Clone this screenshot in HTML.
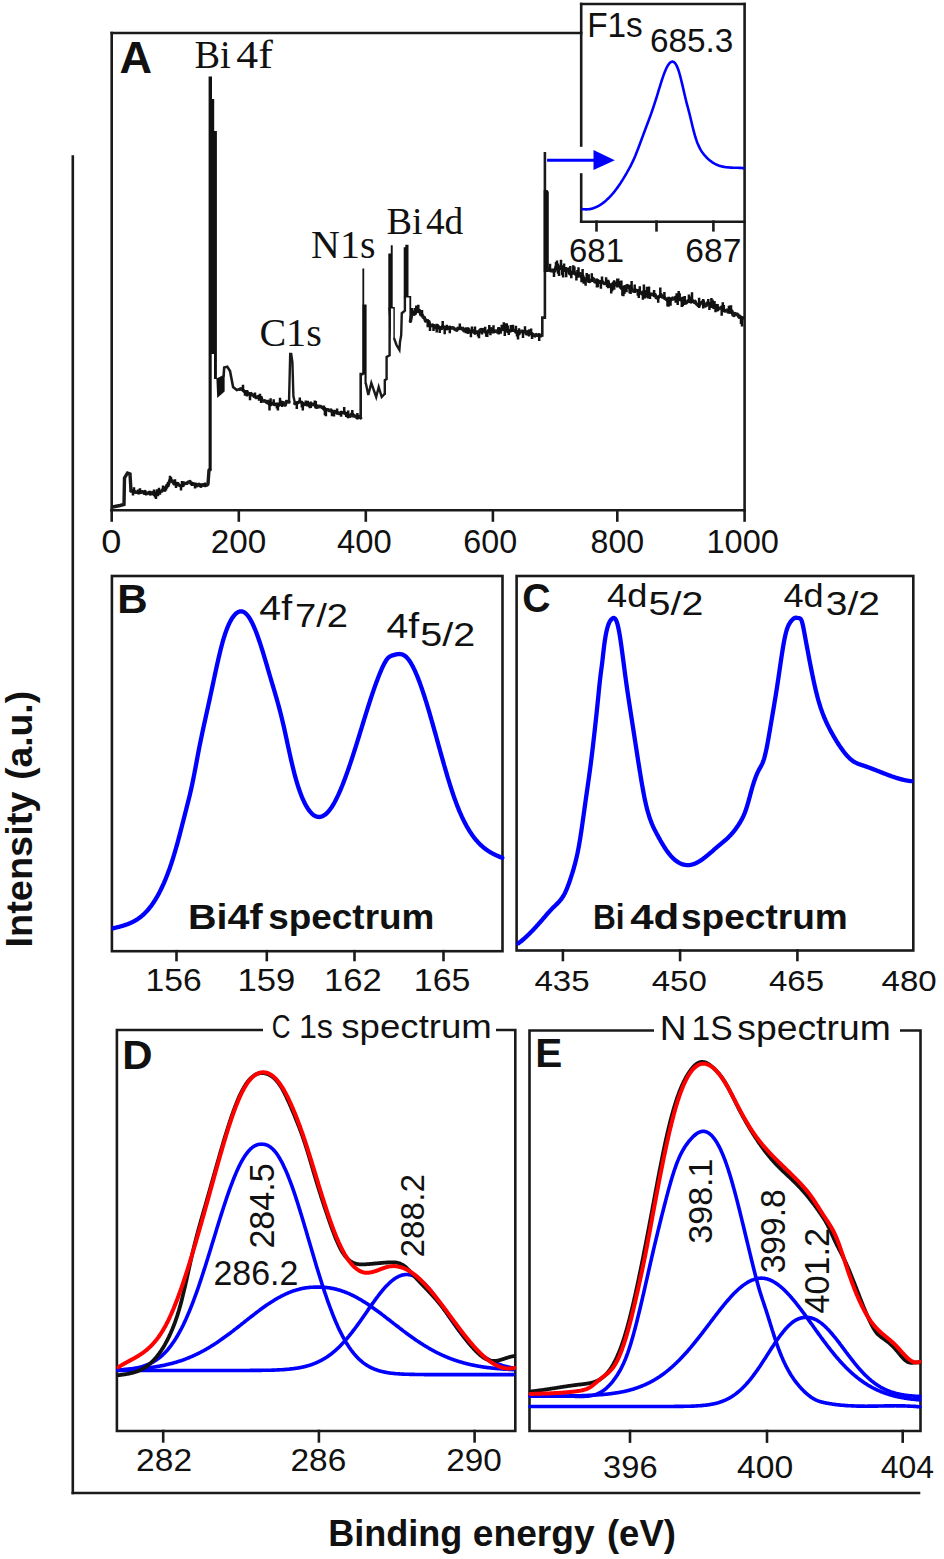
<!DOCTYPE html>
<html><head><meta charset="utf-8"><style>
html,body{margin:0;padding:0;background:#fff;}
svg{display:block;}
</style></head><body>
<svg width="944" height="1559" viewBox="0 0 944 1559">
<rect width="944" height="1559" fill="#fff"/>
<line x1="72.8" y1="156.5" x2="72.8" y2="1493" stroke="#1a1a1a" stroke-width="2.6" stroke-linecap="square"/>
<line x1="72.8" y1="1493" x2="919" y2="1493" stroke="#1a1a1a" stroke-width="2.6" stroke-linecap="square"/>
<text transform="translate(32.30,947.57) rotate(-90) scale(1.0109,1)" font-family="'Liberation Sans', sans-serif" font-weight="bold" font-size="37.54" fill="#111">Intensity</text>
<text transform="translate(32.30,779.86) rotate(-90) scale(0.9923,1)" font-family="'Liberation Sans', sans-serif" font-weight="bold" font-size="37.54" fill="#111">(a.u.)</text>
<text transform="translate(328.26,1546.00) scale(0.9640,1)" font-family="'Liberation Sans', sans-serif" font-weight="bold" font-size="37.39" fill="#111">Binding</text>
<text transform="translate(472.81,1546.00) scale(0.9937,1)" font-family="'Liberation Sans', sans-serif" font-weight="bold" font-size="37.39" fill="#111">energy</text>
<text transform="translate(606.98,1546.00) scale(0.9756,1)" font-family="'Liberation Sans', sans-serif" font-weight="bold" font-size="37.39" fill="#111">(eV)</text>
<line x1="111.7" y1="33" x2="581.2" y2="33" stroke="#1a1a1a" stroke-width="2.6" stroke-linecap="square"/>
<line x1="111.7" y1="33" x2="111.7" y2="510.3" stroke="#1a1a1a" stroke-width="2.6" stroke-linecap="square"/>
<line x1="111.7" y1="510.3" x2="744.6" y2="510.3" stroke="#1a1a1a" stroke-width="2.6" stroke-linecap="square"/>
<line x1="744.6" y1="4" x2="744.6" y2="510.3" stroke="#1a1a1a" stroke-width="2.6" stroke-linecap="square"/>
<line x1="581.2" y1="4" x2="744.6" y2="4" stroke="#1a1a1a" stroke-width="2.6" stroke-linecap="square"/>
<line x1="581.2" y1="4" x2="581.2" y2="145.5" stroke="#1a1a1a" stroke-width="2.6" stroke-linecap="square"/>
<line x1="581.2" y1="174.5" x2="581.2" y2="221.7" stroke="#1a1a1a" stroke-width="2.6" stroke-linecap="square"/>
<line x1="581.2" y1="221.7" x2="744.6" y2="221.7" stroke="#1a1a1a" stroke-width="2.6" stroke-linecap="square"/>
<line x1="111.7" y1="510.3" x2="111.7" y2="520.5" stroke="#1a1a1a" stroke-width="2.6" stroke-linecap="square"/>
<line x1="238.8" y1="510.3" x2="238.8" y2="520.5" stroke="#1a1a1a" stroke-width="2.6" stroke-linecap="square"/>
<line x1="365.8" y1="510.3" x2="365.8" y2="520.5" stroke="#1a1a1a" stroke-width="2.6" stroke-linecap="square"/>
<line x1="492.9" y1="510.3" x2="492.9" y2="520.5" stroke="#1a1a1a" stroke-width="2.6" stroke-linecap="square"/>
<line x1="617.3" y1="510.3" x2="617.3" y2="520.5" stroke="#1a1a1a" stroke-width="2.6" stroke-linecap="square"/>
<line x1="744.6" y1="510.3" x2="744.6" y2="520.5" stroke="#1a1a1a" stroke-width="2.6" stroke-linecap="square"/>
<line x1="596.5" y1="221.7" x2="596.5" y2="230.3" stroke="#1a1a1a" stroke-width="2.6" stroke-linecap="square"/>
<line x1="656.5" y1="221.7" x2="656.5" y2="230.3" stroke="#1a1a1a" stroke-width="2.6" stroke-linecap="square"/>
<line x1="713.4" y1="221.7" x2="713.4" y2="230.3" stroke="#1a1a1a" stroke-width="2.6" stroke-linecap="square"/>
<text transform="translate(101.15,553.18) scale(1.1178,1)" font-family="'Liberation Sans', sans-serif" font-weight="normal" font-size="32.39" fill="#111">0</text>
<text transform="translate(210.64,553.18) scale(1.0270,1)" font-family="'Liberation Sans', sans-serif" font-weight="normal" font-size="32.39" fill="#111">200</text>
<text transform="translate(336.98,553.18) scale(1.0110,1)" font-family="'Liberation Sans', sans-serif" font-weight="normal" font-size="32.39" fill="#111">400</text>
<text transform="translate(463.29,553.18) scale(0.9957,1)" font-family="'Liberation Sans', sans-serif" font-weight="normal" font-size="32.39" fill="#111">600</text>
<text transform="translate(590.55,553.18) scale(0.9925,1)" font-family="'Liberation Sans', sans-serif" font-weight="normal" font-size="32.39" fill="#111">800</text>
<text transform="translate(706.46,553.18) scale(1.0051,1)" font-family="'Liberation Sans', sans-serif" font-weight="normal" font-size="32.39" fill="#111">1000</text>
<text transform="translate(569.05,261.87) scale(0.9985,1)" font-family="'Liberation Sans', sans-serif" font-weight="normal" font-size="32.96" fill="#111">681</text>
<text transform="translate(685.32,261.87) scale(1.0179,1)" font-family="'Liberation Sans', sans-serif" font-weight="normal" font-size="32.96" fill="#111">687</text>
<text transform="translate(587.13,37.20) scale(0.9711,1)" font-family="'Liberation Sans', sans-serif" font-weight="normal" font-size="34.35" fill="#111">F1s</text>
<text transform="translate(649.93,52.46) scale(0.9824,1)" font-family="'Liberation Sans', sans-serif" font-weight="normal" font-size="33.94" fill="#111">685.3</text>
<text transform="translate(119.47,73.10) scale(1.0131,1)" font-family="'Liberation Sans', sans-serif" font-weight="bold" font-size="44.49" fill="#111">A</text>
<text transform="translate(194.55,67.90) scale(0.9730,1)" font-family="'Liberation Serif', serif" font-weight="normal" font-size="39.39" fill="#111">Bi</text>
<text transform="translate(236.32,67.90) scale(1.1121,1)" font-family="'Liberation Serif', serif" font-weight="normal" font-size="39.39" fill="#111">4f</text>
<text transform="translate(259.40,345.60) scale(1.0133,1)" font-family="'Liberation Serif', serif" font-weight="normal" font-size="39.54" fill="#111">C1s</text>
<text transform="translate(311.10,257.70) scale(0.9984,1)" font-family="'Liberation Serif', serif" font-weight="normal" font-size="40.00" fill="#111">N1s</text>
<text transform="translate(386.45,233.60) scale(0.9922,1)" font-family="'Liberation Serif', serif" font-weight="normal" font-size="38.63" fill="#111">Bi</text>
<text transform="translate(425.95,233.60) scale(0.9662,1)" font-family="'Liberation Serif', serif" font-weight="normal" font-size="38.63" fill="#111">4d</text>
<line x1="548.6" y1="160.2" x2="596" y2="160.2" stroke="#0000ff" stroke-width="3" stroke-linecap="square"/>
<polygon points="593.5,150 614.8,160.2 593.5,170" fill="#0000ff"/>
<polyline points="582.4,209.1 583.0,209.2 583.6,209.3 584.2,209.3 584.8,209.3 585.4,209.4 586.0,209.4 586.6,209.4 587.2,209.3 587.8,209.3 588.4,209.2 589.0,209.2 589.6,209.1 590.2,209.0 590.8,208.9 591.4,208.7 592.0,208.6 592.6,208.4 593.2,208.2 593.8,208.0 594.4,207.8 595.0,207.6 595.6,207.3 596.2,207.1 596.8,206.8 597.4,206.5 598.0,206.2 598.6,205.9 599.2,205.5 599.8,205.2 600.4,204.8 601.0,204.4 601.6,204.0 602.2,203.6 602.8,203.1 603.4,202.7 604.0,202.2 604.6,201.7 605.2,201.2 605.8,200.7 606.4,200.2 607.0,199.6 607.6,199.1 608.2,198.5 608.8,197.9 609.4,197.3 610.0,196.7 610.6,196.0 611.2,195.4 611.8,194.7 612.4,194.0 613.0,193.3 613.6,192.6 614.2,191.8 614.8,191.1 615.4,190.3 616.0,189.5 616.6,188.7 617.2,187.9 617.8,187.1 618.4,186.2 619.0,185.4 619.6,184.5 620.2,183.6 620.8,182.7 621.4,181.7 622.0,180.8 622.6,179.8 623.2,178.9 623.8,177.9 624.4,176.9 625.0,175.9 625.6,174.8 626.2,173.8 626.8,172.8 627.4,171.7 628.0,170.7 628.6,169.6 629.2,168.5 629.8,167.4 630.4,166.3 631.0,165.1 631.6,163.9 632.2,162.7 632.8,161.4 633.4,160.1 634.0,158.8 634.6,157.4 635.2,156.0 635.8,154.5 636.4,153.0 637.0,151.5 637.6,149.9 638.2,148.4 638.8,146.8 639.4,145.2 640.0,143.6 640.6,142.0 641.2,140.4 641.8,138.7 642.4,137.1 643.0,135.5 643.6,133.9 644.2,132.3 644.8,130.7 645.4,129.1 646.0,127.5 646.6,125.9 647.2,124.3 647.8,122.7 648.4,121.1 649.0,119.5 649.6,117.9 650.2,116.2 650.8,114.6 651.4,112.9 652.0,111.2 652.6,109.4 653.2,107.7 653.8,105.9 654.4,104.1 655.0,102.2 655.6,100.4 656.2,98.5 656.8,96.6 657.4,94.6 658.0,92.7 658.6,90.7 659.2,88.7 659.8,86.8 660.4,84.8 661.0,82.9 661.6,81.0 662.2,79.1 662.8,77.3 663.4,75.6 664.0,74.0 664.6,72.4 665.2,70.9 665.8,69.5 666.4,68.2 667.0,67.0 667.6,65.9 668.2,65.0 668.8,64.1 669.4,63.3 670.0,62.7 670.6,62.2 671.2,61.9 671.8,61.7 672.4,61.6 673.0,61.7 673.6,61.9 674.2,62.3 674.8,62.9 675.4,63.6 676.0,64.5 676.6,65.6 677.2,66.9 677.8,68.4 678.4,70.0 679.0,71.9 679.6,74.0 680.2,76.1 680.8,78.5 681.4,80.9 682.0,83.4 682.6,85.9 683.2,88.5 683.8,91.1 684.4,93.7 685.0,96.3 685.6,98.8 686.2,101.2 686.8,103.6 687.4,105.8 688.0,108.0 688.6,110.3 689.2,112.6 689.8,115.0 690.4,117.5 691.0,120.0 691.6,122.5 692.2,125.0 692.8,127.5 693.4,129.9 694.0,132.2 694.6,134.4 695.2,136.5 695.8,138.4 696.4,140.2 697.0,141.9 697.6,143.4 698.2,144.8 698.8,146.2 699.4,147.4 700.0,148.6 700.6,149.7 701.2,150.7 701.8,151.6 702.4,152.5 703.0,153.3 703.6,154.1 704.2,154.8 704.8,155.5 705.4,156.2 706.0,156.9 706.6,157.5 707.2,158.1 707.8,158.7 708.4,159.2 709.0,159.8 709.6,160.3 710.2,160.7 710.8,161.2 711.4,161.6 712.0,162.1 712.6,162.5 713.2,162.8 713.8,163.2 714.4,163.5 715.0,163.9 715.6,164.2 716.2,164.5 716.8,164.7 717.4,165.0 718.0,165.2 718.6,165.5 719.2,165.7 719.8,165.9 720.4,166.0 721.0,166.2 721.6,166.4 722.2,166.5 722.8,166.6 723.4,166.8 724.0,166.9 724.6,167.0 725.2,167.1 725.8,167.2 726.4,167.2 727.0,167.3 727.6,167.4 728.2,167.4 728.8,167.5 729.4,167.5 730.0,167.5 730.6,167.6 731.2,167.6 731.8,167.6 732.4,167.7 733.0,167.7 733.6,167.7 734.2,167.7 734.8,167.7 735.4,167.7 736.0,167.8 736.6,167.8 737.2,167.8 737.8,167.8 738.4,167.8 739.0,167.9 739.6,167.9 740.2,167.9 740.8,167.9 741.4,168.0 742.0,168.0 742.6,168.1 743.2,168.1 743.5,168.2" fill="none" stroke="#0000ff" stroke-width="2.6" stroke-linejoin="round" stroke-linecap="round"/>
<polyline points="112.5,507.0 120.0,505.5 124.0,504.5 124.5,478.0 127.5,473.0 130.0,474.0 131.0,491.0" fill="none" stroke="#1a1a1a" stroke-width="3.4" stroke-linejoin="miter" stroke-linecap="round"/>
<polyline points="131.0,490.9 132.0,490.8 133.0,491.4 134.0,490.9 135.0,492.4 136.0,492.3 137.0,492.2 138.0,492.6 139.0,491.3 140.0,492.2 141.0,492.4 142.0,491.7 143.0,492.1 144.0,492.1 145.0,491.6 146.0,493.9 147.0,493.6 148.0,493.0 149.0,492.5 150.0,494.0 151.0,493.9 152.0,492.7 153.0,492.7 154.0,494.3 155.0,494.6 156.0,494.3 157.0,491.8 158.0,491.8 159.0,491.7 160.0,491.8 161.0,491.2 162.0,491.1 163.0,489.5 164.0,489.7 165.0,487.9 166.0,487.4 167.0,485.3 168.0,485.6 169.0,482.7 170.0,480.0 171.0,479.9 172.0,481.5 173.0,481.3 174.0,483.8 175.0,483.9 176.0,483.3 177.0,483.5 178.0,484.8 179.0,485.0 180.0,485.6 181.0,486.1 182.0,485.4 183.0,485.6 184.0,483.1 185.0,483.6 186.0,483.4 187.0,483.3 188.0,482.2 189.0,481.9 190.0,481.5 191.0,483.4 192.0,483.1 193.0,484.2 194.0,484.0 195.0,484.3 196.0,484.2 197.0,485.8 198.0,484.7 199.0,484.3 200.0,485.8 201.0,486.3 202.0,484.9 203.0,484.8 204.0,485.4 205.0,485.6 206.0,485.3 207.0,485.1 208.0,484.0 209.0,470.0 210.0,470.0" fill="none" stroke="#1a1a1a" stroke-width="3.4" stroke-linejoin="round" stroke-linecap="round"/>
<polygon points="208.6,470 208.6,76.5 212,76.5 212,99 214.2,99 214.2,131 216.9,131 216.9,379 214,379 214,354 211.7,354 211.7,470" fill="#111"/>
<polygon points="216.4,378.5 217.2,398 224.6,391.5 224.6,374.5" fill="#111"/>
<polyline points="223.6,376.0 224.2,367.5 227.3,366.8 230.0,371.0 231.5,378.7 233.1,387.0 236.8,390.0 240.0,389.0" fill="none" stroke="#1a1a1a" stroke-width="2.6" stroke-linejoin="miter" stroke-linecap="round"/>
<polyline points="240.0,389.2 241.0,388.7 242.0,389.2 243.0,390.0 244.0,391.3 245.0,391.6 246.0,392.4 247.0,391.7 248.0,394.1 249.0,393.6 250.0,394.2 251.0,393.6 252.0,394.9 253.0,395.0 254.0,396.3 255.0,396.5 256.0,397.5 257.0,397.5 258.0,396.6 259.0,396.3 260.0,397.8 261.1,397.6 262.1,400.4 263.2,401.0 264.2,400.8 265.3,400.9 266.3,402.1 267.4,402.7 268.4,401.4 269.5,404.3 270.6,404.4 271.6,403.5 272.6,403.5 273.7,404.1 274.8,404.6 275.8,404.2 276.9,404.2 277.9,404.5 278.9,405.2 280.0,403.8 281.1,404.2 282.1,402.8 283.2,402.8 284.3,404.8 285.3,405.1 286.4,401.5 287.7,401.7 289.0,402.0" fill="none" stroke="#1a1a1a" stroke-width="3.4" stroke-linejoin="round" stroke-linecap="round"/>
<polyline points="289.0,402.0 290.2,354.0 291.2,354.0 292.4,362.0 293.4,396.0 294.8,402.5" fill="none" stroke="#1a1a1a" stroke-width="2.4" stroke-linejoin="miter" stroke-linecap="round"/>
<polyline points="294.8,403.6 295.8,403.2 296.8,403.0 297.8,402.7 298.8,402.1 299.8,401.5 300.8,402.0 301.8,402.4 302.8,404.4 303.8,403.8 304.8,404.5 305.8,404.1 306.8,404.8 307.8,404.8 308.8,405.3 309.8,404.7 310.8,403.2 311.8,404.4 312.8,404.7 313.8,404.2 314.8,404.1 315.8,406.7 316.8,407.3 317.9,406.1 318.9,406.9 319.9,406.3 320.9,406.7 321.9,407.4 322.9,407.7 323.9,409.1 324.9,409.0 325.9,410.1 326.9,409.9 328.0,409.7 329.0,410.5 330.0,410.7 331.0,410.0 332.0,411.4 333.0,411.8 334.0,411.4 335.0,411.5 336.0,412.3 337.1,413.0 338.1,412.8 339.1,413.6 340.1,413.5 341.1,412.3 342.1,412.6 343.2,412.8 344.2,412.1 345.2,413.7 346.2,413.5 347.2,415.8 348.2,416.5 349.3,415.7 350.3,416.2 351.3,414.3 352.3,413.9 353.3,415.9 354.3,415.5 355.4,416.3 356.4,417.1 357.4,417.8 358.4,416.7 359.5,416.4 360.7,418.0" fill="none" stroke="#1a1a1a" stroke-width="3.4" stroke-linejoin="round" stroke-linecap="round"/>
<polyline points="360.7,418.0 360.7,374.1 362.6,374.1" fill="none" stroke="#1a1a1a" stroke-width="2.6" stroke-linejoin="miter" stroke-linecap="round"/>
<polygon points="362.2,374.5 362.2,304.6 362.4,304.6 362.4,268.5 364.2,268.5 364.2,304.6 366.6,304.6 366.6,384 364.5,384 364.5,374.5" fill="#111"/>
<polyline points="366.0,384.0 368.3,395.0 371.3,383.0 376.2,397.0 378.7,387.0 381.7,397.0 384.8,393.7" fill="none" stroke="#1a1a1a" stroke-width="2.4" stroke-linejoin="miter" stroke-linecap="round"/>
<polyline points="384.8,393.7 384.8,380.2 386.6,379.0 386.6,357.0 389.6,355.2 389.6,308.3" fill="none" stroke="#1a1a1a" stroke-width="2.4" stroke-linejoin="miter" stroke-linecap="round"/>
<polygon points="388.3,308 388.3,253.4 390.8,253.4 390.8,245.3 392.7,245.3 392.7,307 394.8,307 394.8,339 393.4,339 393.4,308.5 390.8,308.5 390.8,340" fill="#111"/>
<polyline points="394.3,338.8 396.5,345.0 399.4,349.8 400.0,342.0 401.2,335.1 401.8,313.2 404.9,310.7 404.9,297.3" fill="none" stroke="#1a1a1a" stroke-width="2.4" stroke-linejoin="miter" stroke-linecap="round"/>
<polygon points="403.7,297.5 403.7,247.3 405.3,247.3 405.3,244.8 408.5,244.8 408.5,296.1 411.2,296.1 411.2,321 409.4,321 409.4,297.5" fill="#111"/>
<polyline points="410.4,321.3 412.2,312.2 413.2,313.0 414.2,314.1 415.2,313.3 416.3,311.0 417.3,310.8 418.3,311.0 419.5,310.4 420.8,314.8 422.0,314.7 423.2,317.3 424.3,317.4 425.5,321.1 426.6,320.4 427.7,321.1 428.9,321.7 430.0,325.9 431.2,325.7 432.4,324.9 433.5,325.5 434.7,327.6 435.7,327.5 436.7,325.7 437.7,325.8 438.7,327.2 439.7,327.6 440.7,327.9 441.7,328.4 442.7,326.3 443.7,327.0 444.7,328.2 445.8,327.5 446.8,328.7 447.8,328.6 448.8,327.6 449.8,327.5 450.8,327.8 451.8,328.1 452.8,327.7 453.8,328.3 454.8,329.3 455.8,329.8 456.8,330.2 457.8,328.3 458.8,328.7 459.8,328.4 460.8,328.0 461.9,329.0 462.9,328.4 463.9,330.8 464.9,330.7 465.9,329.0 466.9,329.4 467.9,329.0 468.9,329.7 469.9,331.7 470.9,331.6 471.9,331.3 472.9,330.7 473.9,332.3 475.0,332.8 476.0,332.2 477.0,331.8 478.0,332.5 479.0,333.0 480.0,330.0 481.0,329.5 482.1,330.2 483.1,329.5 484.1,331.1 485.2,331.7 486.2,332.4 487.3,332.5 488.3,330.6 489.3,330.8 490.4,329.4 491.4,328.8 492.4,331.8 493.5,331.4 494.5,331.6 495.6,331.0 496.6,331.7 497.6,332.1 498.7,328.7 499.7,329.4 500.7,329.8 501.7,329.0 502.7,329.6 503.8,329.0 504.8,329.5 505.8,329.4 506.8,329.1 507.8,331.2 508.8,330.4 509.9,330.8 510.9,330.5 511.9,330.1 512.9,330.1 513.9,330.4 514.9,330.7 515.9,331.8 517.0,331.8 518.0,333.2 519.0,333.6 520.0,331.2 521.0,331.7 522.0,331.1 523.0,331.8 524.0,331.7 525.0,330.9 526.1,333.7 527.1,333.8 528.1,331.8 529.1,331.2 530.1,333.0 531.1,333.3 532.1,334.2 533.1,334.5 534.1,335.4 535.1,335.9 536.2,334.6 537.2,335.3 538.2,335.3 539.2,335.0 540.2,335.9 541.2,335.8" fill="none" stroke="#1a1a1a" stroke-width="3.4" stroke-linejoin="round" stroke-linecap="round"/>
<polyline points="541.2,335.5 542.3,335.5 542.3,317.6 544.9,317.6 544.9,152.0" fill="none" stroke="#1a1a1a" stroke-width="2.6" stroke-linejoin="miter" stroke-linecap="butt"/>
<polygon points="543.7,190 547.5,190 548.8,192 548.8,272 543.7,272" fill="#111"/>
<polyline points="548.0,269.7 549.0,268.9 550.0,270.0 551.0,270.8 552.0,270.1 553.0,271.1 554.0,270.4 555.0,270.7 556.0,266.9 557.0,267.8 558.0,265.9 559.0,268.9 560.0,268.5 561.0,267.7 562.1,267.6 563.1,270.0 564.1,270.0 565.1,269.0 566.2,269.3 567.2,269.9 568.2,269.6 569.2,272.8 570.3,273.2 571.3,272.5 572.3,273.3 573.3,272.2 574.4,272.5 575.4,274.2 576.4,274.4 577.4,275.2 578.5,275.3 579.5,273.8 580.5,273.6 581.5,276.6 582.6,275.6 583.6,278.5 584.6,279.0 585.6,279.4 586.7,279.6 587.7,279.9 588.7,280.9 589.7,281.5 590.7,280.7 591.8,279.9 592.8,278.4 593.8,279.1 594.8,281.8 595.8,282.1 596.9,280.6 597.9,281.1 598.9,282.3 599.9,281.5 600.9,282.3 602.0,281.3 603.0,282.5 604.0,283.5 605.0,283.6 606.1,283.2 607.1,281.4 608.1,281.7 609.1,285.6 610.1,286.4 611.2,285.7 612.2,285.4 613.2,283.1 614.2,282.5 615.2,284.7 616.3,284.0 617.3,285.4 618.3,284.8 619.3,284.9 620.3,286.6 621.4,287.5 622.4,288.3 623.4,289.0 624.4,287.3 625.5,286.7 626.5,286.3 627.5,285.6 628.5,287.5 629.6,286.8 630.6,288.9 631.6,288.6 632.6,290.7 633.7,291.2 634.7,291.0 635.7,290.2 636.7,290.4 637.8,291.0 638.8,291.1 639.8,291.9 640.8,293.0 641.9,293.8 642.9,292.7 643.9,292.5 644.9,292.4 646.0,291.9 647.0,293.5 648.0,293.8 649.0,293.3 650.0,294.3 651.1,294.2 652.1,294.6 653.1,294.2 654.1,295.4 655.2,294.8 656.2,297.7 657.2,297.8 658.2,297.4 659.3,296.4 660.3,295.5 661.3,294.9 662.3,297.1 663.4,296.7 664.4,297.7 665.4,298.5 666.4,299.5 667.5,300.3 668.5,299.1 669.5,298.6 670.5,300.0 671.6,299.3 672.6,298.0 673.6,299.0 674.6,298.1 675.7,297.4 676.7,298.7 677.7,299.3 678.7,298.5 679.7,299.3 680.8,299.9 681.8,299.5 682.8,299.0 683.8,303.1 684.8,302.4 685.9,303.0 686.9,302.3 687.9,300.8 688.9,300.6 689.9,301.5 691.0,302.0 692.0,300.3 693.0,301.0 694.0,302.3 695.1,301.4 696.1,303.6 697.1,304.5 698.1,305.3 699.1,305.7 700.2,303.7 701.2,302.7 702.2,302.1 703.2,301.2 704.2,305.3 705.3,306.0 706.3,305.5 707.3,303.0 708.3,303.4 709.4,303.8 710.4,304.8 711.4,305.7 712.5,304.9 713.5,307.5 714.5,306.9 715.5,305.9 716.6,305.5 717.6,309.7 718.6,308.9 719.7,308.2 720.7,308.0 721.7,307.8 722.8,307.1 723.8,310.3 724.8,311.1 725.8,310.9 726.9,310.1 727.9,311.8 728.9,311.6 730.0,311.8 731.0,311.8 732.0,311.1 733.0,315.0 734.0,315.5 735.0,313.6 736.0,314.6 737.0,313.9 738.0,314.8 739.0,317.2 740.0,316.3 741.0,317.9 742.0,318.6 743.0,318.0" fill="none" stroke="#1a1a1a" stroke-width="3.4" stroke-linejoin="round" stroke-linecap="round"/>
<path d="M133.0,490.2V495.4 M134.0,492.1V487.2 M138.0,493.5V489.6 M139.0,490.3V494.6 M140.0,493.4V488.2 M144.0,491.3V494.8 M145.0,490.6V495.1 M150.0,495.0V490.7 M154.0,495.7V489.5 M155.0,493.8V497.5 M156.0,492.9V499.1 M157.0,492.7V489.2 M158.0,490.4V496.2 M159.0,492.9V487.8 M160.0,491.0V494.7 M163.0,490.8V485.4 M165.0,486.7V491.8 M166.0,486.5V490.5 M167.0,484.4V488.6 M168.0,486.7V482.0 M170.0,481.3V475.7 M171.0,480.8V476.9 M175.0,485.2V479.2 M176.0,481.9V488.1 M178.0,485.6V482.0 M181.0,484.7V490.6 M182.0,486.8V480.9 M183.0,486.8V481.7 M192.0,482.3V486.1 M195.0,483.1V488.4 M201.0,487.2V483.5 M205.0,486.5V482.4 M243.0,391.5V384.8 M245.0,390.4V395.7 M247.0,390.2V396.6 M250.0,392.4V400.3 M255.0,397.7V392.5 M259.0,395.0V400.7 M260.0,399.0V393.8 M261.1,396.0V403.0 M269.5,402.4V410.4 M270.6,406.3V398.3 M273.7,405.6V399.3 M276.9,403.0V408.4 M277.9,402.7V410.5 M280.0,405.6V397.8 M281.1,405.4V400.4 M282.1,401.6V406.9 M296.8,401.2V409.0 M299.8,402.8V397.4 M301.8,400.9V407.6 M302.8,402.6V410.4 M305.8,405.1V400.6 M307.8,406.0V400.8 M309.8,403.6V408.3 M310.8,401.8V408.1 M314.8,405.2V400.4 M315.8,408.4V401.1 M323.9,410.2V405.5 M324.9,407.2V415.2 M325.9,408.3V416.2 M332.0,410.0V416.3 M334.0,410.0V416.4 M337.1,414.3V408.5 M341.1,411.0V416.8 M344.2,413.6V406.9 M346.2,412.4V417.0 M348.2,418.3V410.5 M352.3,415.0V410.1 M357.4,419.2V413.0 M412.2,313.4V307.9 M414.2,315.2V310.4 M415.2,314.9V308.0 M416.3,312.6V305.6 M418.3,312.9V304.8 M422.0,316.1V309.9 M427.7,319.3V327.3 M428.9,320.4V326.0 M430.0,324.4V331.1 M433.5,323.9V330.9 M436.7,323.8V332.4 M437.7,324.7V329.5 M439.7,326.0V332.9 M442.7,327.9V320.9 M444.7,326.4V334.3 M446.8,329.9V324.8 M449.8,325.8V333.2 M459.8,329.9V323.6 M465.9,327.7V333.3 M467.9,327.5V333.9 M470.9,329.9V337.3 M471.9,332.8V326.5 M475.0,334.7V326.4 M478.0,331.3V336.6 M479.0,331.4V338.2 M482.1,328.8V334.6 M485.2,333.2V326.8 M486.2,331.1V336.7 M487.3,331.1V337.1 M489.3,332.6V325.1 M490.4,327.6V335.3 M493.5,333.3V325.2 M498.7,326.9V334.6 M500.7,328.6V333.7 M501.7,330.3V324.8 M503.8,331.0V322.3 M504.8,327.5V336.0 M505.8,331.2V323.2 M506.8,330.9V323.2 M507.8,332.9V325.5 M508.8,329.0V335.0 M510.9,332.2V325.0 M512.9,331.8V324.7 M515.9,333.6V325.8 M517.0,330.4V336.4 M518.0,331.3V339.6 M519.0,335.2V328.3 M523.0,329.9V338.0 M525.0,332.3V326.3 M528.1,330.7V335.6 M529.1,329.6V336.4 M531.1,334.7V328.4 M532.1,332.7V339.1 M539.2,333.3V340.9 M550.0,271.8V263.8 M554.0,268.5V277.0 M556.0,268.3V262.0 M557.0,269.9V260.6 M558.0,263.6V273.7 M559.0,266.8V275.9 M561.0,270.0V259.7 M562.1,265.3V275.2 M563.1,267.7V277.6 M564.1,271.9V263.5 M566.2,266.9V277.3 M569.2,274.4V267.6 M570.3,275.4V266.1 M571.3,270.7V278.3 M573.3,274.3V265.3 M574.4,274.3V266.4 M576.4,272.6V280.4 M577.4,276.8V269.9 M578.5,277.7V267.2 M581.5,274.9V282.2 M582.6,277.6V269.0 M583.6,276.9V283.8 M585.6,277.4V285.8 M586.7,281.6V272.9 M588.7,282.9V274.2 M591.8,282.0V273.2 M596.9,278.5V287.6 M597.9,279.3V287.3 M600.9,280.4V288.7 M602.0,282.7V276.5 M606.1,285.0V277.2 M607.1,279.7V287.1 M608.1,279.7V288.3 M611.2,283.3V293.6 M612.2,283.7V291.2 M614.2,280.3V289.7 M617.3,287.5V278.4 M618.3,286.7V278.5 M620.3,288.4V280.9 M621.4,289.7V280.4 M622.4,286.0V295.8 M623.4,286.8V296.3 M624.4,285.3V294.0 M626.5,284.5V292.3 M629.6,284.8V293.2 M630.6,287.3V294.1 M631.6,290.8V281.0 M634.7,292.9V284.5 M637.8,289.6V295.7 M638.8,288.9V298.1 M639.8,293.6V286.2 M642.9,290.6V299.7 M643.9,294.8V284.6 M644.9,290.6V298.6 M646.0,290.3V297.6 M647.0,295.5V286.7 M648.0,292.5V298.4 M649.0,295.3V286.5 M650.0,292.9V299.0 M654.1,297.0V290.0 M658.2,295.8V302.8 M660.3,298.0V287.5 M664.4,299.4V291.9 M667.5,298.4V306.6 M668.5,296.8V306.8 M670.5,298.2V305.8 M675.7,295.8V302.7 M676.7,300.3V293.3 M677.7,297.5V305.1 M678.7,300.8V290.9 M679.7,301.0V293.3 M681.8,297.2V306.9 M682.8,296.8V306.3 M683.8,305.0V296.6 M684.8,304.3V295.9 M688.9,302.4V294.4 M689.9,303.0V296.5 M692.0,302.7V292.2 M699.1,308.1V297.8 M703.2,298.9V308.6 M708.3,304.7V298.9 M709.4,301.9V310.1 M711.4,308.0V297.9 M712.5,306.4V299.6 M714.5,308.6V301.1 M715.5,304.0V312.2 M717.6,311.3V304.0 M721.7,305.4V315.8 M722.8,308.6V302.2 M723.8,311.9V305.1 M728.9,313.4V305.8 M730.0,313.8V305.5 M731.0,313.8V305.2 M741.0,316.0V324.0 M742.0,316.2V326.6" stroke="#111" stroke-width="2.5" fill="none"/>
<rect x="111.9" y="576" width="390.6" height="375.20000000000005" fill="none" stroke="#1a1a1a" stroke-width="2.6"/>
<line x1="176.5" y1="951.2" x2="176.5" y2="960" stroke="#1a1a1a" stroke-width="2.6" stroke-linecap="square"/>
<line x1="266.8" y1="951.2" x2="266.8" y2="960" stroke="#1a1a1a" stroke-width="2.6" stroke-linecap="square"/>
<line x1="354.5" y1="951.2" x2="354.5" y2="960" stroke="#1a1a1a" stroke-width="2.6" stroke-linecap="square"/>
<line x1="443.5" y1="951.2" x2="443.5" y2="960" stroke="#1a1a1a" stroke-width="2.6" stroke-linecap="square"/>
<text transform="translate(145.48,991.18) scale(1.0574,1)" font-family="'Liberation Sans', sans-serif" font-weight="normal" font-size="31.83" fill="#111">156</text>
<text transform="translate(237.40,991.18) scale(1.0879,1)" font-family="'Liberation Sans', sans-serif" font-weight="normal" font-size="31.83" fill="#111">159</text>
<text transform="translate(324.10,991.18) scale(1.0873,1)" font-family="'Liberation Sans', sans-serif" font-weight="normal" font-size="31.83" fill="#111">162</text>
<text transform="translate(413.85,991.18) scale(1.0661,1)" font-family="'Liberation Sans', sans-serif" font-weight="normal" font-size="31.83" fill="#111">165</text>
<text transform="translate(117.16,612.80) scale(1.0165,1)" font-family="'Liberation Sans', sans-serif" font-weight="bold" font-size="41.45" fill="#111">B</text>
<polyline points="113.5,928.3 114.1,928.1 114.7,928.0 115.3,927.8 115.9,927.6 116.5,927.5 117.1,927.3 117.7,927.2 118.3,927.0 118.9,926.9 119.5,926.7 120.1,926.5 120.7,926.4 121.3,926.2 121.9,926.0 122.5,925.9 123.1,925.7 123.7,925.5 124.3,925.3 124.9,925.1 125.5,924.9 126.1,924.7 126.7,924.5 127.3,924.3 127.9,924.1 128.5,923.8 129.1,923.6 129.7,923.3 130.3,923.1 130.9,922.8 131.5,922.5 132.1,922.3 132.7,922.0 133.3,921.7 133.9,921.3 134.5,921.0 135.1,920.7 135.7,920.3 136.3,920.0 136.9,919.6 137.5,919.2 138.1,918.8 138.7,918.4 139.3,917.9 139.9,917.5 140.5,917.0 141.1,916.5 141.7,916.1 142.3,915.5 142.9,915.0 143.5,914.5 144.1,913.9 144.7,913.3 145.3,912.7 145.9,912.1 146.5,911.5 147.1,910.8 147.7,910.2 148.3,909.5 148.9,908.7 149.5,908.0 150.1,907.2 150.7,906.5 151.3,905.7 151.9,904.8 152.5,904.0 153.1,903.1 153.7,902.2 154.3,901.3 154.9,900.4 155.5,899.4 156.1,898.4 156.7,897.4 157.3,896.4 157.9,895.3 158.5,894.2 159.1,893.1 159.7,891.9 160.3,890.7 160.9,889.5 161.5,888.3 162.1,887.0 162.7,885.7 163.3,884.4 163.9,883.1 164.5,881.7 165.1,880.2 165.7,878.8 166.3,877.3 166.9,875.8 167.5,874.2 168.1,872.6 168.7,871.0 169.3,869.4 169.9,867.7 170.5,865.9 171.1,864.2 171.7,862.3 172.3,860.5 172.9,858.6 173.5,856.7 174.1,854.7 174.7,852.7 175.3,850.6 175.9,848.5 176.5,846.4 177.1,844.3 177.7,842.1 178.3,839.9 178.9,837.6 179.5,835.4 180.1,833.1 180.7,830.8 181.3,828.5 181.9,826.1 182.5,823.8 183.1,821.5 183.7,819.1 184.3,816.7 184.9,814.4 185.5,812.0 186.1,809.7 186.7,807.3 187.3,804.9 187.9,802.6 188.5,800.2 189.1,797.8 189.7,795.4 190.3,792.8 190.9,790.2 191.5,787.5 192.1,784.8 192.7,781.9 193.3,779.0 193.9,775.9 194.5,772.8 195.1,769.7 195.7,766.5 196.3,763.3 196.9,760.0 197.5,756.8 198.1,753.6 198.7,750.5 199.3,747.4 199.9,744.4 200.5,741.5 201.1,738.6 201.7,735.7 202.3,732.9 202.9,730.0 203.5,727.3 204.1,724.5 204.7,721.8 205.3,719.1 205.9,716.3 206.5,713.6 207.1,710.9 207.7,708.2 208.3,705.4 208.9,702.7 209.5,700.0 210.1,697.2 210.7,694.4 211.3,691.6 211.9,688.8 212.5,686.0 213.1,683.2 213.7,680.4 214.3,677.6 214.9,674.8 215.5,672.0 216.1,669.2 216.7,666.5 217.3,663.8 217.9,661.2 218.5,658.5 219.1,656.0 219.7,653.5 220.3,651.0 220.9,648.6 221.5,646.3 222.1,644.0 222.7,641.8 223.3,639.7 223.9,637.7 224.5,635.8 225.1,633.9 225.7,632.2 226.3,630.5 226.9,628.9 227.5,627.4 228.1,626.0 228.7,624.6 229.3,623.3 229.9,622.1 230.5,621.0 231.1,619.9 231.7,618.9 232.3,617.9 232.9,617.1 233.5,616.3 234.1,615.5 234.7,614.8 235.3,614.2 235.9,613.7 236.5,613.1 237.1,612.7 237.7,612.3 238.3,612.0 238.9,611.8 239.5,611.6 240.1,611.4 240.7,611.4 241.3,611.4 241.9,611.4 242.5,611.6 243.1,611.8 243.7,612.0 244.3,612.4 244.9,612.8 245.5,613.2 246.1,613.8 246.7,614.4 247.3,615.0 247.9,615.8 248.5,616.6 249.1,617.5 249.7,618.4 250.3,619.4 250.9,620.5 251.5,621.6 252.1,622.8 252.7,624.0 253.3,625.3 253.9,626.7 254.5,628.1 255.1,629.5 255.7,631.0 256.3,632.6 256.9,634.2 257.5,635.8 258.1,637.5 258.7,639.2 259.3,641.0 259.9,642.7 260.5,644.6 261.1,646.4 261.7,648.3 262.3,650.2 262.9,652.2 263.5,654.1 264.1,656.1 264.7,658.1 265.3,660.1 265.9,662.2 266.5,664.2 267.1,666.2 267.7,668.3 268.3,670.3 268.9,672.4 269.5,674.5 270.1,676.5 270.7,678.5 271.3,680.6 271.9,682.6 272.5,684.6 273.1,686.6 273.7,688.7 274.3,690.7 274.9,692.7 275.5,694.8 276.1,696.8 276.7,698.9 277.3,701.0 277.9,703.2 278.5,705.4 279.1,707.6 279.7,709.9 280.3,712.2 280.9,714.5 281.5,716.9 282.1,719.4 282.7,721.9 283.3,724.5 283.9,727.1 284.5,729.8 285.1,732.5 285.7,735.3 286.3,738.0 286.9,740.8 287.5,743.6 288.1,746.4 288.7,749.1 289.3,751.9 289.9,754.6 290.5,757.3 291.1,760.0 291.7,762.6 292.3,765.1 292.9,767.6 293.5,770.1 294.1,772.4 294.7,774.7 295.3,776.9 295.9,779.1 296.5,781.2 297.1,783.2 297.7,785.1 298.3,787.0 298.9,788.8 299.5,790.5 300.1,792.2 300.7,793.8 301.3,795.4 301.9,796.9 302.5,798.3 303.1,799.7 303.7,801.0 304.3,802.3 304.9,803.5 305.5,804.6 306.1,805.7 306.7,806.8 307.3,807.7 307.9,808.7 308.5,809.6 309.1,810.4 309.7,811.2 310.3,811.9 310.9,812.6 311.5,813.2 312.1,813.8 312.7,814.3 313.3,814.8 313.9,815.3 314.5,815.6 315.1,816.0 315.7,816.3 316.3,816.5 316.9,816.7 317.5,816.8 318.1,816.9 318.7,817.0 319.3,817.0 319.9,816.9 320.5,816.8 321.1,816.7 321.7,816.5 322.3,816.3 322.9,816.0 323.5,815.7 324.1,815.3 324.7,814.9 325.3,814.5 325.9,814.0 326.5,813.5 327.1,812.9 327.7,812.3 328.3,811.6 328.9,810.9 329.5,810.1 330.1,809.4 330.7,808.5 331.3,807.7 331.9,806.8 332.5,805.8 333.1,804.8 333.7,803.8 334.3,802.8 334.9,801.7 335.5,800.5 336.1,799.4 336.7,798.2 337.3,796.9 337.9,795.7 338.5,794.4 339.1,793.0 339.7,791.7 340.3,790.3 340.9,788.9 341.5,787.4 342.1,786.0 342.7,784.5 343.3,782.9 343.9,781.4 344.5,779.8 345.1,778.2 345.7,776.6 346.3,774.9 346.9,773.3 347.5,771.6 348.1,769.9 348.7,768.2 349.3,766.4 349.9,764.6 350.5,762.9 351.1,761.1 351.7,759.3 352.3,757.4 352.9,755.6 353.5,753.7 354.1,751.9 354.7,750.0 355.3,748.1 355.9,746.2 356.5,744.3 357.1,742.4 357.7,740.4 358.3,738.5 358.9,736.6 359.5,734.6 360.1,732.7 360.7,730.7 361.3,728.8 361.9,726.8 362.5,724.9 363.1,722.9 363.7,721.0 364.3,719.0 364.9,717.1 365.5,715.2 366.1,713.2 366.7,711.3 367.3,709.4 367.9,707.5 368.5,705.6 369.1,703.8 369.7,701.9 370.3,700.0 370.9,698.2 371.5,696.4 372.1,694.6 372.7,692.8 373.3,691.1 373.9,689.3 374.5,687.6 375.1,685.9 375.7,684.2 376.3,682.6 376.9,681.0 377.5,679.4 378.1,677.8 378.7,676.3 379.3,674.8 379.9,673.3 380.5,671.8 381.1,670.4 381.7,669.0 382.3,667.7 382.9,666.4 383.5,665.2 384.1,664.0 384.7,662.9 385.3,661.8 385.9,660.8 386.5,659.9 387.1,659.1 387.7,658.4 388.3,657.7 388.9,657.2 389.5,656.8 390.1,656.4 390.7,656.1 391.3,655.8 391.9,655.6 392.5,655.4 393.1,655.2 393.7,655.1 394.3,654.9 394.9,654.7 395.5,654.6 396.1,654.4 396.7,654.3 397.3,654.2 397.9,654.1 398.5,654.1 399.1,654.0 399.7,654.0 400.3,654.1 400.9,654.2 401.5,654.3 402.1,654.4 402.7,654.7 403.3,654.9 403.9,655.2 404.5,655.6 405.1,656.0 405.7,656.5 406.3,657.0 406.9,657.6 407.5,658.3 408.1,659.0 408.7,659.8 409.3,660.6 409.9,661.5 410.5,662.4 411.1,663.4 411.7,664.5 412.3,665.5 412.9,666.7 413.5,667.9 414.1,669.1 414.7,670.4 415.3,671.7 415.9,673.1 416.5,674.5 417.1,675.9 417.7,677.4 418.3,678.9 418.9,680.5 419.5,682.1 420.1,683.7 420.7,685.4 421.3,687.1 421.9,688.8 422.5,690.6 423.1,692.4 423.7,694.2 424.3,696.0 424.9,697.9 425.5,699.8 426.1,701.7 426.7,703.7 427.3,705.6 427.9,707.6 428.5,709.6 429.1,711.7 429.7,713.7 430.3,715.8 430.9,717.9 431.5,720.0 432.1,722.1 432.7,724.2 433.3,726.3 433.9,728.4 434.5,730.6 435.1,732.7 435.7,734.9 436.3,737.0 436.9,739.2 437.5,741.4 438.1,743.5 438.7,745.7 439.3,747.9 439.9,750.0 440.5,752.2 441.1,754.3 441.7,756.5 442.3,758.6 442.9,760.7 443.5,762.8 444.1,765.0 444.7,767.0 445.3,769.1 445.9,771.2 446.5,773.2 447.1,775.3 447.7,777.3 448.3,779.3 448.9,781.2 449.5,783.2 450.1,785.1 450.7,787.0 451.3,788.9 451.9,790.7 452.5,792.5 453.1,794.3 453.7,796.1 454.3,797.8 454.9,799.5 455.5,801.1 456.1,802.7 456.7,804.3 457.3,805.9 457.9,807.4 458.5,808.9 459.1,810.4 459.7,811.8 460.3,813.2 460.9,814.5 461.5,815.9 462.1,817.2 462.7,818.4 463.3,819.7 463.9,820.9 464.5,822.1 465.1,823.2 465.7,824.4 466.3,825.5 466.9,826.6 467.5,827.6 468.1,828.6 468.7,829.6 469.3,830.6 469.9,831.6 470.5,832.5 471.1,833.4 471.7,834.3 472.3,835.1 472.9,836.0 473.5,836.8 474.1,837.6 474.7,838.3 475.3,839.1 475.9,839.8 476.5,840.5 477.1,841.2 477.7,841.9 478.3,842.5 478.9,843.2 479.5,843.8 480.1,844.4 480.7,845.0 481.3,845.5 481.9,846.1 482.5,846.6 483.1,847.1 483.7,847.6 484.3,848.1 484.9,848.6 485.5,849.0 486.1,849.5 486.7,849.9 487.3,850.3 487.9,850.7 488.5,851.1 489.1,851.5 489.7,851.9 490.3,852.2 490.9,852.6 491.5,852.9 492.1,853.2 492.7,853.6 493.3,853.9 493.9,854.2 494.5,854.5 495.1,854.8 495.7,855.1 496.3,855.3 496.9,855.6 497.5,855.9 498.1,856.1 498.7,856.4 499.3,856.6 499.9,856.9 500.5,857.1 501.1,857.4 501.7,857.6 502.3,857.8" fill="none" stroke="#0000ff" stroke-width="4.3" stroke-linejoin="round" stroke-linecap="round"/>
<text transform="translate(259.32,620.20) scale(1.1206,1)" font-family="'Liberation Sans', sans-serif" font-weight="normal" font-size="35.03" fill="#111">4f</text>
<text transform="translate(294.89,627.10) scale(1.1825,1)" font-family="'Liberation Sans', sans-serif" font-weight="normal" font-size="32.32" fill="#111">7/2</text>
<text transform="translate(386.42,637.80) scale(1.1250,1)" font-family="'Liberation Sans', sans-serif" font-weight="normal" font-size="34.90" fill="#111">4f</text>
<text transform="translate(420.22,645.80) scale(1.1709,1)" font-family="'Liberation Sans', sans-serif" font-weight="normal" font-size="33.77" fill="#111">5/2</text>
<text transform="translate(187.93,929.40) scale(1.0992,1)" font-family="'Liberation Sans', sans-serif" font-weight="bold" font-size="35.94" fill="#111">Bi4f</text>
<text transform="translate(268.21,929.40) scale(1.0275,1)" font-family="'Liberation Sans', sans-serif" font-weight="bold" font-size="35.94" fill="#111">spectrum</text>
<rect x="516.6" y="576" width="396.69999999999993" height="374.5" fill="none" stroke="#1a1a1a" stroke-width="2.6"/>
<line x1="562.9" y1="950.5" x2="562.9" y2="960" stroke="#1a1a1a" stroke-width="2.6" stroke-linecap="square"/>
<line x1="680.1" y1="950.5" x2="680.1" y2="960" stroke="#1a1a1a" stroke-width="2.6" stroke-linecap="square"/>
<line x1="797.4" y1="950.5" x2="797.4" y2="960" stroke="#1a1a1a" stroke-width="2.6" stroke-linecap="square"/>
<text transform="translate(534.47,990.70) scale(1.1125,1)" font-family="'Liberation Sans', sans-serif" font-weight="normal" font-size="29.72" fill="#111">435</text>
<text transform="translate(651.67,990.70) scale(1.1125,1)" font-family="'Liberation Sans', sans-serif" font-weight="normal" font-size="29.72" fill="#111">450</text>
<text transform="translate(768.97,990.70) scale(1.1104,1)" font-family="'Liberation Sans', sans-serif" font-weight="normal" font-size="29.72" fill="#111">465</text>
<text transform="translate(881.57,990.70) scale(1.1125,1)" font-family="'Liberation Sans', sans-serif" font-weight="normal" font-size="29.72" fill="#111">480</text>
<text transform="translate(522.13,612.10) scale(0.9844,1)" font-family="'Liberation Sans', sans-serif" font-weight="bold" font-size="39.86" fill="#111">C</text>
<polyline points="518.4,943.3 519.0,942.8 519.6,942.4 520.2,941.9 520.8,941.5 521.4,941.0 522.0,940.5 522.6,940.0 523.2,939.5 523.8,939.0 524.4,938.4 525.0,937.9 525.6,937.4 526.2,936.8 526.8,936.2 527.4,935.7 528.0,935.1 528.6,934.5 529.2,933.9 529.8,933.3 530.4,932.7 531.0,932.1 531.6,931.5 532.2,930.9 532.8,930.3 533.4,929.6 534.0,929.0 534.6,928.3 535.2,927.7 535.8,927.0 536.4,926.4 537.0,925.7 537.6,925.0 538.2,924.4 538.8,923.7 539.4,923.0 540.0,922.3 540.6,921.7 541.2,921.0 541.8,920.3 542.4,919.6 543.0,918.9 543.6,918.2 544.2,917.5 544.8,916.8 545.4,916.1 546.0,915.4 546.6,914.7 547.2,914.0 547.8,913.3 548.4,912.6 549.0,912.0 549.6,911.3 550.2,910.6 550.8,910.0 551.4,909.4 552.0,908.7 552.6,908.1 553.2,907.5 553.8,906.9 554.4,906.3 555.0,905.8 555.6,905.2 556.2,904.6 556.8,904.0 557.4,903.5 558.0,902.8 558.6,902.2 559.2,901.6 559.8,900.9 560.4,900.2 561.0,899.4 561.6,898.6 562.2,897.7 562.8,896.8 563.4,895.8 564.0,894.8 564.6,893.7 565.2,892.5 565.8,891.2 566.4,889.8 567.0,888.4 567.6,886.9 568.2,885.3 568.8,883.7 569.4,882.0 570.0,880.2 570.6,878.4 571.2,876.6 571.8,874.7 572.4,872.8 573.0,870.8 573.6,868.8 574.2,866.7 574.8,864.5 575.4,862.2 576.0,859.8 576.6,857.3 577.2,854.6 577.8,851.8 578.4,848.7 579.0,845.5 579.6,842.0 580.2,838.4 580.8,834.5 581.4,830.6 582.0,826.5 582.6,822.3 583.2,818.0 583.8,813.7 584.4,809.4 585.0,805.1 585.6,800.8 586.2,796.6 586.8,792.4 587.4,788.2 588.0,784.0 588.6,779.8 589.2,775.5 589.8,771.1 590.4,766.6 591.0,762.0 591.6,757.3 592.2,752.3 592.8,747.3 593.4,742.1 594.0,736.8 594.6,731.5 595.2,726.1 595.8,720.6 596.4,715.0 597.0,709.3 597.6,703.5 598.2,697.5 598.8,691.4 599.4,685.5 600.0,679.9 600.6,674.8 601.2,670.3 601.8,665.7 602.4,660.9 603.0,655.6 603.6,650.2 604.2,645.3 604.8,640.9 605.4,637.1 606.0,633.8 606.6,630.9 607.2,628.5 607.8,626.4 608.4,624.6 609.0,623.1 609.6,621.9 610.2,620.9 610.8,620.0 611.4,619.3 612.0,618.7 612.6,618.3 613.2,618.0 613.8,617.9 614.4,618.2 615.0,618.6 615.6,619.4 616.2,620.5 616.8,622.0 617.4,623.9 618.0,626.2 618.6,629.0 619.2,632.1 619.8,635.6 620.4,639.4 621.0,643.5 621.6,647.7 622.2,652.2 622.8,656.7 623.4,661.3 624.0,665.9 624.6,670.6 625.2,675.1 625.8,679.5 626.4,683.9 627.0,688.1 627.6,692.2 628.2,696.3 628.8,700.3 629.4,704.2 630.0,708.1 630.6,712.0 631.2,715.8 631.8,719.7 632.4,723.5 633.0,727.4 633.6,731.3 634.2,735.2 634.8,739.1 635.4,743.0 636.0,746.9 636.6,750.7 637.2,754.6 637.8,758.5 638.4,762.3 639.0,766.1 639.6,769.8 640.2,773.5 640.8,777.2 641.4,780.8 642.0,784.3 642.6,787.7 643.2,791.0 643.8,794.2 644.4,797.3 645.0,800.2 645.6,802.9 646.2,805.5 646.8,807.9 647.4,810.2 648.0,812.4 648.6,814.4 649.2,816.4 649.8,818.2 650.4,819.9 651.0,821.5 651.6,823.0 652.2,824.5 652.8,825.9 653.4,827.2 654.0,828.4 654.6,829.7 655.2,830.8 655.8,832.0 656.4,833.1 657.0,834.3 657.6,835.4 658.2,836.5 658.8,837.6 659.4,838.7 660.0,839.7 660.6,840.8 661.2,841.8 661.8,842.9 662.4,843.9 663.0,844.9 663.6,845.9 664.2,846.8 664.8,847.8 665.4,848.7 666.0,849.6 666.6,850.5 667.2,851.3 667.8,852.1 668.4,852.9 669.0,853.7 669.6,854.5 670.2,855.2 670.8,855.9 671.4,856.5 672.0,857.2 672.6,857.8 673.2,858.4 673.8,858.9 674.4,859.5 675.0,860.0 675.6,860.5 676.2,860.9 676.8,861.4 677.4,861.8 678.0,862.2 678.6,862.5 679.2,862.9 679.8,863.2 680.4,863.5 681.0,863.7 681.6,864.0 682.2,864.2 682.8,864.4 683.4,864.6 684.0,864.7 684.6,864.8 685.2,864.9 685.8,865.0 686.4,865.1 687.0,865.1 687.6,865.1 688.2,865.1 688.8,865.1 689.4,865.1 690.0,865.0 690.6,864.9 691.2,864.8 691.8,864.6 692.4,864.5 693.0,864.3 693.6,864.1 694.2,863.9 694.8,863.7 695.4,863.4 696.0,863.1 696.6,862.9 697.2,862.5 697.8,862.2 698.4,861.9 699.0,861.5 699.6,861.2 700.2,860.8 700.8,860.4 701.4,860.0 702.0,859.6 702.6,859.1 703.2,858.7 703.8,858.2 704.4,857.8 705.0,857.3 705.6,856.8 706.2,856.4 706.8,855.9 707.4,855.4 708.0,854.9 708.6,854.4 709.2,853.9 709.8,853.4 710.4,852.8 711.0,852.3 711.6,851.8 712.2,851.3 712.8,850.8 713.4,850.3 714.0,849.7 714.6,849.2 715.2,848.7 715.8,848.2 716.4,847.7 717.0,847.2 717.6,846.7 718.2,846.2 718.8,845.7 719.4,845.2 720.0,844.7 720.6,844.2 721.2,843.7 721.8,843.2 722.4,842.7 723.0,842.2 723.6,841.7 724.2,841.2 724.8,840.7 725.4,840.1 726.0,839.6 726.6,839.1 727.2,838.5 727.8,837.9 728.4,837.3 729.0,836.7 729.6,836.1 730.2,835.5 730.8,834.9 731.4,834.2 732.0,833.5 732.6,832.8 733.2,832.1 733.8,831.4 734.4,830.6 735.0,829.9 735.6,829.1 736.2,828.2 736.8,827.4 737.4,826.5 738.0,825.6 738.6,824.7 739.2,823.7 739.8,822.8 740.4,821.8 741.0,820.7 741.6,819.6 742.2,818.5 742.8,817.3 743.4,816.1 744.0,814.7 744.6,813.3 745.2,811.7 745.8,810.1 746.4,808.3 747.0,806.4 747.6,804.4 748.2,802.3 748.8,800.1 749.4,797.9 750.0,795.7 750.6,793.4 751.2,791.2 751.8,789.1 752.4,787.0 753.0,785.0 753.6,783.1 754.2,781.3 754.8,779.6 755.4,777.9 756.0,776.3 756.6,774.8 757.2,773.4 757.8,772.1 758.4,770.9 759.0,769.7 759.6,768.7 760.2,767.6 760.8,766.6 761.4,765.4 762.0,764.2 762.6,762.9 763.2,761.4 763.8,759.6 764.4,757.6 765.0,755.3 765.6,752.8 766.2,750.1 766.8,747.2 767.4,744.1 768.0,740.8 768.6,737.5 769.2,734.0 769.8,730.6 770.4,727.0 771.0,723.5 771.6,720.0 772.2,716.4 772.8,712.9 773.4,709.4 774.0,705.8 774.6,702.2 775.2,698.6 775.8,694.9 776.4,691.1 777.0,687.3 777.6,683.4 778.2,679.4 778.8,675.3 779.4,671.2 780.0,667.1 780.6,663.0 781.2,658.9 781.8,655.0 782.4,651.1 783.0,647.4 783.6,643.9 784.2,640.7 784.8,637.7 785.4,634.9 786.0,632.5 786.6,630.4 787.2,628.5 787.8,626.9 788.4,625.5 789.0,624.3 789.6,623.3 790.2,622.3 790.8,621.5 791.4,620.8 792.0,620.1 792.6,619.5 793.2,618.9 793.8,618.5 794.4,618.1 795.0,617.9 795.6,617.8 796.2,617.7 796.8,617.8 797.4,617.9 798.0,618.0 798.6,618.1 799.2,618.2 799.8,618.3 800.4,618.7 801.0,619.4 801.6,620.6 802.2,622.4 802.8,624.9 803.4,627.8 804.0,630.9 804.6,634.2 805.2,637.4 805.8,640.6 806.4,643.8 807.0,647.0 807.6,650.2 808.2,653.4 808.8,656.6 809.4,659.8 810.0,662.9 810.6,666.0 811.2,669.0 811.8,672.0 812.4,674.9 813.0,677.8 813.6,680.6 814.2,683.4 814.8,686.1 815.4,688.7 816.0,691.2 816.6,693.6 817.2,696.0 817.8,698.2 818.4,700.4 819.0,702.4 819.6,704.4 820.2,706.3 820.8,708.2 821.4,709.9 822.0,711.6 822.6,713.3 823.2,714.8 823.8,716.4 824.4,717.8 825.0,719.2 825.6,720.6 826.2,722.0 826.8,723.2 827.4,724.5 828.0,725.7 828.6,726.9 829.2,728.1 829.8,729.3 830.4,730.4 831.0,731.5 831.6,732.7 832.2,733.7 832.8,734.8 833.4,735.9 834.0,736.9 834.6,737.9 835.2,739.0 835.8,739.9 836.4,740.9 837.0,741.9 837.6,742.8 838.2,743.8 838.8,744.7 839.4,745.6 840.0,746.5 840.6,747.3 841.2,748.2 841.8,749.0 842.4,749.9 843.0,750.7 843.6,751.5 844.2,752.3 844.8,753.0 845.4,753.8 846.0,754.5 846.6,755.2 847.2,755.8 847.8,756.5 848.4,757.1 849.0,757.7 849.6,758.3 850.2,758.9 850.8,759.4 851.4,759.9 852.0,760.4 852.6,760.8 853.2,761.2 853.8,761.6 854.4,762.0 855.0,762.3 855.6,762.6 856.2,762.9 856.8,763.2 857.4,763.5 858.0,763.7 858.6,764.0 859.2,764.2 859.8,764.4 860.4,764.6 861.0,764.8 861.6,765.0 862.2,765.2 862.8,765.4 863.4,765.6 864.0,765.8 864.6,766.0 865.2,766.2 865.8,766.4 866.4,766.6 867.0,766.9 867.6,767.1 868.2,767.3 868.8,767.5 869.4,767.7 870.0,767.9 870.6,768.2 871.2,768.4 871.8,768.6 872.4,768.9 873.0,769.1 873.6,769.3 874.2,769.6 874.8,769.8 875.4,770.0 876.0,770.3 876.6,770.5 877.2,770.7 877.8,771.0 878.4,771.2 879.0,771.4 879.6,771.7 880.2,771.9 880.8,772.2 881.4,772.4 882.0,772.6 882.6,772.9 883.2,773.1 883.8,773.3 884.4,773.6 885.0,773.8 885.6,774.0 886.2,774.3 886.8,774.5 887.4,774.7 888.0,775.0 888.6,775.2 889.2,775.4 889.8,775.6 890.4,775.8 891.0,776.1 891.6,776.3 892.2,776.5 892.8,776.7 893.4,776.9 894.0,777.1 894.6,777.3 895.2,777.5 895.8,777.7 896.4,777.9 897.0,778.1 897.6,778.2 898.2,778.4 898.8,778.6 899.4,778.8 900.0,778.9 900.6,779.1 901.2,779.3 901.8,779.4 902.4,779.6 903.0,779.7 903.6,779.9 904.2,780.0 904.8,780.1 905.4,780.3 906.0,780.4 906.6,780.5 907.2,780.6 907.8,780.7 908.4,780.8 909.0,780.9 909.6,781.0 910.2,781.1 910.8,781.1 911.4,781.2 911.5,781.2" fill="none" stroke="#0000ff" stroke-width="4.3" stroke-linejoin="round" stroke-linecap="round"/>
<text transform="translate(606.99,606.67) scale(1.0927,1)" font-family="'Liberation Sans', sans-serif" font-weight="normal" font-size="33.20" fill="#111">4d</text>
<text transform="translate(648.52,614.60) scale(1.1995,1)" font-family="'Liberation Sans', sans-serif" font-weight="normal" font-size="32.90" fill="#111">5/2</text>
<text transform="translate(783.40,606.67) scale(1.0897,1)" font-family="'Liberation Sans', sans-serif" font-weight="normal" font-size="33.20" fill="#111">4d</text>
<text transform="translate(825.74,614.60) scale(1.1855,1)" font-family="'Liberation Sans', sans-serif" font-weight="normal" font-size="32.90" fill="#111">3/2</text>
<text transform="translate(592.94,929.30) scale(0.8981,1)" font-family="'Liberation Sans', sans-serif" font-weight="bold" font-size="35.22" fill="#111">Bi</text>
<text transform="translate(630.17,929.30) scale(1.1960,1)" font-family="'Liberation Sans', sans-serif" font-weight="bold" font-size="35.22" fill="#111">4d</text>
<text transform="translate(681.00,929.30) scale(1.0519,1)" font-family="'Liberation Sans', sans-serif" font-weight="bold" font-size="35.22" fill="#111">spectrum</text>
<path d="M263,1030 L116.9,1030 L116.9,1431 L515.3,1431 L515.3,1030 L496,1030" fill="none" stroke="#1a1a1a" stroke-width="2.6"/>
<line x1="163.2" y1="1431" x2="163.2" y2="1441.4" stroke="#1a1a1a" stroke-width="2.6" stroke-linecap="square"/>
<line x1="318.9" y1="1431" x2="318.9" y2="1441.4" stroke="#1a1a1a" stroke-width="2.6" stroke-linecap="square"/>
<line x1="474.6" y1="1431" x2="474.6" y2="1441.4" stroke="#1a1a1a" stroke-width="2.6" stroke-linecap="square"/>
<text transform="translate(136.12,1471.28) scale(1.0492,1)" font-family="'Liberation Sans', sans-serif" font-weight="normal" font-size="31.97" fill="#111">282</text>
<text transform="translate(290.53,1471.28) scale(1.0459,1)" font-family="'Liberation Sans', sans-serif" font-weight="normal" font-size="31.97" fill="#111">286</text>
<text transform="translate(446.23,1471.28) scale(1.0426,1)" font-family="'Liberation Sans', sans-serif" font-weight="normal" font-size="31.97" fill="#111">290</text>
<text transform="translate(271.70,1038.10) scale(0.7776,1)" font-family="'Liberation Sans', sans-serif" font-weight="normal" font-size="33.48" fill="#111">C</text>
<text transform="translate(298.88,1038.10) scale(0.9641,1)" font-family="'Liberation Sans', sans-serif" font-weight="normal" font-size="33.48" fill="#111">1s</text>
<text transform="translate(341.30,1038.10) scale(1.0936,1)" font-family="'Liberation Sans', sans-serif" font-weight="normal" font-size="33.48" fill="#111">spectrum</text>
<text transform="translate(122.17,1069.10) scale(1.0228,1)" font-family="'Liberation Sans', sans-serif" font-weight="bold" font-size="41.01" fill="#111">D</text>
<polyline points="118.0,1370.0 118.7,1369.9 119.4,1369.9 120.1,1369.9 120.8,1369.8 121.5,1369.8 122.2,1369.7 122.9,1369.7 123.6,1369.6 124.3,1369.6 125.0,1369.5 125.7,1369.5 126.4,1369.4 127.1,1369.3 127.8,1369.3 128.5,1369.2 129.2,1369.1 129.9,1369.0 130.6,1368.9 131.3,1368.8 132.0,1368.7 132.7,1368.6 133.4,1368.5 134.1,1368.4 134.8,1368.3 135.5,1368.1 136.2,1368.0 136.9,1367.9 137.6,1367.7 138.3,1367.6 139.0,1367.4 139.7,1367.2 140.4,1367.1 141.1,1366.9 141.8,1366.7 142.5,1366.5 143.2,1366.2 143.9,1366.0 144.6,1365.8 145.3,1365.5 146.0,1365.3 146.7,1365.0 147.4,1364.7 148.1,1364.4 148.8,1364.1 149.5,1363.8 150.2,1363.5 150.9,1363.2 151.6,1362.8 152.3,1362.4 153.0,1362.0 153.7,1361.6 154.4,1361.2 155.1,1360.8 155.8,1360.3 156.5,1359.9 157.2,1359.4 157.9,1358.9 158.6,1358.3 159.3,1357.8 160.0,1357.2 160.7,1356.7 161.4,1356.1 162.1,1355.4 162.8,1354.8 163.5,1354.1 164.2,1353.4 164.9,1352.7 165.6,1352.0 166.3,1351.2 167.0,1350.5 167.7,1349.7 168.4,1348.8 169.1,1348.0 169.8,1347.1 170.5,1346.2 171.2,1345.3 171.9,1344.3 172.6,1343.3 173.3,1342.3 174.0,1341.3 174.7,1340.2 175.4,1339.1 176.1,1338.0 176.8,1336.8 177.5,1335.7 178.2,1334.5 178.9,1333.2 179.6,1331.9 180.3,1330.7 181.0,1329.3 181.7,1328.0 182.4,1326.6 183.1,1325.2 183.8,1323.7 184.5,1322.2 185.2,1320.7 185.9,1319.2 186.6,1317.6 187.3,1316.0 188.0,1314.4 188.7,1312.8 189.4,1311.1 190.1,1309.4 190.8,1307.6 191.5,1305.9 192.2,1304.1 192.9,1302.3 193.6,1300.4 194.3,1298.5 195.0,1296.6 195.7,1294.7 196.4,1292.8 197.1,1290.8 197.8,1288.8 198.5,1286.8 199.2,1284.7 199.9,1282.7 200.6,1280.6 201.3,1278.5 202.0,1276.3 202.7,1274.2 203.4,1272.0 204.1,1269.9 204.8,1267.7 205.5,1265.5 206.2,1263.2 206.9,1261.0 207.6,1258.8 208.3,1256.5 209.0,1254.3 209.7,1252.0 210.4,1249.7 211.1,1247.4 211.8,1245.1 212.5,1242.8 213.2,1240.6 213.9,1238.3 214.6,1236.0 215.3,1233.7 216.0,1231.4 216.7,1229.1 217.4,1226.8 218.1,1224.6 218.8,1222.3 219.5,1220.0 220.2,1217.8 220.9,1215.6 221.6,1213.4 222.3,1211.2 223.0,1209.0 223.7,1206.8 224.4,1204.7 225.1,1202.6 225.8,1200.5 226.5,1198.4 227.2,1196.3 227.9,1194.3 228.6,1192.3 229.3,1190.3 230.0,1188.4 230.7,1186.5 231.4,1184.6 232.1,1182.8 232.8,1180.9 233.5,1179.2 234.2,1177.4 234.9,1175.7 235.6,1174.1 236.3,1172.4 237.0,1170.8 237.7,1169.3 238.4,1167.8 239.1,1166.3 239.8,1164.9 240.5,1163.5 241.2,1162.2 241.9,1160.9 242.6,1159.7 243.3,1158.5 244.0,1157.4 244.7,1156.3 245.4,1155.2 246.1,1154.2 246.8,1153.3 247.5,1152.4 248.2,1151.5 248.9,1150.7 249.6,1150.0 250.3,1149.2 251.0,1148.6 251.7,1148.0 252.4,1147.4 253.1,1146.9 253.8,1146.4 254.5,1146.0 255.2,1145.6 255.9,1145.3 256.6,1145.0 257.3,1144.8 258.0,1144.6 258.7,1144.4 259.4,1144.3 260.1,1144.2 260.8,1144.2 261.5,1144.1 262.2,1144.2 262.9,1144.2 263.6,1144.3 264.3,1144.4 265.0,1144.5 265.7,1144.7 266.4,1144.9 267.1,1145.2 267.8,1145.5 268.5,1145.9 269.2,1146.3 269.9,1146.7 270.6,1147.2 271.3,1147.8 272.0,1148.4 272.7,1149.0 273.4,1149.7 274.1,1150.5 274.8,1151.3 275.5,1152.1 276.2,1153.0 276.9,1154.0 277.6,1155.0 278.3,1156.1 279.0,1157.2 279.7,1158.3 280.4,1159.6 281.1,1160.8 281.8,1162.1 282.5,1163.5 283.2,1164.9 283.9,1166.4 284.6,1167.9 285.3,1169.4 286.0,1171.0 286.7,1172.6 287.4,1174.3 288.1,1176.0 288.8,1177.8 289.5,1179.6 290.2,1181.4 290.9,1183.3 291.6,1185.2 292.3,1187.2 293.0,1189.2 293.7,1191.2 294.4,1193.2 295.1,1195.3 295.8,1197.4 296.5,1199.6 297.2,1201.7 297.9,1203.9 298.6,1206.1 299.3,1208.4 300.0,1210.6 300.7,1212.9 301.4,1215.2 302.1,1217.5 302.8,1219.8 303.5,1222.2 304.2,1224.5 304.9,1226.9 305.6,1229.2 306.3,1231.6 307.0,1234.0 307.7,1236.4 308.4,1238.8 309.1,1241.2 309.8,1243.6 310.5,1246.0 311.2,1248.3 311.9,1250.7 312.6,1253.1 313.3,1255.5 314.0,1257.8 314.7,1260.2 315.4,1262.5 316.1,1264.9 316.8,1267.2 317.5,1269.5 318.2,1271.8 318.9,1274.1 319.6,1276.3 320.3,1278.6 321.0,1280.8 321.7,1283.0 322.4,1285.2 323.1,1287.3 323.8,1289.5 324.5,1291.6 325.2,1293.7 325.9,1295.7 326.6,1297.8 327.3,1299.8 328.0,1301.8 328.7,1303.7 329.4,1305.6 330.1,1307.5 330.8,1309.4 331.5,1311.2 332.2,1313.0 332.9,1314.8 333.6,1316.6 334.3,1318.3 335.0,1320.0 335.7,1321.6 336.4,1323.2 337.1,1324.8 337.8,1326.4 338.5,1327.9 339.2,1329.4 339.9,1330.9 340.6,1332.3 341.3,1333.7 342.0,1335.0 342.7,1336.4 343.4,1337.7 344.1,1339.0 344.8,1340.2 345.5,1341.4 346.2,1342.6 346.9,1343.7 347.6,1344.8 348.3,1345.9 349.0,1347.0 349.7,1348.0 350.4,1349.0 351.1,1350.0 351.8,1350.9 352.5,1351.8 353.2,1352.7 353.9,1353.6 354.6,1354.4 355.3,1355.2 356.0,1356.0 356.7,1356.8 357.4,1357.5 358.1,1358.2 358.8,1358.9 359.5,1359.6 360.2,1360.2 360.9,1360.8 361.6,1361.4 362.3,1362.0 363.0,1362.6 363.7,1363.1 364.4,1363.6 365.1,1364.1 365.8,1364.6 366.5,1365.0 367.2,1365.5 367.9,1365.9 368.6,1366.3 369.3,1366.7 370.0,1367.1 370.7,1367.5 371.4,1367.8 372.1,1368.1 372.8,1368.4 373.5,1368.8 374.2,1369.0 374.9,1369.3 375.6,1369.6 376.3,1369.8 377.0,1370.1 377.7,1370.3 378.4,1370.6 379.1,1370.8 379.8,1371.0 380.5,1371.2 381.2,1371.3 381.9,1371.5 382.6,1371.7 383.3,1371.8 384.0,1372.0 384.7,1372.1 385.4,1372.3 386.1,1372.4 386.8,1372.5 387.5,1372.7 388.2,1372.8 388.9,1372.9 389.6,1373.0 390.3,1373.1 391.0,1373.2 391.7,1373.2 392.4,1373.3 393.1,1373.4 393.8,1373.5 394.5,1373.5 395.2,1373.6 395.9,1373.7 396.6,1373.7 397.3,1373.8 398.0,1373.8 398.7,1373.9 399.4,1373.9 400.1,1374.0 400.8,1374.0 401.5,1374.0 402.2,1374.1 402.9,1374.1 403.6,1374.1 404.3,1374.2 405.0,1374.2 405.7,1374.2 406.4,1374.3 407.1,1374.3 407.8,1374.3 408.5,1374.3 409.2,1374.3 409.9,1374.4 410.6,1374.4 411.3,1374.4 412.0,1374.4 412.7,1374.4 413.4,1374.4 414.1,1374.4 414.8,1374.5 415.5,1374.5 416.2,1374.5 416.9,1374.5 417.6,1374.5 418.3,1374.5 419.0,1374.5 419.7,1374.5 420.4,1374.5 421.1,1374.5 421.8,1374.5 422.5,1374.5 423.2,1374.5 423.9,1374.5 424.6,1374.6 425.3,1374.6 426.0,1374.6 426.7,1374.6 427.4,1374.6 428.1,1374.6 428.8,1374.6 429.5,1374.6 430.2,1374.6 430.9,1374.6 431.6,1374.6 432.3,1374.6 433.0,1374.6 433.7,1374.6 434.4,1374.6 435.1,1374.6 435.8,1374.6 436.5,1374.6 437.2,1374.6 437.9,1374.6 438.6,1374.6 439.3,1374.6 440.0,1374.6 440.7,1374.6 441.4,1374.6 442.1,1374.6 442.8,1374.6 443.5,1374.6 444.2,1374.6 444.9,1374.6 445.6,1374.6 446.3,1374.6 447.0,1374.6 447.7,1374.6 448.4,1374.6 449.1,1374.6 449.8,1374.6 450.5,1374.6 451.2,1374.6 451.9,1374.6 452.6,1374.6 453.3,1374.6 454.0,1374.6 454.7,1374.6 455.4,1374.6 456.1,1374.6 456.8,1374.6 457.5,1374.6 458.2,1374.6 458.9,1374.6 459.6,1374.6 460.3,1374.6 461.0,1374.6 461.7,1374.6 462.4,1374.6 463.1,1374.6 463.8,1374.6 464.5,1374.6 465.2,1374.6 465.9,1374.6 466.6,1374.6 467.3,1374.6 468.0,1374.6 468.7,1374.6 469.4,1374.6 470.1,1374.6 470.8,1374.6 471.5,1374.6 472.2,1374.6 472.9,1374.6 473.6,1374.6 474.3,1374.6 475.0,1374.6 475.7,1374.6 476.4,1374.6 477.1,1374.6 477.8,1374.6 478.5,1374.6 479.2,1374.6 479.9,1374.6 480.6,1374.6 481.3,1374.6 482.0,1374.6 482.7,1374.6 483.4,1374.6 484.1,1374.6 484.8,1374.6 485.5,1374.6 486.2,1374.6 486.9,1374.6 487.6,1374.6 488.3,1374.6 489.0,1374.6 489.7,1374.6 490.4,1374.6 491.1,1374.6 491.8,1374.6 492.5,1374.6 493.2,1374.6 493.9,1374.6 494.6,1374.6 495.3,1374.6 496.0,1374.6 496.7,1374.6 497.4,1374.6 498.1,1374.6 498.8,1374.6 499.5,1374.6 500.2,1374.6 500.9,1374.6 501.6,1374.6 502.3,1374.6 503.0,1374.6 503.7,1374.6 504.4,1374.6 505.1,1374.6 505.8,1374.6 506.5,1374.6 507.2,1374.6 507.9,1374.6 508.6,1374.6 509.3,1374.6 510.0,1374.6 510.7,1374.6 511.4,1374.6 512.1,1374.6 512.8,1374.6 513.5,1374.6" fill="none" stroke="#0000ff" stroke-width="3.6" stroke-linejoin="round" stroke-linecap="round"/>
<polyline points="118.0,1369.9 118.7,1369.9 119.4,1369.8 120.1,1369.8 120.8,1369.8 121.5,1369.8 122.2,1369.7 122.9,1369.7 123.6,1369.7 124.3,1369.6 125.0,1369.6 125.7,1369.6 126.4,1369.5 127.1,1369.5 127.8,1369.5 128.5,1369.4 129.2,1369.4 129.9,1369.4 130.6,1369.3 131.3,1369.3 132.0,1369.2 132.7,1369.2 133.4,1369.1 134.1,1369.1 134.8,1369.1 135.5,1369.0 136.2,1369.0 136.9,1368.9 137.6,1368.8 138.3,1368.8 139.0,1368.7 139.7,1368.7 140.4,1368.6 141.1,1368.5 141.8,1368.5 142.5,1368.4 143.2,1368.3 143.9,1368.3 144.6,1368.2 145.3,1368.1 146.0,1368.0 146.7,1368.0 147.4,1367.9 148.1,1367.8 148.8,1367.7 149.5,1367.6 150.2,1367.5 150.9,1367.5 151.6,1367.4 152.3,1367.3 153.0,1367.2 153.7,1367.1 154.4,1367.0 155.1,1366.9 155.8,1366.7 156.5,1366.6 157.2,1366.5 157.9,1366.4 158.6,1366.3 159.3,1366.2 160.0,1366.0 160.7,1365.9 161.4,1365.8 162.1,1365.6 162.8,1365.5 163.5,1365.4 164.2,1365.2 164.9,1365.1 165.6,1364.9 166.3,1364.8 167.0,1364.6 167.7,1364.4 168.4,1364.3 169.1,1364.1 169.8,1363.9 170.5,1363.8 171.2,1363.6 171.9,1363.4 172.6,1363.2 173.3,1363.0 174.0,1362.8 174.7,1362.6 175.4,1362.4 176.1,1362.2 176.8,1362.0 177.5,1361.8 178.2,1361.6 178.9,1361.3 179.6,1361.1 180.3,1360.9 181.0,1360.7 181.7,1360.4 182.4,1360.2 183.1,1359.9 183.8,1359.7 184.5,1359.4 185.2,1359.2 185.9,1358.9 186.6,1358.6 187.3,1358.3 188.0,1358.1 188.7,1357.8 189.4,1357.5 190.1,1357.2 190.8,1356.9 191.5,1356.6 192.2,1356.3 192.9,1356.0 193.6,1355.7 194.3,1355.4 195.0,1355.0 195.7,1354.7 196.4,1354.4 197.1,1354.0 197.8,1353.7 198.5,1353.3 199.2,1353.0 199.9,1352.6 200.6,1352.3 201.3,1351.9 202.0,1351.5 202.7,1351.1 203.4,1350.8 204.1,1350.4 204.8,1350.0 205.5,1349.6 206.2,1349.2 206.9,1348.8 207.6,1348.4 208.3,1348.0 209.0,1347.6 209.7,1347.1 210.4,1346.7 211.1,1346.3 211.8,1345.8 212.5,1345.4 213.2,1345.0 213.9,1344.5 214.6,1344.1 215.3,1343.6 216.0,1343.1 216.7,1342.7 217.4,1342.2 218.1,1341.7 218.8,1341.3 219.5,1340.8 220.2,1340.3 220.9,1339.8 221.6,1339.3 222.3,1338.8 223.0,1338.3 223.7,1337.8 224.4,1337.3 225.1,1336.8 225.8,1336.3 226.5,1335.8 227.2,1335.3 227.9,1334.8 228.6,1334.2 229.3,1333.7 230.0,1333.2 230.7,1332.7 231.4,1332.1 232.1,1331.6 232.8,1331.1 233.5,1330.5 234.2,1330.0 234.9,1329.4 235.6,1328.9 236.3,1328.4 237.0,1327.8 237.7,1327.3 238.4,1326.7 239.1,1326.2 239.8,1325.6 240.5,1325.1 241.2,1324.5 241.9,1324.0 242.6,1323.4 243.3,1322.9 244.0,1322.3 244.7,1321.8 245.4,1321.2 246.1,1320.6 246.8,1320.1 247.5,1319.5 248.2,1319.0 248.9,1318.4 249.6,1317.9 250.3,1317.3 251.0,1316.8 251.7,1316.2 252.4,1315.7 253.1,1315.2 253.8,1314.6 254.5,1314.1 255.2,1313.5 255.9,1313.0 256.6,1312.5 257.3,1311.9 258.0,1311.4 258.7,1310.9 259.4,1310.4 260.1,1309.8 260.8,1309.3 261.5,1308.8 262.2,1308.3 262.9,1307.8 263.6,1307.3 264.3,1306.8 265.0,1306.3 265.7,1305.8 266.4,1305.3 267.1,1304.8 267.8,1304.4 268.5,1303.9 269.2,1303.4 269.9,1303.0 270.6,1302.5 271.3,1302.1 272.0,1301.6 272.7,1301.2 273.4,1300.7 274.1,1300.3 274.8,1299.9 275.5,1299.4 276.2,1299.0 276.9,1298.6 277.6,1298.2 278.3,1297.8 279.0,1297.4 279.7,1297.1 280.4,1296.7 281.1,1296.3 281.8,1295.9 282.5,1295.6 283.2,1295.2 283.9,1294.9 284.6,1294.6 285.3,1294.2 286.0,1293.9 286.7,1293.6 287.4,1293.3 288.1,1293.0 288.8,1292.7 289.5,1292.4 290.2,1292.1 290.9,1291.8 291.6,1291.6 292.3,1291.3 293.0,1291.1 293.7,1290.8 294.4,1290.6 295.1,1290.4 295.8,1290.2 296.5,1289.9 297.2,1289.7 297.9,1289.6 298.6,1289.4 299.3,1289.2 300.0,1289.0 300.7,1288.8 301.4,1288.7 302.1,1288.5 302.8,1288.4 303.5,1288.3 304.2,1288.1 304.9,1288.0 305.6,1287.9 306.3,1287.8 307.0,1287.7 307.7,1287.6 308.4,1287.5 309.1,1287.5 309.8,1287.4 310.5,1287.3 311.2,1287.3 311.9,1287.2 312.6,1287.2 313.3,1287.2 314.0,1287.1 314.7,1287.1 315.4,1287.1 316.1,1287.1 316.8,1287.1 317.5,1287.1 318.2,1287.1 318.9,1287.1 319.6,1287.1 320.3,1287.1 321.0,1287.1 321.7,1287.2 322.4,1287.2 323.1,1287.2 323.8,1287.3 324.5,1287.3 325.2,1287.4 325.9,1287.5 326.6,1287.5 327.3,1287.6 328.0,1287.7 328.7,1287.8 329.4,1287.9 330.1,1288.0 330.8,1288.1 331.5,1288.2 332.2,1288.4 332.9,1288.5 333.6,1288.6 334.3,1288.8 335.0,1289.0 335.7,1289.1 336.4,1289.3 337.1,1289.5 337.8,1289.7 338.5,1289.9 339.2,1290.1 339.9,1290.3 340.6,1290.5 341.3,1290.7 342.0,1291.0 342.7,1291.2 343.4,1291.4 344.1,1291.7 344.8,1292.0 345.5,1292.2 346.2,1292.5 346.9,1292.8 347.6,1293.1 348.3,1293.4 349.0,1293.7 349.7,1294.0 350.4,1294.3 351.1,1294.6 351.8,1295.0 352.5,1295.3 353.2,1295.7 353.9,1296.0 354.6,1296.4 355.3,1296.7 356.0,1297.1 356.7,1297.5 357.4,1297.9 358.1,1298.3 358.8,1298.7 359.5,1299.1 360.2,1299.5 360.9,1299.9 361.6,1300.3 362.3,1300.7 363.0,1301.2 363.7,1301.6 364.4,1302.0 365.1,1302.5 365.8,1302.9 366.5,1303.4 367.2,1303.8 367.9,1304.3 368.6,1304.8 369.3,1305.3 370.0,1305.7 370.7,1306.2 371.4,1306.7 372.1,1307.2 372.8,1307.7 373.5,1308.2 374.2,1308.7 374.9,1309.2 375.6,1309.7 376.3,1310.2 377.0,1310.7 377.7,1311.2 378.4,1311.7 379.1,1312.3 379.8,1312.8 380.5,1313.3 381.2,1313.8 381.9,1314.4 382.6,1314.9 383.3,1315.4 384.0,1316.0 384.7,1316.5 385.4,1317.0 386.1,1317.6 386.8,1318.1 387.5,1318.7 388.2,1319.2 388.9,1319.7 389.6,1320.3 390.3,1320.8 391.0,1321.4 391.7,1321.9 392.4,1322.5 393.1,1323.0 393.8,1323.6 394.5,1324.1 395.2,1324.6 395.9,1325.2 396.6,1325.7 397.3,1326.3 398.0,1326.8 398.7,1327.3 399.4,1327.9 400.1,1328.4 400.8,1329.0 401.5,1329.5 402.2,1330.0 402.9,1330.6 403.6,1331.1 404.3,1331.6 405.0,1332.1 405.7,1332.7 406.4,1333.2 407.1,1333.7 407.8,1334.2 408.5,1334.7 409.2,1335.2 409.9,1335.7 410.6,1336.2 411.3,1336.7 412.0,1337.2 412.7,1337.7 413.4,1338.2 414.1,1338.7 414.8,1339.2 415.5,1339.7 416.2,1340.2 416.9,1340.6 417.6,1341.1 418.3,1341.6 419.0,1342.0 419.7,1342.5 420.4,1343.0 421.1,1343.4 421.8,1343.9 422.5,1344.3 423.2,1344.8 423.9,1345.2 424.6,1345.6 425.3,1346.1 426.0,1346.5 426.7,1346.9 427.4,1347.3 428.1,1347.7 428.8,1348.1 429.5,1348.6 430.2,1349.0 430.9,1349.3 431.6,1349.7 432.3,1350.1 433.0,1350.5 433.7,1350.9 434.4,1351.3 435.1,1351.6 435.8,1352.0 436.5,1352.4 437.2,1352.7 437.9,1353.1 438.6,1353.4 439.3,1353.7 440.0,1354.1 440.7,1354.4 441.4,1354.7 442.1,1355.1 442.8,1355.4 443.5,1355.7 444.2,1356.0 444.9,1356.3 445.6,1356.6 446.3,1356.9 447.0,1357.2 447.7,1357.5 448.4,1357.8 449.1,1358.1 449.8,1358.3 450.5,1358.6 451.2,1358.9 451.9,1359.1 452.6,1359.4 453.3,1359.6 454.0,1359.9 454.7,1360.1 455.4,1360.4 456.1,1360.6 456.8,1360.8 457.5,1361.1 458.2,1361.3 458.9,1361.5 459.6,1361.7 460.3,1361.9 461.0,1362.1 461.7,1362.3 462.4,1362.5 463.1,1362.7 463.8,1362.9 464.5,1363.1 465.2,1363.3 465.9,1363.5 466.6,1363.7 467.3,1363.8 468.0,1364.0 468.7,1364.2 469.4,1364.3 470.1,1364.5 470.8,1364.7 471.5,1364.8 472.2,1365.0 472.9,1365.1 473.6,1365.3 474.3,1365.4 475.0,1365.5 475.7,1365.7 476.4,1365.8 477.1,1365.9 477.8,1366.1 478.5,1366.2 479.2,1366.3 479.9,1366.4 480.6,1366.5 481.3,1366.7 482.0,1366.8 482.7,1366.9 483.4,1367.0 484.1,1367.1 484.8,1367.2 485.5,1367.3 486.2,1367.4 486.9,1367.5 487.6,1367.6 488.3,1367.6 489.0,1367.7 489.7,1367.8 490.4,1367.9 491.1,1368.0 491.8,1368.0 492.5,1368.1 493.2,1368.2 493.9,1368.3 494.6,1368.3 495.3,1368.4 496.0,1368.5 496.7,1368.5 497.4,1368.6 498.1,1368.7 498.8,1368.7 499.5,1368.8 500.2,1368.8 500.9,1368.9 501.6,1368.9 502.3,1369.0 503.0,1369.0 503.7,1369.1 504.4,1369.1 505.1,1369.2 505.8,1369.2 506.5,1369.3 507.2,1369.3 507.9,1369.3 508.6,1369.4 509.3,1369.4 510.0,1369.5 510.7,1369.5 511.4,1369.5 512.1,1369.6 512.8,1369.6 513.5,1369.6" fill="none" stroke="#0000ff" stroke-width="3.6" stroke-linejoin="round" stroke-linecap="round"/>
<polyline points="118.0,1370.5 118.7,1370.5 119.4,1370.5 120.1,1370.5 120.8,1370.5 121.5,1370.5 122.2,1370.5 122.9,1370.5 123.6,1370.5 124.3,1370.5 125.0,1370.5 125.7,1370.5 126.4,1370.5 127.1,1370.5 127.8,1370.5 128.5,1370.5 129.2,1370.5 129.9,1370.5 130.6,1370.5 131.3,1370.5 132.0,1370.5 132.7,1370.5 133.4,1370.5 134.1,1370.5 134.8,1370.5 135.5,1370.5 136.2,1370.5 136.9,1370.5 137.6,1370.5 138.3,1370.5 139.0,1370.5 139.7,1370.5 140.4,1370.5 141.1,1370.5 141.8,1370.5 142.5,1370.5 143.2,1370.5 143.9,1370.5 144.6,1370.5 145.3,1370.5 146.0,1370.5 146.7,1370.5 147.4,1370.5 148.1,1370.5 148.8,1370.5 149.5,1370.5 150.2,1370.5 150.9,1370.5 151.6,1370.5 152.3,1370.5 153.0,1370.5 153.7,1370.5 154.4,1370.5 155.1,1370.5 155.8,1370.5 156.5,1370.5 157.2,1370.5 157.9,1370.5 158.6,1370.5 159.3,1370.5 160.0,1370.5 160.7,1370.5 161.4,1370.5 162.1,1370.5 162.8,1370.5 163.5,1370.5 164.2,1370.5 164.9,1370.5 165.6,1370.5 166.3,1370.5 167.0,1370.5 167.7,1370.5 168.4,1370.5 169.1,1370.5 169.8,1370.5 170.5,1370.5 171.2,1370.5 171.9,1370.5 172.6,1370.5 173.3,1370.5 174.0,1370.5 174.7,1370.5 175.4,1370.5 176.1,1370.5 176.8,1370.5 177.5,1370.5 178.2,1370.5 178.9,1370.5 179.6,1370.5 180.3,1370.5 181.0,1370.5 181.7,1370.5 182.4,1370.5 183.1,1370.5 183.8,1370.5 184.5,1370.5 185.2,1370.5 185.9,1370.5 186.6,1370.5 187.3,1370.5 188.0,1370.5 188.7,1370.5 189.4,1370.5 190.1,1370.5 190.8,1370.5 191.5,1370.5 192.2,1370.5 192.9,1370.5 193.6,1370.5 194.3,1370.5 195.0,1370.5 195.7,1370.5 196.4,1370.5 197.1,1370.5 197.8,1370.5 198.5,1370.5 199.2,1370.5 199.9,1370.5 200.6,1370.5 201.3,1370.5 202.0,1370.5 202.7,1370.5 203.4,1370.5 204.1,1370.5 204.8,1370.5 205.5,1370.5 206.2,1370.5 206.9,1370.5 207.6,1370.5 208.3,1370.5 209.0,1370.5 209.7,1370.5 210.4,1370.5 211.1,1370.5 211.8,1370.5 212.5,1370.5 213.2,1370.5 213.9,1370.5 214.6,1370.5 215.3,1370.5 216.0,1370.5 216.7,1370.5 217.4,1370.5 218.1,1370.5 218.8,1370.5 219.5,1370.5 220.2,1370.5 220.9,1370.5 221.6,1370.5 222.3,1370.5 223.0,1370.5 223.7,1370.5 224.4,1370.5 225.1,1370.5 225.8,1370.5 226.5,1370.5 227.2,1370.5 227.9,1370.5 228.6,1370.5 229.3,1370.5 230.0,1370.5 230.7,1370.5 231.4,1370.5 232.1,1370.5 232.8,1370.5 233.5,1370.5 234.2,1370.5 234.9,1370.5 235.6,1370.5 236.3,1370.5 237.0,1370.5 237.7,1370.5 238.4,1370.5 239.1,1370.5 239.8,1370.5 240.5,1370.5 241.2,1370.5 241.9,1370.5 242.6,1370.5 243.3,1370.5 244.0,1370.5 244.7,1370.5 245.4,1370.5 246.1,1370.5 246.8,1370.5 247.5,1370.5 248.2,1370.5 248.9,1370.5 249.6,1370.5 250.3,1370.4 251.0,1370.4 251.7,1370.4 252.4,1370.4 253.1,1370.4 253.8,1370.4 254.5,1370.4 255.2,1370.4 255.9,1370.4 256.6,1370.4 257.3,1370.4 258.0,1370.4 258.7,1370.4 259.4,1370.4 260.1,1370.4 260.8,1370.4 261.5,1370.4 262.2,1370.3 262.9,1370.3 263.6,1370.3 264.3,1370.3 265.0,1370.3 265.7,1370.3 266.4,1370.3 267.1,1370.3 267.8,1370.2 268.5,1370.2 269.2,1370.2 269.9,1370.2 270.6,1370.2 271.3,1370.2 272.0,1370.1 272.7,1370.1 273.4,1370.1 274.1,1370.1 274.8,1370.0 275.5,1370.0 276.2,1370.0 276.9,1370.0 277.6,1369.9 278.3,1369.9 279.0,1369.9 279.7,1369.8 280.4,1369.8 281.1,1369.8 281.8,1369.7 282.5,1369.7 283.2,1369.6 283.9,1369.6 284.6,1369.5 285.3,1369.5 286.0,1369.4 286.7,1369.4 287.4,1369.3 288.1,1369.2 288.8,1369.2 289.5,1369.1 290.2,1369.0 290.9,1368.9 291.6,1368.9 292.3,1368.8 293.0,1368.7 293.7,1368.6 294.4,1368.5 295.1,1368.4 295.8,1368.3 296.5,1368.2 297.2,1368.1 297.9,1368.0 298.6,1367.9 299.3,1367.7 300.0,1367.6 300.7,1367.5 301.4,1367.3 302.1,1367.2 302.8,1367.0 303.5,1366.9 304.2,1366.7 304.9,1366.5 305.6,1366.4 306.3,1366.2 307.0,1366.0 307.7,1365.8 308.4,1365.6 309.1,1365.4 309.8,1365.2 310.5,1364.9 311.2,1364.7 311.9,1364.5 312.6,1364.2 313.3,1363.9 314.0,1363.7 314.7,1363.4 315.4,1363.1 316.1,1362.8 316.8,1362.5 317.5,1362.2 318.2,1361.9 318.9,1361.5 319.6,1361.2 320.3,1360.8 321.0,1360.5 321.7,1360.1 322.4,1359.7 323.1,1359.3 323.8,1358.9 324.5,1358.5 325.2,1358.1 325.9,1357.6 326.6,1357.2 327.3,1356.7 328.0,1356.2 328.7,1355.7 329.4,1355.2 330.1,1354.7 330.8,1354.2 331.5,1353.7 332.2,1353.1 332.9,1352.5 333.6,1352.0 334.3,1351.4 335.0,1350.8 335.7,1350.2 336.4,1349.5 337.1,1348.9 337.8,1348.2 338.5,1347.6 339.2,1346.9 339.9,1346.2 340.6,1345.5 341.3,1344.8 342.0,1344.0 342.7,1343.3 343.4,1342.5 344.1,1341.8 344.8,1341.0 345.5,1340.2 346.2,1339.4 346.9,1338.6 347.6,1337.7 348.3,1336.9 349.0,1336.1 349.7,1335.2 350.4,1334.3 351.1,1333.4 351.8,1332.6 352.5,1331.6 353.2,1330.7 353.9,1329.8 354.6,1328.9 355.3,1328.0 356.0,1327.0 356.7,1326.1 357.4,1325.1 358.1,1324.1 358.8,1323.2 359.5,1322.2 360.2,1321.2 360.9,1320.2 361.6,1319.2 362.3,1318.2 363.0,1317.2 363.7,1316.2 364.4,1315.2 365.1,1314.2 365.8,1313.2 366.5,1312.2 367.2,1311.2 367.9,1310.1 368.6,1309.1 369.3,1308.1 370.0,1307.1 370.7,1306.1 371.4,1305.1 372.1,1304.1 372.8,1303.2 373.5,1302.2 374.2,1301.2 374.9,1300.2 375.6,1299.3 376.3,1298.3 377.0,1297.4 377.7,1296.5 378.4,1295.5 379.1,1294.6 379.8,1293.7 380.5,1292.8 381.2,1292.0 381.9,1291.1 382.6,1290.3 383.3,1289.5 384.0,1288.6 384.7,1287.8 385.4,1287.1 386.1,1286.3 386.8,1285.6 387.5,1284.9 388.2,1284.2 388.9,1283.5 389.6,1282.8 390.3,1282.2 391.0,1281.6 391.7,1281.0 392.4,1280.4 393.1,1279.9 393.8,1279.3 394.5,1278.9 395.2,1278.4 395.9,1277.9 396.6,1277.5 397.3,1277.1 398.0,1276.8 398.7,1276.4 399.4,1276.1 400.1,1275.8 400.8,1275.6 401.5,1275.3 402.2,1275.1 402.9,1275.0 403.6,1274.8 404.3,1274.7 405.0,1274.6 405.7,1274.5 406.4,1274.5 407.1,1274.5 407.8,1274.5 408.5,1274.6 409.2,1274.7 409.9,1274.8 410.6,1275.0 411.3,1275.1 412.0,1275.3 412.7,1275.6 413.4,1275.9 414.1,1276.2 414.8,1276.5 415.5,1276.8 416.2,1277.2 416.9,1277.6 417.6,1278.1 418.3,1278.5 419.0,1279.0 419.7,1279.5 420.4,1280.1 421.1,1280.6 421.8,1281.2 422.5,1281.9 423.2,1282.5 423.9,1283.2 424.6,1283.8 425.3,1284.6 426.0,1285.3 426.7,1286.0 427.4,1286.8 428.1,1287.6 428.8,1288.4 429.5,1289.2 430.2,1290.1 430.9,1290.9 431.6,1291.8 432.3,1292.7 433.0,1293.6 433.7,1294.5 434.4,1295.4 435.1,1296.4 435.8,1297.3 436.5,1298.3 437.2,1299.3 437.9,1300.3 438.6,1301.3 439.3,1302.3 440.0,1303.3 440.7,1304.3 441.4,1305.3 442.1,1306.3 442.8,1307.3 443.5,1308.4 444.2,1309.4 444.9,1310.4 445.6,1311.5 446.3,1312.5 447.0,1313.5 447.7,1314.6 448.4,1315.6 449.1,1316.6 449.8,1317.7 450.5,1318.7 451.2,1319.7 451.9,1320.7 452.6,1321.8 453.3,1322.8 454.0,1323.8 454.7,1324.8 455.4,1325.7 456.1,1326.7 456.8,1327.7 457.5,1328.7 458.2,1329.6 458.9,1330.6 459.6,1331.5 460.3,1332.4 461.0,1333.3 461.7,1334.2 462.4,1335.1 463.1,1336.0 463.8,1336.9 464.5,1337.8 465.2,1338.6 465.9,1339.4 466.6,1340.3 467.3,1341.1 468.0,1341.9 468.7,1342.7 469.4,1343.4 470.1,1344.2 470.8,1344.9 471.5,1345.7 472.2,1346.4 472.9,1347.1 473.6,1347.8 474.3,1348.5 475.0,1349.1 475.7,1349.8 476.4,1350.4 477.1,1351.1 477.8,1351.7 478.5,1352.3 479.2,1352.9 479.9,1353.4 480.6,1354.0 481.3,1354.5 482.0,1355.1 482.7,1355.6 483.4,1356.1 484.1,1356.6 484.8,1357.1 485.5,1357.5 486.2,1358.0 486.9,1358.4 487.6,1358.9 488.3,1359.3 489.0,1359.7 489.7,1360.1 490.4,1360.5 491.1,1360.8 491.8,1361.2 492.5,1361.6 493.2,1361.9 493.9,1362.2 494.6,1362.5 495.3,1362.9 496.0,1363.2 496.7,1363.5 497.4,1363.7 498.1,1364.0 498.8,1364.3 499.5,1364.5 500.2,1364.8 500.9,1365.0 501.6,1365.2 502.3,1365.5 503.0,1365.7 503.7,1365.9 504.4,1366.1 505.1,1366.3 505.8,1366.5 506.5,1366.6 507.2,1366.8 507.9,1367.0 508.6,1367.1 509.3,1367.3 510.0,1367.4 510.7,1367.6 511.4,1367.7 512.1,1367.8 512.8,1368.0 513.5,1368.1" fill="none" stroke="#0000ff" stroke-width="3.6" stroke-linejoin="round" stroke-linecap="round"/>
<polyline points="118.5,1375.2 119.1,1375.1 119.7,1375.0 120.3,1375.0 120.9,1374.9 121.5,1374.8 122.1,1374.7 122.7,1374.6 123.3,1374.5 123.9,1374.5 124.5,1374.4 125.1,1374.3 125.7,1374.2 126.3,1374.1 126.9,1374.0 127.5,1373.9 128.1,1373.8 128.7,1373.7 129.3,1373.5 129.9,1373.4 130.5,1373.3 131.1,1373.1 131.7,1373.0 132.3,1372.9 132.9,1372.7 133.5,1372.5 134.1,1372.4 134.7,1372.2 135.3,1372.0 135.9,1371.8 136.5,1371.6 137.1,1371.4 137.7,1371.1 138.3,1370.9 138.9,1370.6 139.5,1370.4 140.1,1370.1 140.7,1369.8 141.3,1369.5 141.9,1369.2 142.5,1368.9 143.1,1368.6 143.7,1368.2 144.3,1367.9 144.9,1367.5 145.5,1367.1 146.1,1366.7 146.7,1366.3 147.3,1365.8 147.9,1365.4 148.5,1364.9 149.1,1364.4 149.7,1363.9 150.3,1363.4 150.9,1362.9 151.5,1362.3 152.1,1361.7 152.7,1361.2 153.3,1360.5 153.9,1359.9 154.5,1359.3 155.1,1358.6 155.7,1357.9 156.3,1357.2 156.9,1356.5 157.5,1355.7 158.1,1354.9 158.7,1354.1 159.3,1353.3 159.9,1352.5 160.5,1351.6 161.1,1350.7 161.7,1349.8 162.3,1348.9 162.9,1347.9 163.5,1346.9 164.1,1345.9 164.7,1344.9 165.3,1343.8 165.9,1342.7 166.5,1341.6 167.1,1340.5 167.7,1339.3 168.3,1338.1 168.9,1336.9 169.5,1335.6 170.1,1334.3 170.7,1333.0 171.3,1331.6 171.9,1330.2 172.5,1328.8 173.1,1327.3 173.7,1325.8 174.3,1324.2 174.9,1322.6 175.5,1320.9 176.1,1319.2 176.7,1317.4 177.3,1315.6 177.9,1313.6 178.5,1311.7 179.1,1309.7 179.7,1307.6 180.3,1305.4 180.9,1303.2 181.5,1300.9 182.1,1298.5 182.7,1296.1 183.3,1293.6 183.9,1291.1 184.5,1288.6 185.1,1286.0 185.7,1283.3 186.3,1280.7 186.9,1278.0 187.5,1275.3 188.1,1272.6 188.7,1269.9 189.3,1267.2 189.9,1264.5 190.5,1261.9 191.1,1259.2 191.7,1256.6 192.3,1254.0 192.9,1251.4 193.5,1248.9 194.1,1246.4 194.7,1244.0 195.3,1241.6 195.9,1239.3 196.5,1237.0 197.1,1234.7 197.7,1232.4 198.3,1230.2 198.9,1228.0 199.5,1225.9 200.1,1223.7 200.7,1221.6 201.3,1219.5 201.9,1217.4 202.5,1215.3 203.1,1213.2 203.7,1211.1 204.3,1209.0 204.9,1207.0 205.5,1204.9 206.1,1202.8 206.7,1200.7 207.3,1198.6 207.9,1196.5 208.5,1194.4 209.1,1192.3 209.7,1190.2 210.3,1188.0 210.9,1185.9 211.5,1183.8 212.1,1181.7 212.7,1179.5 213.3,1177.4 213.9,1175.3 214.5,1173.2 215.1,1171.0 215.7,1168.9 216.3,1166.8 216.9,1164.7 217.5,1162.6 218.1,1160.5 218.7,1158.4 219.3,1156.3 219.9,1154.2 220.5,1152.1 221.1,1150.1 221.7,1148.0 222.3,1146.0 222.9,1143.9 223.5,1141.9 224.1,1139.9 224.7,1137.9 225.3,1135.9 225.9,1134.0 226.5,1132.0 227.1,1130.1 227.7,1128.2 228.3,1126.3 228.9,1124.5 229.5,1122.6 230.1,1120.8 230.7,1119.0 231.3,1117.2 231.9,1115.5 232.5,1113.8 233.1,1112.1 233.7,1110.4 234.3,1108.8 234.9,1107.2 235.5,1105.6 236.1,1104.1 236.7,1102.6 237.3,1101.1 237.9,1099.7 238.5,1098.3 239.1,1096.9 239.7,1095.6 240.3,1094.3 240.9,1093.1 241.5,1091.8 242.1,1090.7 242.7,1089.5 243.3,1088.5 243.9,1087.4 244.5,1086.4 245.1,1085.5 245.7,1084.5 246.3,1083.7 246.9,1082.8 247.5,1082.0 248.1,1081.2 248.7,1080.5 249.3,1079.8 249.9,1079.2 250.5,1078.5 251.1,1078.0 251.7,1077.4 252.3,1076.9 252.9,1076.4 253.5,1076.0 254.1,1075.6 254.7,1075.2 255.3,1074.8 255.9,1074.5 256.5,1074.2 257.1,1074.0 257.7,1073.8 258.3,1073.6 258.9,1073.4 259.5,1073.3 260.1,1073.2 260.7,1073.1 261.3,1073.1 261.9,1073.1 262.5,1073.1 263.1,1073.1 263.7,1073.2 264.3,1073.2 264.9,1073.4 265.5,1073.5 266.1,1073.7 266.7,1073.8 267.3,1074.0 267.9,1074.3 268.5,1074.5 269.1,1074.8 269.7,1075.1 270.3,1075.5 270.9,1075.8 271.5,1076.2 272.1,1076.6 272.7,1077.1 273.3,1077.6 273.9,1078.1 274.5,1078.6 275.1,1079.2 275.7,1079.8 276.3,1080.5 276.9,1081.2 277.5,1081.9 278.1,1082.7 278.7,1083.5 279.3,1084.3 279.9,1085.2 280.5,1086.1 281.1,1087.1 281.7,1088.1 282.3,1089.1 282.9,1090.2 283.5,1091.3 284.1,1092.4 284.7,1093.6 285.3,1094.8 285.9,1096.0 286.5,1097.3 287.1,1098.6 287.7,1099.8 288.3,1101.2 288.9,1102.5 289.5,1103.8 290.1,1105.2 290.7,1106.6 291.3,1108.0 291.9,1109.4 292.5,1110.8 293.1,1112.2 293.7,1113.6 294.3,1115.1 294.9,1116.5 295.5,1118.0 296.1,1119.5 296.7,1121.0 297.3,1122.5 297.9,1124.0 298.5,1125.5 299.1,1127.1 299.7,1128.7 300.3,1130.3 300.9,1131.9 301.5,1133.5 302.1,1135.2 302.7,1136.9 303.3,1138.6 303.9,1140.4 304.5,1142.2 305.1,1144.0 305.7,1145.8 306.3,1147.7 306.9,1149.6 307.5,1151.5 308.1,1153.5 308.7,1155.5 309.3,1157.4 309.9,1159.4 310.5,1161.5 311.1,1163.5 311.7,1165.5 312.3,1167.5 312.9,1169.6 313.5,1171.6 314.1,1173.6 314.7,1175.6 315.3,1177.7 315.9,1179.7 316.5,1181.7 317.1,1183.6 317.7,1185.6 318.3,1187.5 318.9,1189.5 319.5,1191.4 320.1,1193.3 320.7,1195.2 321.3,1197.1 321.9,1199.0 322.5,1200.8 323.1,1202.7 323.7,1204.5 324.3,1206.3 324.9,1208.1 325.5,1209.9 326.1,1211.7 326.7,1213.5 327.3,1215.2 327.9,1217.0 328.5,1218.7 329.1,1220.4 329.7,1222.1 330.3,1223.8 330.9,1225.5 331.5,1227.2 332.1,1228.8 332.7,1230.5 333.3,1232.1 333.9,1233.7 334.5,1235.2 335.1,1236.7 335.7,1238.2 336.3,1239.7 336.9,1241.1 337.5,1242.5 338.1,1243.8 338.7,1245.1 339.3,1246.4 339.9,1247.6 340.5,1248.8 341.1,1249.9 341.7,1250.9 342.3,1251.9 342.9,1252.9 343.5,1253.8 344.1,1254.7 344.7,1255.5 345.3,1256.3 345.9,1257.0 346.5,1257.7 347.1,1258.3 347.7,1258.9 348.3,1259.5 348.9,1260.0 349.5,1260.5 350.1,1260.9 350.7,1261.4 351.3,1261.7 351.9,1262.1 352.5,1262.4 353.1,1262.7 353.7,1263.0 354.3,1263.2 354.9,1263.4 355.5,1263.6 356.1,1263.8 356.7,1263.9 357.3,1264.0 357.9,1264.1 358.5,1264.2 359.1,1264.3 359.7,1264.3 360.3,1264.4 360.9,1264.4 361.5,1264.4 362.1,1264.4 362.7,1264.4 363.3,1264.4 363.9,1264.4 364.5,1264.3 365.1,1264.3 365.7,1264.3 366.3,1264.2 366.9,1264.2 367.5,1264.2 368.1,1264.1 368.7,1264.1 369.3,1264.0 369.9,1264.0 370.5,1263.9 371.1,1263.9 371.7,1263.8 372.3,1263.8 372.9,1263.7 373.5,1263.7 374.1,1263.6 374.7,1263.5 375.3,1263.5 375.9,1263.4 376.5,1263.4 377.1,1263.3 377.7,1263.3 378.3,1263.2 378.9,1263.1 379.5,1263.1 380.1,1263.0 380.7,1263.0 381.3,1262.9 381.9,1262.9 382.5,1262.8 383.1,1262.8 383.7,1262.7 384.3,1262.7 384.9,1262.6 385.5,1262.6 386.1,1262.6 386.7,1262.5 387.3,1262.5 387.9,1262.5 388.5,1262.4 389.1,1262.4 389.7,1262.4 390.3,1262.4 390.9,1262.4 391.5,1262.3 392.1,1262.3 392.7,1262.4 393.3,1262.4 393.9,1262.4 394.5,1262.4 395.1,1262.5 395.7,1262.5 396.3,1262.6 396.9,1262.7 397.5,1262.8 398.1,1263.0 398.7,1263.2 399.3,1263.3 399.9,1263.6 400.5,1263.8 401.1,1264.1 401.7,1264.4 402.3,1264.7 402.9,1265.0 403.5,1265.4 404.1,1265.9 404.7,1266.3 405.3,1266.8 405.9,1267.3 406.5,1267.8 407.1,1268.4 407.7,1269.0 408.3,1269.6 408.9,1270.2 409.5,1270.8 410.1,1271.5 410.7,1272.1 411.3,1272.8 411.9,1273.4 412.5,1274.1 413.1,1274.8 413.7,1275.4 414.3,1276.1 414.9,1276.8 415.5,1277.4 416.1,1278.1 416.7,1278.7 417.3,1279.4 417.9,1280.0 418.5,1280.7 419.1,1281.3 419.7,1282.0 420.3,1282.6 420.9,1283.2 421.5,1283.8 422.1,1284.5 422.7,1285.1 423.3,1285.7 423.9,1286.4 424.5,1287.0 425.1,1287.6 425.7,1288.2 426.3,1288.9 426.9,1289.5 427.5,1290.1 428.1,1290.8 428.7,1291.4 429.3,1292.0 429.9,1292.7 430.5,1293.3 431.1,1294.0 431.7,1294.6 432.3,1295.3 432.9,1296.0 433.5,1296.6 434.1,1297.3 434.7,1298.0 435.3,1298.6 435.9,1299.3 436.5,1300.0 437.1,1300.7 437.7,1301.4 438.3,1302.2 438.9,1302.9 439.5,1303.6 440.1,1304.4 440.7,1305.1 441.3,1305.9 441.9,1306.6 442.5,1307.4 443.1,1308.2 443.7,1309.0 444.3,1309.8 444.9,1310.6 445.5,1311.4 446.1,1312.2 446.7,1313.0 447.3,1313.8 447.9,1314.6 448.5,1315.5 449.1,1316.3 449.7,1317.1 450.3,1318.0 450.9,1318.8 451.5,1319.6 452.1,1320.5 452.7,1321.3 453.3,1322.2 453.9,1323.0 454.5,1323.9 455.1,1324.7 455.7,1325.5 456.3,1326.4 456.9,1327.2 457.5,1328.1 458.1,1328.9 458.7,1329.7 459.3,1330.6 459.9,1331.4 460.5,1332.2 461.1,1333.0 461.7,1333.9 462.3,1334.7 462.9,1335.5 463.5,1336.3 464.1,1337.1 464.7,1337.9 465.3,1338.6 465.9,1339.4 466.5,1340.2 467.1,1341.0 467.7,1341.7 468.3,1342.5 468.9,1343.2 469.5,1343.9 470.1,1344.6 470.7,1345.4 471.3,1346.1 471.9,1346.7 472.5,1347.4 473.1,1348.1 473.7,1348.8 474.3,1349.4 474.9,1350.0 475.5,1350.7 476.1,1351.3 476.7,1351.9 477.3,1352.5 477.9,1353.0 478.5,1353.6 479.1,1354.1 479.7,1354.7 480.3,1355.2 480.9,1355.7 481.5,1356.1 482.1,1356.6 482.7,1357.0 483.3,1357.5 483.9,1357.9 484.5,1358.2 485.1,1358.6 485.7,1358.9 486.3,1359.3 486.9,1359.5 487.5,1359.8 488.1,1360.0 488.7,1360.3 489.3,1360.4 489.9,1360.6 490.5,1360.7 491.1,1360.8 491.7,1360.9 492.3,1361.0 492.9,1361.0 493.5,1361.0 494.1,1361.0 494.7,1361.0 495.3,1360.9 495.9,1360.9 496.5,1360.8 497.1,1360.7 497.7,1360.6 498.3,1360.5 498.9,1360.3 499.5,1360.2 500.1,1360.0 500.7,1359.8 501.3,1359.7 501.9,1359.5 502.5,1359.3 503.1,1359.1 503.7,1358.9 504.3,1358.7 504.9,1358.5 505.5,1358.3 506.1,1358.1 506.7,1357.9 507.3,1357.7 507.9,1357.5 508.5,1357.3 509.1,1357.2 509.7,1357.0 510.3,1356.8 510.9,1356.7 511.5,1356.5 512.1,1356.4 512.7,1356.3 513.3,1356.2 513.9,1356.1 514.0,1356.1" fill="none" stroke="#111" stroke-width="3.8" stroke-linejoin="round" stroke-linecap="round"/>
<polyline points="118.5,1367.1 119.1,1366.7 119.7,1366.4 120.3,1366.0 120.9,1365.6 121.5,1365.3 122.1,1364.9 122.7,1364.5 123.3,1364.2 123.9,1363.9 124.5,1363.5 125.1,1363.2 125.7,1362.9 126.3,1362.5 126.9,1362.2 127.5,1361.9 128.1,1361.6 128.7,1361.2 129.3,1360.9 129.9,1360.6 130.5,1360.3 131.1,1359.9 131.7,1359.6 132.3,1359.3 132.9,1359.0 133.5,1358.6 134.1,1358.3 134.7,1358.0 135.3,1357.6 135.9,1357.3 136.5,1356.9 137.1,1356.6 137.7,1356.2 138.3,1355.9 138.9,1355.5 139.5,1355.1 140.1,1354.7 140.7,1354.3 141.3,1353.9 141.9,1353.5 142.5,1353.1 143.1,1352.7 143.7,1352.2 144.3,1351.8 144.9,1351.3 145.5,1350.8 146.1,1350.4 146.7,1349.9 147.3,1349.4 147.9,1348.8 148.5,1348.3 149.1,1347.8 149.7,1347.2 150.3,1346.6 150.9,1346.0 151.5,1345.4 152.1,1344.8 152.7,1344.2 153.3,1343.5 153.9,1342.8 154.5,1342.1 155.1,1341.4 155.7,1340.7 156.3,1339.9 156.9,1339.2 157.5,1338.4 158.1,1337.6 158.7,1336.8 159.3,1335.9 159.9,1335.0 160.5,1334.2 161.1,1333.2 161.7,1332.3 162.3,1331.3 162.9,1330.4 163.5,1329.3 164.1,1328.3 164.7,1327.3 165.3,1326.2 165.9,1325.1 166.5,1323.9 167.1,1322.8 167.7,1321.6 168.3,1320.4 168.9,1319.1 169.5,1317.8 170.1,1316.5 170.7,1315.2 171.3,1313.9 171.9,1312.5 172.5,1311.1 173.1,1309.7 173.7,1308.3 174.3,1306.8 174.9,1305.3 175.5,1303.8 176.1,1302.3 176.7,1300.7 177.3,1299.1 177.9,1297.5 178.5,1295.9 179.1,1294.3 179.7,1292.6 180.3,1291.0 180.9,1289.3 181.5,1287.6 182.1,1285.8 182.7,1284.1 183.3,1282.3 183.9,1280.5 184.5,1278.7 185.1,1276.9 185.7,1275.1 186.3,1273.2 186.9,1271.4 187.5,1269.5 188.1,1267.6 188.7,1265.7 189.3,1263.8 189.9,1261.9 190.5,1259.9 191.1,1257.9 191.7,1256.0 192.3,1254.0 192.9,1252.0 193.5,1250.0 194.1,1248.0 194.7,1246.0 195.3,1243.9 195.9,1241.9 196.5,1239.8 197.1,1237.8 197.7,1235.7 198.3,1233.6 198.9,1231.5 199.5,1229.4 200.1,1227.3 200.7,1225.2 201.3,1223.1 201.9,1221.0 202.5,1218.9 203.1,1216.7 203.7,1214.6 204.3,1212.5 204.9,1210.3 205.5,1208.2 206.1,1206.0 206.7,1203.9 207.3,1201.7 207.9,1199.6 208.5,1197.4 209.1,1195.2 209.7,1193.1 210.3,1190.9 210.9,1188.8 211.5,1186.6 212.1,1184.4 212.7,1182.3 213.3,1180.1 213.9,1178.0 214.5,1175.8 215.1,1173.7 215.7,1171.5 216.3,1169.4 216.9,1167.2 217.5,1165.1 218.1,1163.0 218.7,1160.8 219.3,1158.7 219.9,1156.6 220.5,1154.5 221.1,1152.4 221.7,1150.4 222.3,1148.3 222.9,1146.2 223.5,1144.2 224.1,1142.2 224.7,1140.1 225.3,1138.1 225.9,1136.2 226.5,1134.2 227.1,1132.3 227.7,1130.3 228.3,1128.4 228.9,1126.5 229.5,1124.7 230.1,1122.8 230.7,1121.0 231.3,1119.2 231.9,1117.5 232.5,1115.7 233.1,1114.0 233.7,1112.3 234.3,1110.7 234.9,1109.0 235.5,1107.5 236.1,1105.9 236.7,1104.4 237.3,1102.9 237.9,1101.4 238.5,1100.0 239.1,1098.6 239.7,1097.2 240.3,1095.9 240.9,1094.6 241.5,1093.3 242.1,1092.1 242.7,1091.0 243.3,1089.8 243.9,1088.7 244.5,1087.7 245.1,1086.7 245.7,1085.7 246.3,1084.8 246.9,1083.8 247.5,1083.0 248.1,1082.1 248.7,1081.3 249.3,1080.6 249.9,1079.9 250.5,1079.2 251.1,1078.5 251.7,1077.9 252.3,1077.3 252.9,1076.8 253.5,1076.2 254.1,1075.8 254.7,1075.3 255.3,1074.9 255.9,1074.5 256.5,1074.1 257.1,1073.8 257.7,1073.5 258.3,1073.3 258.9,1073.0 259.5,1072.8 260.1,1072.7 260.7,1072.5 261.3,1072.4 261.9,1072.4 262.5,1072.3 263.1,1072.3 263.7,1072.3 264.3,1072.4 264.9,1072.4 265.5,1072.5 266.1,1072.7 266.7,1072.8 267.3,1073.0 267.9,1073.2 268.5,1073.4 269.1,1073.7 269.7,1074.0 270.3,1074.3 270.9,1074.7 271.5,1075.1 272.1,1075.5 272.7,1076.0 273.3,1076.4 273.9,1077.0 274.5,1077.5 275.1,1078.1 275.7,1078.7 276.3,1079.3 276.9,1080.0 277.5,1080.7 278.1,1081.4 278.7,1082.2 279.3,1083.0 279.9,1083.8 280.5,1084.7 281.1,1085.6 281.7,1086.5 282.3,1087.4 282.9,1088.4 283.5,1089.4 284.1,1090.4 284.7,1091.5 285.3,1092.6 285.9,1093.7 286.5,1094.9 287.1,1096.0 287.7,1097.2 288.3,1098.5 288.9,1099.7 289.5,1101.0 290.1,1102.3 290.7,1103.6 291.3,1104.9 291.9,1106.3 292.5,1107.6 293.1,1109.0 293.7,1110.5 294.3,1111.9 294.9,1113.4 295.5,1114.8 296.1,1116.3 296.7,1117.9 297.3,1119.4 297.9,1121.0 298.5,1122.6 299.1,1124.2 299.7,1125.8 300.3,1127.5 300.9,1129.1 301.5,1130.8 302.1,1132.5 302.7,1134.2 303.3,1136.0 303.9,1137.8 304.5,1139.5 305.1,1141.3 305.7,1143.2 306.3,1145.0 306.9,1146.9 307.5,1148.7 308.1,1150.6 308.7,1152.5 309.3,1154.4 309.9,1156.3 310.5,1158.3 311.1,1160.2 311.7,1162.1 312.3,1164.1 312.9,1166.0 313.5,1168.0 314.1,1169.9 314.7,1171.9 315.3,1173.9 315.9,1175.8 316.5,1177.8 317.1,1179.8 317.7,1181.7 318.3,1183.7 318.9,1185.7 319.5,1187.6 320.1,1189.6 320.7,1191.5 321.3,1193.4 321.9,1195.4 322.5,1197.3 323.1,1199.2 323.7,1201.1 324.3,1202.9 324.9,1204.8 325.5,1206.7 326.1,1208.5 326.7,1210.3 327.3,1212.1 327.9,1213.9 328.5,1215.7 329.1,1217.4 329.7,1219.2 330.3,1220.9 330.9,1222.6 331.5,1224.2 332.1,1225.9 332.7,1227.5 333.3,1229.1 333.9,1230.7 334.5,1232.2 335.1,1233.7 335.7,1235.2 336.3,1236.7 336.9,1238.1 337.5,1239.5 338.1,1240.9 338.7,1242.3 339.3,1243.6 339.9,1244.9 340.5,1246.2 341.1,1247.4 341.7,1248.6 342.3,1249.8 342.9,1250.9 343.5,1252.0 344.1,1253.1 344.7,1254.2 345.3,1255.2 345.9,1256.2 346.5,1257.1 347.1,1258.1 347.7,1259.0 348.3,1259.8 348.9,1260.7 349.5,1261.5 350.1,1262.3 350.7,1263.0 351.3,1263.8 351.9,1264.5 352.5,1265.1 353.1,1265.8 353.7,1266.4 354.3,1266.9 354.9,1267.5 355.5,1268.0 356.1,1268.5 356.7,1269.0 357.3,1269.4 357.9,1269.8 358.5,1270.2 359.1,1270.6 359.7,1270.9 360.3,1271.2 360.9,1271.5 361.5,1271.7 362.1,1272.0 362.7,1272.1 363.3,1272.3 363.9,1272.5 364.5,1272.6 365.1,1272.7 365.7,1272.7 366.3,1272.8 366.9,1272.8 367.5,1272.8 368.1,1272.7 368.7,1272.7 369.3,1272.6 369.9,1272.5 370.5,1272.4 371.1,1272.3 371.7,1272.2 372.3,1272.1 372.9,1271.9 373.5,1271.7 374.1,1271.6 374.7,1271.4 375.3,1271.2 375.9,1271.0 376.5,1270.8 377.1,1270.5 377.7,1270.3 378.3,1270.1 378.9,1269.9 379.5,1269.6 380.1,1269.4 380.7,1269.2 381.3,1268.9 381.9,1268.7 382.5,1268.5 383.1,1268.3 383.7,1268.0 384.3,1267.8 384.9,1267.6 385.5,1267.4 386.1,1267.3 386.7,1267.1 387.3,1266.9 387.9,1266.8 388.5,1266.6 389.1,1266.5 389.7,1266.4 390.3,1266.3 390.9,1266.3 391.5,1266.2 392.1,1266.2 392.7,1266.1 393.3,1266.1 393.9,1266.1 394.5,1266.1 395.1,1266.2 395.7,1266.2 396.3,1266.3 396.9,1266.4 397.5,1266.5 398.1,1266.6 398.7,1266.7 399.3,1266.8 399.9,1267.0 400.5,1267.1 401.1,1267.3 401.7,1267.5 402.3,1267.7 402.9,1267.9 403.5,1268.1 404.1,1268.4 404.7,1268.6 405.3,1268.9 405.9,1269.2 406.5,1269.5 407.1,1269.8 407.7,1270.1 408.3,1270.4 408.9,1270.8 409.5,1271.1 410.1,1271.5 410.7,1271.9 411.3,1272.3 411.9,1272.7 412.5,1273.1 413.1,1273.6 413.7,1274.0 414.3,1274.5 414.9,1274.9 415.5,1275.4 416.1,1275.9 416.7,1276.4 417.3,1276.9 417.9,1277.4 418.5,1278.0 419.1,1278.5 419.7,1279.1 420.3,1279.6 420.9,1280.2 421.5,1280.8 422.1,1281.4 422.7,1282.0 423.3,1282.6 423.9,1283.2 424.5,1283.8 425.1,1284.5 425.7,1285.1 426.3,1285.8 426.9,1286.4 427.5,1287.1 428.1,1287.8 428.7,1288.5 429.3,1289.1 429.9,1289.8 430.5,1290.5 431.1,1291.3 431.7,1292.0 432.3,1292.7 432.9,1293.4 433.5,1294.2 434.1,1294.9 434.7,1295.6 435.3,1296.4 435.9,1297.1 436.5,1297.9 437.1,1298.7 437.7,1299.4 438.3,1300.2 438.9,1301.0 439.5,1301.8 440.1,1302.5 440.7,1303.3 441.3,1304.1 441.9,1304.9 442.5,1305.7 443.1,1306.5 443.7,1307.3 444.3,1308.1 444.9,1308.9 445.5,1309.7 446.1,1310.5 446.7,1311.3 447.3,1312.2 447.9,1313.0 448.5,1313.8 449.1,1314.6 449.7,1315.4 450.3,1316.2 450.9,1317.0 451.5,1317.9 452.1,1318.7 452.7,1319.5 453.3,1320.3 453.9,1321.1 454.5,1321.9 455.1,1322.7 455.7,1323.5 456.3,1324.3 456.9,1325.1 457.5,1326.0 458.1,1326.8 458.7,1327.6 459.3,1328.3 459.9,1329.1 460.5,1329.9 461.1,1330.7 461.7,1331.5 462.3,1332.3 462.9,1333.1 463.5,1333.8 464.1,1334.6 464.7,1335.4 465.3,1336.1 465.9,1336.9 466.5,1337.6 467.1,1338.4 467.7,1339.1 468.3,1339.8 468.9,1340.6 469.5,1341.3 470.1,1342.0 470.7,1342.7 471.3,1343.4 471.9,1344.1 472.5,1344.8 473.1,1345.5 473.7,1346.2 474.3,1346.8 474.9,1347.5 475.5,1348.1 476.1,1348.8 476.7,1349.4 477.3,1350.1 477.9,1350.7 478.5,1351.3 479.1,1351.9 479.7,1352.5 480.3,1353.1 480.9,1353.7 481.5,1354.3 482.1,1354.9 482.7,1355.4 483.3,1356.0 483.9,1356.5 484.5,1357.0 485.1,1357.5 485.7,1358.1 486.3,1358.6 486.9,1359.0 487.5,1359.5 488.1,1360.0 488.7,1360.5 489.3,1360.9 489.9,1361.3 490.5,1361.8 491.1,1362.2 491.7,1362.6 492.3,1363.0 492.9,1363.3 493.5,1363.7 494.1,1364.1 494.7,1364.4 495.3,1364.7 495.9,1365.1 496.5,1365.4 497.1,1365.7 497.7,1365.9 498.3,1366.2 498.9,1366.5 499.5,1366.7 500.1,1366.9 500.7,1367.1 501.3,1367.3 501.9,1367.5 502.5,1367.7 503.1,1367.8 503.7,1368.0 504.3,1368.1 504.9,1368.2 505.5,1368.3 506.1,1368.4 506.7,1368.5 507.3,1368.5 507.9,1368.6 508.5,1368.6 509.1,1368.6 509.7,1368.6 510.3,1368.5 510.9,1368.5 511.5,1368.4 512.1,1368.3 512.7,1368.3 513.3,1368.1 513.9,1368.0 514.4,1367.9" fill="none" stroke="#ff0000" stroke-width="4.0" stroke-linejoin="round" stroke-linecap="round"/>
<text transform="translate(274.40,1248.60) rotate(-90) scale(0.9773,1)" font-family="'Liberation Sans', sans-serif" font-weight="normal" font-size="34.86" fill="#111">284.5</text>
<text transform="translate(424.20,1257.47) rotate(-90) scale(0.9804,1)" font-family="'Liberation Sans', sans-serif" font-weight="normal" font-size="34.00" fill="#111">288.2</text>
<text transform="translate(213.40,1285.15) scale(0.9722,1)" font-family="'Liberation Sans', sans-serif" font-weight="normal" font-size="34.93" fill="#111">286.2</text>
<path d="M654,1030.5 L529.5,1030.5 L529.5,1431 L920.5,1431 L920.5,1030.5 L900,1030.5" fill="none" stroke="#1a1a1a" stroke-width="2.6"/>
<line x1="630" y1="1431" x2="630" y2="1441.6" stroke="#1a1a1a" stroke-width="2.6" stroke-linecap="square"/>
<line x1="767" y1="1431" x2="767" y2="1441.6" stroke="#1a1a1a" stroke-width="2.6" stroke-linecap="square"/>
<line x1="902.7" y1="1431" x2="902.7" y2="1441.6" stroke="#1a1a1a" stroke-width="2.6" stroke-linecap="square"/>
<text transform="translate(603.09,1478.28) scale(1.0260,1)" font-family="'Liberation Sans', sans-serif" font-weight="normal" font-size="31.83" fill="#111">396</text>
<text transform="translate(736.96,1478.28) scale(1.0583,1)" font-family="'Liberation Sans', sans-serif" font-weight="normal" font-size="31.83" fill="#111">400</text>
<text transform="translate(880.80,1478.28) scale(1.0030,1)" font-family="'Liberation Sans', sans-serif" font-weight="normal" font-size="31.83" fill="#111">404</text>
<text transform="translate(659.83,1040.00) scale(1.0814,1)" font-family="'Liberation Sans', sans-serif" font-weight="normal" font-size="34.35" fill="#111">N</text>
<text transform="translate(691.48,1040.00) scale(0.9793,1)" font-family="'Liberation Sans', sans-serif" font-weight="normal" font-size="34.35" fill="#111">1S</text>
<text transform="translate(737.28,1040.00) scale(1.0862,1)" font-family="'Liberation Sans', sans-serif" font-weight="normal" font-size="34.35" fill="#111">spectrum</text>
<text transform="translate(535.17,1066.90) scale(0.9778,1)" font-family="'Liberation Sans', sans-serif" font-weight="bold" font-size="41.45" fill="#111">E</text>
<polyline points="530.0,1396.3 530.6,1396.3 531.2,1396.3 531.8,1396.3 532.4,1396.2 533.0,1396.2 533.6,1396.2 534.2,1396.2 534.8,1396.2 535.4,1396.2 536.0,1396.2 536.6,1396.2 537.2,1396.2 537.8,1396.2 538.4,1396.2 539.0,1396.2 539.6,1396.2 540.2,1396.2 540.8,1396.2 541.4,1396.2 542.0,1396.2 542.6,1396.2 543.2,1396.1 543.8,1396.1 544.4,1396.1 545.0,1396.1 545.6,1396.1 546.2,1396.1 546.8,1396.1 547.4,1396.1 548.0,1396.1 548.6,1396.1 549.2,1396.1 549.8,1396.1 550.4,1396.1 551.0,1396.2 551.6,1396.2 552.2,1396.2 552.8,1396.2 553.4,1396.2 554.0,1396.2 554.6,1396.2 555.2,1396.2 555.8,1396.2 556.4,1396.2 557.0,1396.2 557.6,1396.2 558.2,1396.2 558.8,1396.2 559.4,1396.2 560.0,1396.2 560.6,1396.2 561.2,1396.2 561.8,1396.2 562.4,1396.2 563.0,1396.2 563.6,1396.2 564.2,1396.2 564.8,1396.2 565.4,1396.3 566.0,1396.3 566.6,1396.3 567.2,1396.3 567.8,1396.3 568.4,1396.3 569.0,1396.3 569.6,1396.3 570.2,1396.3 570.8,1396.3 571.4,1396.3 572.0,1396.3 572.6,1396.3 573.2,1396.3 573.8,1396.3 574.4,1396.3 575.0,1396.4 575.6,1396.4 576.2,1396.4 576.8,1396.4 577.4,1396.4 578.0,1396.4 578.6,1396.4 579.2,1396.4 579.8,1396.4 580.4,1396.4 581.0,1396.4 581.6,1396.4 582.2,1396.4 582.8,1396.4 583.4,1396.4 584.0,1396.4 584.6,1396.3 585.2,1396.3 585.8,1396.3 586.4,1396.2 587.0,1396.2 587.6,1396.1 588.2,1396.1 588.8,1396.0 589.4,1395.9 590.0,1395.8 590.6,1395.8 591.2,1395.6 591.8,1395.5 592.4,1395.4 593.0,1395.3 593.6,1395.1 594.2,1394.9 594.8,1394.8 595.4,1394.6 596.0,1394.4 596.6,1394.2 597.2,1393.9 597.8,1393.7 598.4,1393.4 599.0,1393.1 599.6,1392.8 600.2,1392.5 600.8,1392.2 601.4,1391.8 602.0,1391.5 602.6,1391.1 603.2,1390.7 603.8,1390.2 604.4,1389.8 605.0,1389.3 605.6,1388.8 606.2,1388.3 606.8,1387.8 607.4,1387.2 608.0,1386.7 608.6,1386.1 609.2,1385.4 609.8,1384.8 610.4,1384.1 611.0,1383.5 611.6,1382.8 612.2,1382.0 612.8,1381.3 613.4,1380.5 614.0,1379.7 614.6,1378.9 615.2,1378.1 615.8,1377.2 616.4,1376.3 617.0,1375.4 617.6,1374.5 618.2,1373.5 618.8,1372.5 619.4,1371.5 620.0,1370.5 620.6,1369.4 621.2,1368.2 621.8,1367.1 622.4,1365.8 623.0,1364.6 623.6,1363.3 624.2,1361.9 624.8,1360.5 625.4,1359.1 626.0,1357.6 626.6,1356.0 627.2,1354.4 627.8,1352.8 628.4,1351.0 629.0,1349.2 629.6,1347.4 630.2,1345.5 630.8,1343.6 631.4,1341.6 632.0,1339.5 632.6,1337.4 633.2,1335.3 633.8,1333.1 634.4,1330.9 635.0,1328.7 635.6,1326.4 636.2,1324.1 636.8,1321.7 637.4,1319.3 638.0,1316.9 638.6,1314.4 639.2,1312.0 639.8,1309.5 640.4,1307.0 641.0,1304.4 641.6,1301.8 642.2,1299.3 642.8,1296.7 643.4,1294.1 644.0,1291.5 644.6,1288.8 645.2,1286.2 645.8,1283.6 646.4,1280.9 647.0,1278.3 647.6,1275.6 648.2,1273.0 648.8,1270.3 649.4,1267.7 650.0,1265.0 650.6,1262.4 651.2,1259.8 651.8,1257.2 652.4,1254.6 653.0,1252.0 653.6,1249.4 654.2,1246.9 654.8,1244.4 655.4,1241.8 656.0,1239.3 656.6,1236.8 657.2,1234.3 657.8,1231.9 658.4,1229.4 659.0,1227.0 659.6,1224.5 660.2,1222.1 660.8,1219.7 661.4,1217.3 662.0,1214.9 662.6,1212.6 663.2,1210.2 663.8,1207.9 664.4,1205.5 665.0,1203.2 665.6,1200.9 666.2,1198.6 666.8,1196.3 667.4,1194.1 668.0,1191.8 668.6,1189.6 669.2,1187.4 669.8,1185.3 670.4,1183.2 671.0,1181.1 671.6,1179.1 672.2,1177.1 672.8,1175.1 673.4,1173.2 674.0,1171.3 674.6,1169.5 675.2,1167.8 675.8,1166.1 676.4,1164.4 677.0,1162.8 677.6,1161.3 678.2,1159.9 678.8,1158.4 679.4,1157.1 680.0,1155.8 680.6,1154.5 681.2,1153.3 681.8,1152.2 682.4,1151.1 683.0,1150.0 683.6,1149.0 684.2,1148.0 684.8,1147.0 685.4,1146.1 686.0,1145.2 686.6,1144.4 687.2,1143.6 687.8,1142.8 688.4,1142.0 689.0,1141.2 689.6,1140.5 690.2,1139.8 690.8,1139.1 691.4,1138.5 692.0,1137.8 692.6,1137.2 693.2,1136.6 693.8,1136.0 694.4,1135.5 695.0,1135.0 695.6,1134.5 696.2,1134.0 696.8,1133.6 697.4,1133.2 698.0,1132.9 698.6,1132.5 699.2,1132.3 699.8,1132.0 700.4,1131.8 701.0,1131.6 701.6,1131.5 702.2,1131.4 702.8,1131.3 703.4,1131.3 704.0,1131.4 704.6,1131.4 705.2,1131.6 705.8,1131.7 706.4,1131.9 707.0,1132.2 707.6,1132.5 708.2,1132.8 708.8,1133.2 709.4,1133.6 710.0,1134.1 710.6,1134.6 711.2,1135.1 711.8,1135.7 712.4,1136.4 713.0,1137.1 713.6,1137.8 714.2,1138.6 714.8,1139.4 715.4,1140.3 716.0,1141.2 716.6,1142.1 717.2,1143.1 717.8,1144.2 718.4,1145.2 719.0,1146.4 719.6,1147.6 720.2,1148.8 720.8,1150.1 721.4,1151.4 722.0,1152.7 722.6,1154.1 723.2,1155.6 723.8,1157.1 724.4,1158.6 725.0,1160.2 725.6,1161.8 726.2,1163.5 726.8,1165.3 727.4,1167.0 728.0,1168.8 728.6,1170.7 729.2,1172.6 729.8,1174.5 730.4,1176.5 731.0,1178.5 731.6,1180.6 732.2,1182.7 732.8,1184.8 733.4,1186.9 734.0,1189.1 734.6,1191.3 735.2,1193.6 735.8,1195.8 736.4,1198.1 737.0,1200.4 737.6,1202.8 738.2,1205.1 738.8,1207.5 739.4,1209.9 740.0,1212.3 740.6,1214.7 741.2,1217.1 741.8,1219.6 742.4,1222.1 743.0,1224.5 743.6,1227.0 744.2,1229.5 744.8,1232.0 745.4,1234.5 746.0,1237.0 746.6,1239.5 747.2,1242.0 747.8,1244.4 748.4,1246.9 749.0,1249.4 749.6,1251.9 750.2,1254.4 750.8,1256.8 751.4,1259.3 752.0,1261.7 752.6,1264.2 753.2,1266.6 753.8,1269.0 754.4,1271.4 755.0,1273.7 755.6,1276.1 756.2,1278.4 756.8,1280.6 757.4,1282.8 758.0,1285.0 758.6,1287.1 759.2,1289.2 759.8,1291.2 760.4,1293.1 761.0,1295.0 761.6,1296.9 762.2,1298.7 762.8,1300.5 763.4,1302.3 764.0,1304.1 764.6,1305.9 765.2,1307.7 765.8,1309.5 766.4,1311.4 767.0,1313.3 767.6,1315.1 768.2,1317.0 768.8,1319.0 769.4,1320.9 770.0,1322.8 770.6,1324.7 771.2,1326.6 771.8,1328.5 772.4,1330.5 773.0,1332.3 773.6,1334.2 774.2,1336.1 774.8,1337.9 775.4,1339.7 776.0,1341.5 776.6,1343.3 777.2,1345.0 777.8,1346.7 778.4,1348.3 779.0,1349.9 779.6,1351.5 780.2,1353.0 780.8,1354.5 781.4,1356.0 782.0,1357.4 782.6,1358.8 783.2,1360.2 783.8,1361.5 784.4,1362.8 785.0,1364.0 785.6,1365.3 786.2,1366.4 786.8,1367.6 787.4,1368.7 788.0,1369.8 788.6,1370.9 789.2,1372.0 789.8,1373.0 790.4,1374.0 791.0,1375.0 791.6,1375.9 792.2,1376.8 792.8,1377.7 793.4,1378.6 794.0,1379.5 794.6,1380.3 795.2,1381.1 795.8,1381.9 796.4,1382.7 797.0,1383.5 797.6,1384.2 798.2,1384.9 798.8,1385.6 799.4,1386.3 800.0,1387.0 800.6,1387.7 801.2,1388.3 801.8,1389.0 802.4,1389.6 803.0,1390.2 803.6,1390.8 804.2,1391.4 804.8,1392.0 805.4,1392.5 806.0,1393.1 806.6,1393.6 807.2,1394.1 807.8,1394.7 808.4,1395.1 809.0,1395.6 809.6,1396.1 810.2,1396.5 810.8,1397.0 811.4,1397.4 812.0,1397.8 812.6,1398.2 813.2,1398.5 813.8,1398.9 814.4,1399.2 815.0,1399.5 815.6,1399.8 816.2,1400.1 816.8,1400.4 817.4,1400.6 818.0,1400.9 818.6,1401.1 819.2,1401.3 819.8,1401.5 820.4,1401.7 821.0,1401.8 821.6,1402.0 822.2,1402.2 822.8,1402.3 823.4,1402.4 824.0,1402.6 824.6,1402.7 825.2,1402.8 825.8,1403.0 826.4,1403.1 827.0,1403.2 827.6,1403.3 828.2,1403.4 828.8,1403.5 829.4,1403.6 830.0,1403.7 830.6,1403.8 831.2,1403.9 831.8,1404.0 832.4,1404.1 833.0,1404.2 833.6,1404.3 834.2,1404.4 834.8,1404.4 835.4,1404.5 836.0,1404.6 836.6,1404.7 837.2,1404.7 837.8,1404.8 838.4,1404.9 839.0,1404.9 839.6,1405.0 840.2,1405.1 840.8,1405.1 841.4,1405.2 842.0,1405.2 842.6,1405.3 843.2,1405.3 843.8,1405.4 844.4,1405.4 845.0,1405.5 845.6,1405.5 846.2,1405.6 846.8,1405.6 847.4,1405.6 848.0,1405.7 848.6,1405.7 849.2,1405.8 849.8,1405.8 850.4,1405.8 851.0,1405.8 851.6,1405.9 852.2,1405.9 852.8,1405.9 853.4,1405.9 854.0,1406.0 854.6,1406.0 855.2,1406.0 855.8,1406.0 856.4,1406.0 857.0,1406.1 857.6,1406.1 858.2,1406.1 858.8,1406.1 859.4,1406.1 860.0,1406.1 860.6,1406.1 861.2,1406.1 861.8,1406.1 862.4,1406.1 863.0,1406.1 863.6,1406.1 864.2,1406.1 864.8,1406.2 865.4,1406.2 866.0,1406.2 866.6,1406.2 867.2,1406.2 867.8,1406.1 868.4,1406.1 869.0,1406.1 869.6,1406.1 870.2,1406.1 870.8,1406.1 871.4,1406.1 872.0,1406.1 872.6,1406.1 873.2,1406.1 873.8,1406.1 874.4,1406.1 875.0,1406.1 875.6,1406.1 876.2,1406.1 876.8,1406.1 877.4,1406.1 878.0,1406.0 878.6,1406.0 879.2,1406.0 879.8,1406.0 880.4,1406.0 881.0,1406.0 881.6,1406.0 882.2,1406.0 882.8,1406.0 883.4,1406.0 884.0,1406.0 884.6,1405.9 885.2,1405.9 885.8,1405.9 886.4,1405.9 887.0,1405.9 887.6,1405.9 888.2,1405.9 888.8,1405.9 889.4,1405.9 890.0,1405.9 890.6,1405.9 891.2,1405.9 891.8,1405.9 892.4,1405.9 893.0,1405.9 893.6,1405.9 894.2,1405.9 894.8,1405.8 895.4,1405.8 896.0,1405.8 896.6,1405.9 897.2,1405.9 897.8,1405.9 898.4,1405.9 899.0,1405.9 899.6,1405.9 900.2,1405.9 900.8,1405.9 901.4,1405.9 902.0,1405.9 902.6,1405.9 903.2,1405.9 903.8,1405.9 904.4,1405.9 905.0,1406.0 905.6,1406.0 906.2,1406.0 906.8,1406.0 907.4,1406.0 908.0,1406.1 908.6,1406.1 909.2,1406.1 909.8,1406.1 910.4,1406.2 911.0,1406.2 911.6,1406.2 912.2,1406.2 912.8,1406.3 913.4,1406.3 914.0,1406.4 914.6,1406.4 915.2,1406.4 915.8,1406.5 916.4,1406.5 917.0,1406.6 917.6,1406.6 918.2,1406.7 918.8,1406.7 919.4,1406.8 920.0,1406.8" fill="none" stroke="#0000ff" stroke-width="3.6" stroke-linejoin="round" stroke-linecap="round"/>
<polyline points="530.0,1396.2 530.7,1396.2 531.4,1396.2 532.1,1396.2 532.8,1396.2 533.5,1396.2 534.2,1396.2 534.9,1396.2 535.6,1396.2 536.3,1396.2 537.0,1396.2 537.7,1396.2 538.4,1396.2 539.1,1396.2 539.8,1396.2 540.5,1396.2 541.2,1396.2 541.9,1396.2 542.6,1396.2 543.3,1396.2 544.0,1396.2 544.7,1396.2 545.4,1396.1 546.1,1396.1 546.8,1396.1 547.5,1396.1 548.2,1396.1 548.9,1396.1 549.6,1396.1 550.3,1396.1 551.0,1396.1 551.7,1396.1 552.4,1396.1 553.1,1396.1 553.8,1396.1 554.5,1396.1 555.2,1396.1 555.9,1396.1 556.6,1396.1 557.3,1396.1 558.0,1396.1 558.7,1396.1 559.4,1396.1 560.1,1396.1 560.8,1396.1 561.5,1396.0 562.2,1396.0 562.9,1396.0 563.6,1396.0 564.3,1396.0 565.0,1396.0 565.7,1396.0 566.4,1396.0 567.1,1396.0 567.8,1396.0 568.5,1396.0 569.2,1396.0 569.9,1395.9 570.6,1395.9 571.3,1395.9 572.0,1395.9 572.7,1395.9 573.4,1395.9 574.1,1395.9 574.8,1395.9 575.5,1395.8 576.2,1395.8 576.9,1395.8 577.6,1395.8 578.3,1395.8 579.0,1395.8 579.7,1395.7 580.4,1395.7 581.1,1395.7 581.8,1395.7 582.5,1395.6 583.2,1395.6 583.9,1395.6 584.6,1395.6 585.3,1395.6 586.0,1395.5 586.7,1395.5 587.4,1395.5 588.1,1395.4 588.8,1395.4 589.5,1395.4 590.2,1395.3 590.9,1395.3 591.6,1395.3 592.3,1395.2 593.0,1395.2 593.7,1395.2 594.4,1395.1 595.1,1395.1 595.8,1395.0 596.5,1395.0 597.2,1394.9 597.9,1394.9 598.6,1394.8 599.3,1394.8 600.0,1394.7 600.7,1394.7 601.4,1394.6 602.1,1394.6 602.8,1394.5 603.5,1394.5 604.2,1394.4 604.9,1394.3 605.6,1394.3 606.3,1394.2 607.0,1394.1 607.7,1394.0 608.4,1394.0 609.1,1393.9 609.8,1393.8 610.5,1393.7 611.2,1393.6 611.9,1393.5 612.6,1393.4 613.3,1393.3 614.0,1393.2 614.7,1393.1 615.4,1393.0 616.1,1392.9 616.8,1392.8 617.5,1392.7 618.2,1392.6 618.9,1392.5 619.6,1392.3 620.3,1392.2 621.0,1392.1 621.7,1391.9 622.4,1391.8 623.1,1391.7 623.8,1391.5 624.5,1391.4 625.2,1391.2 625.9,1391.0 626.6,1390.9 627.3,1390.7 628.0,1390.5 628.7,1390.4 629.4,1390.2 630.1,1390.0 630.8,1389.8 631.5,1389.6 632.2,1389.4 632.9,1389.2 633.6,1389.0 634.3,1388.8 635.0,1388.5 635.7,1388.3 636.4,1388.1 637.1,1387.8 637.8,1387.6 638.5,1387.3 639.2,1387.1 639.9,1386.8 640.6,1386.5 641.3,1386.3 642.0,1386.0 642.7,1385.7 643.4,1385.4 644.1,1385.1 644.8,1384.8 645.5,1384.5 646.2,1384.2 646.9,1383.8 647.6,1383.5 648.3,1383.2 649.0,1382.8 649.7,1382.5 650.4,1382.1 651.1,1381.7 651.8,1381.3 652.5,1381.0 653.2,1380.6 653.9,1380.2 654.6,1379.8 655.3,1379.3 656.0,1378.9 656.7,1378.5 657.4,1378.0 658.1,1377.6 658.8,1377.1 659.5,1376.7 660.2,1376.2 660.9,1375.7 661.6,1375.2 662.3,1374.7 663.0,1374.2 663.7,1373.7 664.4,1373.2 665.1,1372.6 665.8,1372.1 666.5,1371.6 667.2,1371.0 667.9,1370.4 668.6,1369.9 669.3,1369.3 670.0,1368.7 670.7,1368.1 671.4,1367.5 672.1,1366.9 672.8,1366.2 673.5,1365.6 674.2,1365.0 674.9,1364.3 675.6,1363.6 676.3,1363.0 677.0,1362.3 677.7,1361.6 678.4,1360.9 679.1,1360.2 679.8,1359.5 680.5,1358.8 681.2,1358.1 681.9,1357.3 682.6,1356.6 683.3,1355.8 684.0,1355.1 684.7,1354.3 685.4,1353.5 686.1,1352.7 686.8,1352.0 687.5,1351.2 688.2,1350.4 688.9,1349.5 689.6,1348.7 690.3,1347.9 691.0,1347.1 691.7,1346.2 692.4,1345.4 693.1,1344.5 693.8,1343.7 694.5,1342.8 695.2,1342.0 695.9,1341.1 696.6,1340.2 697.3,1339.3 698.0,1338.5 698.7,1337.6 699.4,1336.7 700.1,1335.8 700.8,1334.9 701.5,1334.0 702.2,1333.1 702.9,1332.2 703.6,1331.2 704.3,1330.3 705.0,1329.4 705.7,1328.5 706.4,1327.6 707.1,1326.7 707.8,1325.7 708.5,1324.8 709.2,1323.9 709.9,1323.0 710.6,1322.0 711.3,1321.1 712.0,1320.2 712.7,1319.3 713.4,1318.3 714.1,1317.4 714.8,1316.5 715.5,1315.6 716.2,1314.7 716.9,1313.8 717.6,1312.9 718.3,1312.0 719.0,1311.1 719.7,1310.2 720.4,1309.3 721.1,1308.4 721.8,1307.5 722.5,1306.7 723.2,1305.8 723.9,1304.9 724.6,1304.1 725.3,1303.2 726.0,1302.4 726.7,1301.6 727.4,1300.8 728.1,1300.0 728.8,1299.2 729.5,1298.4 730.2,1297.6 730.9,1296.8 731.6,1296.1 732.3,1295.3 733.0,1294.6 733.7,1293.8 734.4,1293.1 735.1,1292.4 735.8,1291.7 736.5,1291.1 737.2,1290.4 737.9,1289.8 738.6,1289.1 739.3,1288.5 740.0,1287.9 740.7,1287.3 741.4,1286.7 742.1,1286.2 742.8,1285.6 743.5,1285.1 744.2,1284.6 744.9,1284.1 745.6,1283.6 746.3,1283.2 747.0,1282.8 747.7,1282.3 748.4,1281.9 749.1,1281.5 749.8,1281.2 750.5,1280.8 751.2,1280.5 751.9,1280.2 752.6,1279.9 753.3,1279.7 754.0,1279.4 754.7,1279.2 755.4,1279.0 756.1,1278.8 756.8,1278.6 757.5,1278.5 758.2,1278.4 758.9,1278.3 759.6,1278.2 760.3,1278.2 761.0,1278.1 761.7,1278.1 762.4,1278.2 763.1,1278.2 763.8,1278.3 764.5,1278.4 765.2,1278.5 765.9,1278.7 766.6,1278.8 767.3,1279.0 768.0,1279.2 768.7,1279.5 769.4,1279.7 770.1,1280.0 770.8,1280.3 771.5,1280.7 772.2,1281.0 772.9,1281.4 773.6,1281.8 774.3,1282.2 775.0,1282.6 775.7,1283.0 776.4,1283.5 777.1,1284.0 777.8,1284.5 778.5,1285.0 779.2,1285.6 779.9,1286.1 780.6,1286.7 781.3,1287.3 782.0,1287.9 782.7,1288.5 783.4,1289.2 784.1,1289.8 784.8,1290.5 785.5,1291.2 786.2,1291.9 786.9,1292.6 787.6,1293.4 788.3,1294.1 789.0,1294.9 789.7,1295.6 790.4,1296.4 791.1,1297.2 791.8,1298.0 792.5,1298.9 793.2,1299.7 793.9,1300.5 794.6,1301.4 795.3,1302.2 796.0,1303.1 796.7,1304.0 797.4,1304.9 798.1,1305.8 798.8,1306.7 799.5,1307.6 800.2,1308.5 800.9,1309.4 801.6,1310.4 802.3,1311.3 803.0,1312.2 803.7,1313.2 804.4,1314.1 805.1,1315.1 805.8,1316.1 806.5,1317.0 807.2,1318.0 807.9,1319.0 808.6,1319.9 809.3,1320.9 810.0,1321.9 810.7,1322.9 811.4,1323.8 812.1,1324.8 812.8,1325.8 813.5,1326.8 814.2,1327.8 814.9,1328.7 815.6,1329.7 816.3,1330.7 817.0,1331.7 817.7,1332.6 818.4,1333.6 819.1,1334.6 819.8,1335.5 820.5,1336.5 821.2,1337.5 821.9,1338.4 822.6,1339.4 823.3,1340.3 824.0,1341.2 824.7,1342.2 825.4,1343.1 826.1,1344.0 826.8,1345.0 827.5,1345.9 828.2,1346.8 828.9,1347.7 829.6,1348.6 830.3,1349.5 831.0,1350.4 831.7,1351.2 832.4,1352.1 833.1,1353.0 833.8,1353.8 834.5,1354.7 835.2,1355.5 835.9,1356.4 836.6,1357.2 837.3,1358.0 838.0,1358.8 838.7,1359.6 839.4,1360.4 840.1,1361.2 840.8,1362.0 841.5,1362.7 842.2,1363.5 842.9,1364.2 843.6,1365.0 844.3,1365.7 845.0,1366.4 845.7,1367.2 846.4,1367.9 847.1,1368.6 847.8,1369.2 848.5,1369.9 849.2,1370.6 849.9,1371.2 850.6,1371.9 851.3,1372.5 852.0,1373.2 852.7,1373.8 853.4,1374.4 854.1,1375.0 854.8,1375.6 855.5,1376.2 856.2,1376.8 856.9,1377.3 857.6,1377.9 858.3,1378.4 859.0,1379.0 859.7,1379.5 860.4,1380.0 861.1,1380.5 861.8,1381.0 862.5,1381.5 863.2,1382.0 863.9,1382.5 864.6,1383.0 865.3,1383.4 866.0,1383.9 866.7,1384.3 867.4,1384.8 868.1,1385.2 868.8,1385.6 869.5,1386.0 870.2,1386.4 870.9,1386.8 871.6,1387.2 872.3,1387.6 873.0,1387.9 873.7,1388.3 874.4,1388.6 875.1,1389.0 875.8,1389.3 876.5,1389.7 877.2,1390.0 877.9,1390.3 878.6,1390.6 879.3,1390.9 880.0,1391.2 880.7,1391.5 881.4,1391.8 882.1,1392.1 882.8,1392.3 883.5,1392.6 884.2,1392.9 884.9,1393.1 885.6,1393.4 886.3,1393.6 887.0,1393.8 887.7,1394.1 888.4,1394.3 889.1,1394.5 889.8,1394.7 890.5,1394.9 891.2,1395.1 891.9,1395.3 892.6,1395.5 893.3,1395.7 894.0,1395.9 894.7,1396.0 895.4,1396.2 896.1,1396.4 896.8,1396.5 897.5,1396.7 898.2,1396.9 898.9,1397.0 899.6,1397.2 900.3,1397.3 901.0,1397.4 901.7,1397.6 902.4,1397.7 903.1,1397.8 903.8,1397.9 904.5,1398.1 905.2,1398.2 905.9,1398.3 906.6,1398.4 907.3,1398.5 908.0,1398.6 908.7,1398.7 909.4,1398.8 910.1,1398.9 910.8,1399.0 911.5,1399.1 912.2,1399.2 912.9,1399.2 913.6,1399.3 914.3,1399.4 915.0,1399.5 915.7,1399.5 916.4,1399.6 917.1,1399.7 917.8,1399.8 918.5,1399.8 919.2,1399.9 919.9,1399.9" fill="none" stroke="#0000ff" stroke-width="3.6" stroke-linejoin="round" stroke-linecap="round"/>
<polyline points="530.0,1406.5 530.7,1406.5 531.4,1406.5 532.1,1406.5 532.8,1406.5 533.5,1406.5 534.2,1406.5 534.9,1406.5 535.6,1406.5 536.3,1406.5 537.0,1406.5 537.7,1406.5 538.4,1406.5 539.1,1406.5 539.8,1406.5 540.5,1406.5 541.2,1406.5 541.9,1406.5 542.6,1406.5 543.3,1406.5 544.0,1406.5 544.7,1406.5 545.4,1406.5 546.1,1406.5 546.8,1406.5 547.5,1406.5 548.2,1406.5 548.9,1406.5 549.6,1406.5 550.3,1406.5 551.0,1406.5 551.7,1406.5 552.4,1406.5 553.1,1406.5 553.8,1406.5 554.5,1406.5 555.2,1406.5 555.9,1406.5 556.6,1406.5 557.3,1406.5 558.0,1406.5 558.7,1406.5 559.4,1406.5 560.1,1406.5 560.8,1406.5 561.5,1406.5 562.2,1406.5 562.9,1406.5 563.6,1406.5 564.3,1406.5 565.0,1406.5 565.7,1406.5 566.4,1406.5 567.1,1406.5 567.8,1406.5 568.5,1406.5 569.2,1406.5 569.9,1406.5 570.6,1406.5 571.3,1406.5 572.0,1406.5 572.7,1406.5 573.4,1406.5 574.1,1406.5 574.8,1406.5 575.5,1406.5 576.2,1406.5 576.9,1406.5 577.6,1406.5 578.3,1406.5 579.0,1406.5 579.7,1406.5 580.4,1406.5 581.1,1406.5 581.8,1406.5 582.5,1406.5 583.2,1406.5 583.9,1406.5 584.6,1406.5 585.3,1406.5 586.0,1406.5 586.7,1406.5 587.4,1406.5 588.1,1406.5 588.8,1406.5 589.5,1406.5 590.2,1406.5 590.9,1406.5 591.6,1406.5 592.3,1406.5 593.0,1406.5 593.7,1406.5 594.4,1406.5 595.1,1406.5 595.8,1406.5 596.5,1406.5 597.2,1406.5 597.9,1406.5 598.6,1406.5 599.3,1406.5 600.0,1406.5 600.7,1406.5 601.4,1406.5 602.1,1406.5 602.8,1406.5 603.5,1406.5 604.2,1406.5 604.9,1406.5 605.6,1406.5 606.3,1406.5 607.0,1406.5 607.7,1406.5 608.4,1406.5 609.1,1406.5 609.8,1406.5 610.5,1406.5 611.2,1406.5 611.9,1406.5 612.6,1406.5 613.3,1406.5 614.0,1406.5 614.7,1406.5 615.4,1406.5 616.1,1406.5 616.8,1406.5 617.5,1406.5 618.2,1406.5 618.9,1406.5 619.6,1406.5 620.3,1406.5 621.0,1406.5 621.7,1406.5 622.4,1406.5 623.1,1406.5 623.8,1406.5 624.5,1406.5 625.2,1406.5 625.9,1406.5 626.6,1406.5 627.3,1406.5 628.0,1406.5 628.7,1406.5 629.4,1406.5 630.1,1406.5 630.8,1406.5 631.5,1406.5 632.2,1406.5 632.9,1406.5 633.6,1406.5 634.3,1406.5 635.0,1406.5 635.7,1406.5 636.4,1406.5 637.1,1406.5 637.8,1406.5 638.5,1406.5 639.2,1406.5 639.9,1406.5 640.6,1406.5 641.3,1406.5 642.0,1406.5 642.7,1406.5 643.4,1406.5 644.1,1406.5 644.8,1406.5 645.5,1406.5 646.2,1406.5 646.9,1406.5 647.6,1406.5 648.3,1406.5 649.0,1406.5 649.7,1406.5 650.4,1406.5 651.1,1406.5 651.8,1406.5 652.5,1406.5 653.2,1406.5 653.9,1406.5 654.6,1406.5 655.3,1406.5 656.0,1406.5 656.7,1406.5 657.4,1406.5 658.1,1406.5 658.8,1406.5 659.5,1406.5 660.2,1406.5 660.9,1406.5 661.6,1406.5 662.3,1406.5 663.0,1406.5 663.7,1406.5 664.4,1406.5 665.1,1406.5 665.8,1406.5 666.5,1406.5 667.2,1406.5 667.9,1406.5 668.6,1406.5 669.3,1406.5 670.0,1406.5 670.7,1406.5 671.4,1406.5 672.1,1406.5 672.8,1406.5 673.5,1406.5 674.2,1406.5 674.9,1406.4 675.6,1406.4 676.3,1406.4 677.0,1406.4 677.7,1406.4 678.4,1406.4 679.1,1406.4 679.8,1406.4 680.5,1406.4 681.2,1406.4 681.9,1406.4 682.6,1406.4 683.3,1406.4 684.0,1406.3 684.7,1406.3 685.4,1406.3 686.1,1406.3 686.8,1406.3 687.5,1406.3 688.2,1406.3 688.9,1406.2 689.6,1406.2 690.3,1406.2 691.0,1406.2 691.7,1406.1 692.4,1406.1 693.1,1406.1 693.8,1406.1 694.5,1406.0 695.2,1406.0 695.9,1406.0 696.6,1405.9 697.3,1405.9 698.0,1405.8 698.7,1405.8 699.4,1405.7 700.1,1405.7 700.8,1405.6 701.5,1405.6 702.2,1405.5 702.9,1405.4 703.6,1405.4 704.3,1405.3 705.0,1405.2 705.7,1405.1 706.4,1405.1 707.1,1405.0 707.8,1404.9 708.5,1404.8 709.2,1404.7 709.9,1404.6 710.6,1404.4 711.3,1404.3 712.0,1404.2 712.7,1404.0 713.4,1403.9 714.1,1403.7 714.8,1403.6 715.5,1403.4 716.2,1403.2 716.9,1403.1 717.6,1402.9 718.3,1402.7 719.0,1402.4 719.7,1402.2 720.4,1402.0 721.1,1401.8 721.8,1401.5 722.5,1401.2 723.2,1401.0 723.9,1400.7 724.6,1400.4 725.3,1400.1 726.0,1399.8 726.7,1399.4 727.4,1399.1 728.1,1398.7 728.8,1398.4 729.5,1398.0 730.2,1397.6 730.9,1397.2 731.6,1396.8 732.3,1396.3 733.0,1395.9 733.7,1395.4 734.4,1394.9 735.1,1394.4 735.8,1393.9 736.5,1393.3 737.2,1392.8 737.9,1392.2 738.6,1391.6 739.3,1391.0 740.0,1390.4 740.7,1389.8 741.4,1389.1 742.1,1388.5 742.8,1387.8 743.5,1387.1 744.2,1386.4 744.9,1385.6 745.6,1384.9 746.3,1384.1 747.0,1383.3 747.7,1382.5 748.4,1381.7 749.1,1380.9 749.8,1380.0 750.5,1379.2 751.2,1378.3 751.9,1377.4 752.6,1376.5 753.3,1375.6 754.0,1374.6 754.7,1373.7 755.4,1372.7 756.1,1371.7 756.8,1370.8 757.5,1369.8 758.2,1368.7 758.9,1367.7 759.6,1366.7 760.3,1365.7 761.0,1364.6 761.7,1363.5 762.4,1362.5 763.1,1361.4 763.8,1360.3 764.5,1359.3 765.2,1358.2 765.9,1357.1 766.6,1356.0 767.3,1354.9 768.0,1353.8 768.7,1352.7 769.4,1351.6 770.1,1350.5 770.8,1349.4 771.5,1348.4 772.2,1347.3 772.9,1346.2 773.6,1345.2 774.3,1344.1 775.0,1343.1 775.7,1342.0 776.4,1341.0 777.1,1340.0 777.8,1339.0 778.5,1338.0 779.2,1337.0 779.9,1336.0 780.6,1335.1 781.3,1334.2 782.0,1333.3 782.7,1332.4 783.4,1331.5 784.1,1330.7 784.8,1329.8 785.5,1329.0 786.2,1328.2 786.9,1327.5 787.6,1326.8 788.3,1326.0 789.0,1325.4 789.7,1324.7 790.4,1324.1 791.1,1323.5 791.8,1322.9 792.5,1322.3 793.2,1321.8 793.9,1321.3 794.6,1320.9 795.3,1320.4 796.0,1320.0 796.7,1319.7 797.4,1319.3 798.1,1319.0 798.8,1318.7 799.5,1318.5 800.2,1318.2 800.9,1318.0 801.6,1317.9 802.3,1317.7 803.0,1317.6 803.7,1317.5 804.4,1317.4 805.1,1317.4 805.8,1317.3 806.5,1317.3 807.2,1317.4 807.9,1317.4 808.6,1317.5 809.3,1317.6 810.0,1317.7 810.7,1317.8 811.4,1318.0 812.1,1318.2 812.8,1318.4 813.5,1318.7 814.2,1319.0 814.9,1319.3 815.6,1319.6 816.3,1319.9 817.0,1320.3 817.7,1320.7 818.4,1321.2 819.1,1321.6 819.8,1322.1 820.5,1322.6 821.2,1323.1 821.9,1323.7 822.6,1324.3 823.3,1324.9 824.0,1325.5 824.7,1326.1 825.4,1326.8 826.1,1327.4 826.8,1328.1 827.5,1328.9 828.2,1329.6 828.9,1330.3 829.6,1331.1 830.3,1331.9 831.0,1332.7 831.7,1333.5 832.4,1334.3 833.1,1335.2 833.8,1336.0 834.5,1336.9 835.2,1337.7 835.9,1338.6 836.6,1339.5 837.3,1340.4 838.0,1341.3 838.7,1342.2 839.4,1343.1 840.1,1344.1 840.8,1345.0 841.5,1345.9 842.2,1346.9 842.9,1347.8 843.6,1348.7 844.3,1349.7 845.0,1350.6 845.7,1351.6 846.4,1352.5 847.1,1353.4 847.8,1354.4 848.5,1355.3 849.2,1356.2 849.9,1357.1 850.6,1358.0 851.3,1358.9 852.0,1359.8 852.7,1360.7 853.4,1361.6 854.1,1362.5 854.8,1363.4 855.5,1364.2 856.2,1365.1 856.9,1365.9 857.6,1366.8 858.3,1367.6 859.0,1368.4 859.7,1369.2 860.4,1370.0 861.1,1370.8 861.8,1371.5 862.5,1372.3 863.2,1373.0 863.9,1373.7 864.6,1374.5 865.3,1375.2 866.0,1375.8 866.7,1376.5 867.4,1377.2 868.1,1377.8 868.8,1378.5 869.5,1379.1 870.2,1379.7 870.9,1380.3 871.6,1380.9 872.3,1381.4 873.0,1382.0 873.7,1382.5 874.4,1383.0 875.1,1383.6 875.8,1384.0 876.5,1384.5 877.2,1385.0 877.9,1385.5 878.6,1385.9 879.3,1386.3 880.0,1386.8 880.7,1387.2 881.4,1387.6 882.1,1387.9 882.8,1388.3 883.5,1388.7 884.2,1389.0 884.9,1389.4 885.6,1389.7 886.3,1390.0 887.0,1390.3 887.7,1390.6 888.4,1390.9 889.1,1391.1 889.8,1391.4 890.5,1391.7 891.2,1391.9 891.9,1392.1 892.6,1392.4 893.3,1392.6 894.0,1392.8 894.7,1393.0 895.4,1393.2 896.1,1393.4 896.8,1393.6 897.5,1393.7 898.2,1393.9 898.9,1394.0 899.6,1394.2 900.3,1394.3 901.0,1394.5 901.7,1394.6 902.4,1394.7 903.1,1394.8 903.8,1395.0 904.5,1395.1 905.2,1395.2 905.9,1395.3 906.6,1395.4 907.3,1395.5 908.0,1395.5 908.7,1395.6 909.4,1395.7 910.1,1395.8 910.8,1395.8 911.5,1395.9 912.2,1396.0 912.9,1396.0 913.6,1396.1 914.3,1396.1 915.0,1396.2 915.7,1396.2 916.4,1396.3 917.1,1396.3 917.8,1396.4 918.5,1396.4 919.2,1396.4 919.9,1396.5" fill="none" stroke="#0000ff" stroke-width="3.6" stroke-linejoin="round" stroke-linecap="round"/>
<polyline points="530.5,1391.5 531.1,1391.4 531.7,1391.3 532.3,1391.3 532.9,1391.2 533.5,1391.1 534.1,1391.1 534.7,1391.0 535.3,1390.9 535.9,1390.9 536.5,1390.8 537.1,1390.7 537.7,1390.6 538.3,1390.5 538.9,1390.5 539.5,1390.4 540.1,1390.3 540.7,1390.2 541.3,1390.1 541.9,1390.1 542.5,1390.0 543.1,1389.9 543.7,1389.8 544.3,1389.7 544.9,1389.6 545.5,1389.5 546.1,1389.5 546.7,1389.4 547.3,1389.3 547.9,1389.2 548.5,1389.1 549.1,1389.0 549.7,1388.9 550.3,1388.8 550.9,1388.7 551.5,1388.6 552.1,1388.5 552.7,1388.4 553.3,1388.3 553.9,1388.3 554.5,1388.2 555.1,1388.1 555.7,1388.0 556.3,1387.9 556.9,1387.8 557.5,1387.7 558.1,1387.6 558.7,1387.5 559.3,1387.4 559.9,1387.3 560.5,1387.2 561.1,1387.1 561.7,1387.0 562.3,1386.9 562.9,1386.8 563.5,1386.7 564.1,1386.7 564.7,1386.6 565.3,1386.5 565.9,1386.4 566.5,1386.3 567.1,1386.2 567.7,1386.1 568.3,1386.0 568.9,1385.9 569.5,1385.9 570.1,1385.8 570.7,1385.7 571.3,1385.6 571.9,1385.5 572.5,1385.4 573.1,1385.4 573.7,1385.3 574.3,1385.2 574.9,1385.1 575.5,1385.0 576.1,1385.0 576.7,1384.9 577.3,1384.8 577.9,1384.7 578.5,1384.7 579.1,1384.6 579.7,1384.5 580.3,1384.5 580.9,1384.4 581.5,1384.3 582.1,1384.3 582.7,1384.2 583.3,1384.1 583.9,1384.0 584.5,1384.0 585.1,1383.9 585.7,1383.8 586.3,1383.7 586.9,1383.6 587.5,1383.5 588.1,1383.4 588.7,1383.3 589.3,1383.2 589.9,1383.1 590.5,1383.0 591.1,1382.8 591.7,1382.7 592.3,1382.5 592.9,1382.4 593.5,1382.2 594.1,1382.0 594.7,1381.8 595.3,1381.6 595.9,1381.4 596.5,1381.1 597.1,1380.9 597.7,1380.6 598.3,1380.3 598.9,1380.0 599.5,1379.7 600.1,1379.3 600.7,1378.9 601.3,1378.5 601.9,1378.1 602.5,1377.6 603.1,1377.1 603.7,1376.6 604.3,1376.1 604.9,1375.5 605.5,1374.9 606.1,1374.3 606.7,1373.6 607.3,1373.0 607.9,1372.2 608.5,1371.5 609.1,1370.7 609.7,1369.9 610.3,1369.0 610.9,1368.1 611.5,1367.2 612.1,1366.2 612.7,1365.2 613.3,1364.2 613.9,1363.1 614.5,1362.0 615.1,1360.8 615.7,1359.6 616.3,1358.3 616.9,1357.1 617.5,1355.7 618.1,1354.3 618.7,1352.9 619.3,1351.5 619.9,1349.9 620.5,1348.4 621.1,1346.8 621.7,1345.1 622.3,1343.4 622.9,1341.6 623.5,1339.8 624.1,1338.0 624.7,1336.1 625.3,1334.1 625.9,1332.1 626.5,1330.0 627.1,1327.9 627.7,1325.7 628.3,1323.5 628.9,1321.2 629.5,1318.9 630.1,1316.6 630.7,1314.2 631.3,1311.7 631.9,1309.3 632.5,1306.7 633.1,1304.2 633.7,1301.6 634.3,1299.0 634.9,1296.3 635.5,1293.6 636.1,1290.9 636.7,1288.2 637.3,1285.4 637.9,1282.6 638.5,1279.8 639.1,1276.9 639.7,1274.0 640.3,1271.1 640.9,1268.2 641.5,1265.3 642.1,1262.3 642.7,1259.3 643.3,1256.3 643.9,1253.3 644.5,1250.2 645.1,1247.2 645.7,1244.1 646.3,1241.0 646.9,1237.9 647.5,1234.8 648.1,1231.7 648.7,1228.5 649.3,1225.4 649.9,1222.2 650.5,1219.0 651.1,1215.9 651.7,1212.7 652.3,1209.5 652.9,1206.2 653.5,1203.0 654.1,1199.8 654.7,1196.6 655.3,1193.4 655.9,1190.2 656.5,1187.0 657.1,1183.8 657.7,1180.6 658.3,1177.4 658.9,1174.3 659.5,1171.2 660.1,1168.1 660.7,1165.0 661.3,1162.0 661.9,1159.0 662.5,1156.0 663.1,1153.0 663.7,1150.1 664.3,1147.3 664.9,1144.5 665.5,1141.7 666.1,1139.0 666.7,1136.3 667.3,1133.7 667.9,1131.1 668.5,1128.6 669.1,1126.1 669.7,1123.7 670.3,1121.3 670.9,1119.0 671.5,1116.8 672.1,1114.5 672.7,1112.4 673.3,1110.3 673.9,1108.2 674.5,1106.2 675.1,1104.2 675.7,1102.3 676.3,1100.5 676.9,1098.7 677.5,1096.9 678.1,1095.3 678.7,1093.6 679.3,1092.0 679.9,1090.5 680.5,1089.0 681.1,1087.6 681.7,1086.2 682.3,1084.8 682.9,1083.5 683.5,1082.2 684.1,1081.0 684.7,1079.8 685.3,1078.7 685.9,1077.6 686.5,1076.5 687.1,1075.5 687.7,1074.5 688.3,1073.5 688.9,1072.6 689.5,1071.7 690.1,1070.9 690.7,1070.0 691.3,1069.2 691.9,1068.5 692.5,1067.8 693.1,1067.1 693.7,1066.4 694.3,1065.8 694.9,1065.3 695.5,1064.8 696.1,1064.3 696.7,1063.8 697.3,1063.4 697.9,1063.1 698.5,1062.8 699.1,1062.5 699.7,1062.3 700.3,1062.1 700.9,1062.0 701.5,1061.9 702.1,1061.9 702.7,1061.9 703.3,1062.0 703.9,1062.1 704.5,1062.2 705.1,1062.4 705.7,1062.6 706.3,1062.8 706.9,1063.1 707.5,1063.4 708.1,1063.8 708.7,1064.1 709.3,1064.5 709.9,1065.0 710.5,1065.4 711.1,1065.9 711.7,1066.4 712.3,1066.9 712.9,1067.4 713.5,1068.0 714.1,1068.5 714.7,1069.1 715.3,1069.7 715.9,1070.3 716.5,1070.9 717.1,1071.6 717.7,1072.2 718.3,1072.9 718.9,1073.6 719.5,1074.3 720.1,1075.1 720.7,1075.8 721.3,1076.6 721.9,1077.5 722.5,1078.3 723.1,1079.2 723.7,1080.1 724.3,1081.0 724.9,1082.0 725.5,1083.0 726.1,1084.0 726.7,1085.0 727.3,1086.1 727.9,1087.2 728.5,1088.3 729.1,1089.4 729.7,1090.6 730.3,1091.8 730.9,1092.9 731.5,1094.1 732.1,1095.3 732.7,1096.5 733.3,1097.8 733.9,1099.0 734.5,1100.2 735.1,1101.4 735.7,1102.6 736.3,1103.8 736.9,1105.0 737.5,1106.2 738.1,1107.4 738.7,1108.6 739.3,1109.8 739.9,1110.9 740.5,1112.1 741.1,1113.2 741.7,1114.3 742.3,1115.4 742.9,1116.5 743.5,1117.6 744.1,1118.7 744.7,1119.8 745.3,1120.8 745.9,1121.9 746.5,1122.9 747.1,1124.0 747.7,1125.0 748.3,1126.0 748.9,1127.0 749.5,1128.0 750.1,1129.0 750.7,1130.0 751.3,1131.0 751.9,1132.0 752.5,1132.9 753.1,1133.9 753.7,1134.8 754.3,1135.8 754.9,1136.7 755.5,1137.6 756.1,1138.5 756.7,1139.4 757.3,1140.3 757.9,1141.2 758.5,1142.1 759.1,1143.0 759.7,1143.8 760.3,1144.7 760.9,1145.6 761.5,1146.4 762.1,1147.2 762.7,1148.0 763.3,1148.9 763.9,1149.7 764.5,1150.5 765.1,1151.3 765.7,1152.0 766.3,1152.8 766.9,1153.6 767.5,1154.3 768.1,1155.1 768.7,1155.8 769.3,1156.6 769.9,1157.3 770.5,1158.0 771.1,1158.7 771.7,1159.4 772.3,1160.1 772.9,1160.8 773.5,1161.4 774.1,1162.1 774.7,1162.7 775.3,1163.4 775.9,1164.0 776.5,1164.7 777.1,1165.3 777.7,1165.9 778.3,1166.5 778.9,1167.1 779.5,1167.7 780.1,1168.3 780.7,1168.9 781.3,1169.5 781.9,1170.1 782.5,1170.7 783.1,1171.2 783.7,1171.8 784.3,1172.4 784.9,1172.9 785.5,1173.5 786.1,1174.1 786.7,1174.6 787.3,1175.2 787.9,1175.8 788.5,1176.3 789.1,1176.9 789.7,1177.4 790.3,1178.0 790.9,1178.6 791.5,1179.1 792.1,1179.7 792.7,1180.3 793.3,1180.9 793.9,1181.5 794.5,1182.0 795.1,1182.6 795.7,1183.2 796.3,1183.8 796.9,1184.4 797.5,1185.0 798.1,1185.7 798.7,1186.3 799.3,1186.9 799.9,1187.5 800.5,1188.2 801.1,1188.8 801.7,1189.5 802.3,1190.2 802.9,1190.8 803.5,1191.5 804.1,1192.2 804.7,1192.9 805.3,1193.6 805.9,1194.3 806.5,1195.0 807.1,1195.7 807.7,1196.5 808.3,1197.2 808.9,1197.9 809.5,1198.7 810.1,1199.5 810.7,1200.2 811.3,1201.0 811.9,1201.8 812.5,1202.5 813.1,1203.3 813.7,1204.1 814.3,1204.9 814.9,1205.7 815.5,1206.6 816.1,1207.4 816.7,1208.2 817.3,1209.1 817.9,1209.9 818.5,1210.7 819.1,1211.6 819.7,1212.5 820.3,1213.3 820.9,1214.2 821.5,1215.1 822.1,1216.0 822.7,1216.9 823.3,1217.8 823.9,1218.7 824.5,1219.7 825.1,1220.6 825.7,1221.7 826.3,1222.7 826.9,1223.8 827.5,1224.9 828.1,1226.1 828.7,1227.3 829.3,1228.5 829.9,1229.8 830.5,1231.1 831.1,1232.5 831.7,1233.8 832.3,1235.2 832.9,1236.5 833.5,1237.8 834.1,1239.2 834.7,1240.4 835.3,1241.7 835.9,1242.9 836.5,1244.1 837.1,1245.4 837.7,1246.5 838.3,1247.7 838.9,1248.9 839.5,1250.1 840.1,1251.2 840.7,1252.4 841.3,1253.5 841.9,1254.7 842.5,1255.9 843.1,1257.1 843.7,1258.3 844.3,1259.5 844.9,1260.8 845.5,1262.0 846.1,1263.3 846.7,1264.7 847.3,1266.0 847.9,1267.4 848.5,1268.8 849.1,1270.2 849.7,1271.6 850.3,1273.1 850.9,1274.6 851.5,1276.1 852.1,1277.6 852.7,1279.1 853.3,1280.6 853.9,1282.1 854.5,1283.7 855.1,1285.2 855.7,1286.8 856.3,1288.3 856.9,1289.9 857.5,1291.4 858.1,1293.0 858.7,1294.5 859.3,1296.1 859.9,1297.6 860.5,1299.1 861.1,1300.7 861.7,1302.2 862.3,1303.7 862.9,1305.2 863.5,1306.7 864.1,1308.1 864.7,1309.6 865.3,1311.0 865.9,1312.4 866.5,1313.8 867.1,1315.2 867.7,1316.5 868.3,1317.8 868.9,1319.1 869.5,1320.4 870.1,1321.7 870.7,1322.9 871.3,1324.1 871.9,1325.3 872.5,1326.4 873.1,1327.5 873.7,1328.5 874.3,1329.5 874.9,1330.5 875.5,1331.4 876.1,1332.2 876.7,1333.0 877.3,1333.7 877.9,1334.3 878.5,1334.9 879.1,1335.4 879.7,1335.9 880.3,1336.4 880.9,1336.9 881.5,1337.3 882.1,1337.7 882.7,1338.1 883.3,1338.5 883.9,1339.0 884.5,1339.4 885.1,1339.8 885.7,1340.3 886.3,1340.7 886.9,1341.2 887.5,1341.6 888.1,1342.1 888.7,1342.6 889.3,1343.1 889.9,1343.6 890.5,1344.2 891.1,1344.7 891.7,1345.3 892.3,1345.8 892.9,1346.4 893.5,1347.0 894.1,1347.7 894.7,1348.3 895.3,1349.0 895.9,1349.7 896.5,1350.4 897.1,1351.1 897.7,1351.8 898.3,1352.5 898.9,1353.3 899.5,1354.0 900.1,1354.7 900.7,1355.5 901.3,1356.2 901.9,1356.9 902.5,1357.5 903.1,1358.2 903.7,1358.8 904.3,1359.4 904.9,1360.0 905.5,1360.5 906.1,1360.9 906.7,1361.4 907.3,1361.7 907.9,1362.0 908.5,1362.3 909.1,1362.5 909.7,1362.6 910.3,1362.7 910.9,1362.8 911.5,1362.8 912.1,1362.8 912.7,1362.8 913.3,1362.7 913.9,1362.7 914.5,1362.6 915.1,1362.5 915.7,1362.5 916.3,1362.4 916.9,1362.4 917.5,1362.4 918.1,1362.4 918.7,1362.4 919.3,1362.5 919.5,1362.5" fill="none" stroke="#111" stroke-width="3.8" stroke-linejoin="round" stroke-linecap="round"/>
<polyline points="530.5,1394.0 531.1,1393.9 531.7,1393.9 532.3,1393.9 532.9,1393.9 533.5,1393.9 534.1,1393.9 534.7,1393.8 535.3,1393.8 535.9,1393.8 536.5,1393.8 537.1,1393.8 537.7,1393.7 538.3,1393.7 538.9,1393.7 539.5,1393.7 540.1,1393.7 540.7,1393.7 541.3,1393.6 541.9,1393.6 542.5,1393.6 543.1,1393.6 543.7,1393.6 544.3,1393.5 544.9,1393.5 545.5,1393.5 546.1,1393.5 546.7,1393.5 547.3,1393.4 547.9,1393.4 548.5,1393.4 549.1,1393.4 549.7,1393.4 550.3,1393.3 550.9,1393.3 551.5,1393.3 552.1,1393.3 552.7,1393.2 553.3,1393.2 553.9,1393.2 554.5,1393.1 555.1,1393.1 555.7,1393.1 556.3,1393.1 556.9,1393.0 557.5,1393.0 558.1,1393.0 558.7,1392.9 559.3,1392.9 559.9,1392.8 560.5,1392.8 561.1,1392.8 561.7,1392.7 562.3,1392.7 562.9,1392.6 563.5,1392.6 564.1,1392.5 564.7,1392.5 565.3,1392.4 565.9,1392.4 566.5,1392.3 567.1,1392.3 567.7,1392.2 568.3,1392.2 568.9,1392.1 569.5,1392.1 570.1,1392.0 570.7,1391.9 571.3,1391.9 571.9,1391.8 572.5,1391.7 573.1,1391.7 573.7,1391.6 574.3,1391.5 574.9,1391.5 575.5,1391.4 576.1,1391.3 576.7,1391.2 577.3,1391.1 577.9,1391.1 578.5,1391.0 579.1,1390.9 579.7,1390.8 580.3,1390.7 580.9,1390.6 581.5,1390.5 582.1,1390.3 582.7,1390.2 583.3,1390.0 583.9,1389.9 584.5,1389.7 585.1,1389.5 585.7,1389.3 586.3,1389.1 586.9,1388.9 587.5,1388.6 588.1,1388.3 588.7,1388.0 589.3,1387.7 589.9,1387.3 590.5,1387.0 591.1,1386.6 591.7,1386.1 592.3,1385.7 592.9,1385.3 593.5,1384.8 594.1,1384.3 594.7,1383.8 595.3,1383.3 595.9,1382.8 596.5,1382.3 597.1,1381.8 597.7,1381.2 598.3,1380.7 598.9,1380.2 599.5,1379.7 600.1,1379.2 600.7,1378.7 601.3,1378.2 601.9,1377.7 602.5,1377.2 603.1,1376.8 603.7,1376.3 604.3,1375.9 604.9,1375.4 605.5,1375.0 606.1,1374.5 606.7,1374.0 607.3,1373.6 607.9,1373.1 608.5,1372.5 609.1,1372.0 609.7,1371.4 610.3,1370.8 610.9,1370.2 611.5,1369.5 612.1,1368.8 612.7,1368.0 613.3,1367.2 613.9,1366.4 614.5,1365.5 615.1,1364.5 615.7,1363.5 616.3,1362.4 616.9,1361.3 617.5,1360.1 618.1,1358.9 618.7,1357.6 619.3,1356.2 619.9,1354.8 620.5,1353.3 621.1,1351.8 621.7,1350.2 622.3,1348.6 622.9,1346.9 623.5,1345.2 624.1,1343.4 624.7,1341.5 625.3,1339.6 625.9,1337.7 626.5,1335.7 627.1,1333.6 627.7,1331.5 628.3,1329.3 628.9,1327.1 629.5,1324.9 630.1,1322.6 630.7,1320.3 631.3,1317.9 631.9,1315.5 632.5,1313.1 633.1,1310.6 633.7,1308.1 634.3,1305.6 634.9,1303.0 635.5,1300.4 636.1,1297.8 636.7,1295.1 637.3,1292.5 637.9,1289.8 638.5,1287.1 639.1,1284.4 639.7,1281.6 640.3,1278.9 640.9,1276.1 641.5,1273.3 642.1,1270.5 642.7,1267.6 643.3,1264.7 643.9,1261.8 644.5,1258.8 645.1,1255.8 645.7,1252.8 646.3,1249.7 646.9,1246.6 647.5,1243.4 648.1,1240.2 648.7,1237.0 649.3,1233.8 649.9,1230.6 650.5,1227.3 651.1,1224.0 651.7,1220.8 652.3,1217.5 652.9,1214.2 653.5,1211.0 654.1,1207.7 654.7,1204.5 655.3,1201.3 655.9,1198.1 656.5,1194.9 657.1,1191.7 657.7,1188.6 658.3,1185.4 658.9,1182.3 659.5,1179.2 660.1,1176.1 660.7,1173.1 661.3,1170.1 661.9,1167.1 662.5,1164.1 663.1,1161.1 663.7,1158.2 664.3,1155.3 664.9,1152.5 665.5,1149.6 666.1,1146.8 666.7,1144.1 667.3,1141.4 667.9,1138.7 668.5,1136.0 669.1,1133.4 669.7,1130.9 670.3,1128.3 670.9,1125.9 671.5,1123.4 672.1,1121.0 672.7,1118.7 673.3,1116.4 673.9,1114.1 674.5,1111.9 675.1,1109.8 675.7,1107.7 676.3,1105.6 676.9,1103.6 677.5,1101.7 678.1,1099.8 678.7,1098.0 679.3,1096.2 679.9,1094.5 680.5,1092.8 681.1,1091.2 681.7,1089.7 682.3,1088.1 682.9,1086.7 683.5,1085.3 684.1,1083.9 684.7,1082.6 685.3,1081.3 685.9,1080.1 686.5,1079.0 687.1,1077.8 687.7,1076.8 688.3,1075.7 688.9,1074.8 689.5,1073.8 690.1,1072.9 690.7,1072.1 691.3,1071.3 691.9,1070.5 692.5,1069.8 693.1,1069.1 693.7,1068.5 694.3,1067.9 694.9,1067.4 695.5,1066.9 696.1,1066.4 696.7,1066.0 697.3,1065.6 697.9,1065.2 698.5,1064.9 699.1,1064.6 699.7,1064.4 700.3,1064.2 700.9,1064.0 701.5,1063.9 702.1,1063.8 702.7,1063.7 703.3,1063.7 703.9,1063.7 704.5,1063.8 705.1,1063.8 705.7,1063.9 706.3,1064.1 706.9,1064.3 707.5,1064.5 708.1,1064.7 708.7,1065.0 709.3,1065.3 709.9,1065.6 710.5,1065.9 711.1,1066.3 711.7,1066.7 712.3,1067.2 712.9,1067.6 713.5,1068.1 714.1,1068.7 714.7,1069.2 715.3,1069.8 715.9,1070.4 716.5,1071.0 717.1,1071.7 717.7,1072.4 718.3,1073.1 718.9,1073.8 719.5,1074.6 720.1,1075.3 720.7,1076.1 721.3,1077.0 721.9,1077.8 722.5,1078.7 723.1,1079.6 723.7,1080.5 724.3,1081.4 724.9,1082.4 725.5,1083.4 726.1,1084.4 726.7,1085.4 727.3,1086.4 727.9,1087.4 728.5,1088.5 729.1,1089.6 729.7,1090.7 730.3,1091.8 730.9,1092.9 731.5,1094.0 732.1,1095.2 732.7,1096.3 733.3,1097.4 733.9,1098.6 734.5,1099.7 735.1,1100.9 735.7,1102.1 736.3,1103.2 736.9,1104.4 737.5,1105.5 738.1,1106.7 738.7,1107.8 739.3,1108.9 739.9,1110.0 740.5,1111.2 741.1,1112.3 741.7,1113.4 742.3,1114.5 742.9,1115.5 743.5,1116.6 744.1,1117.7 744.7,1118.7 745.3,1119.8 745.9,1120.8 746.5,1121.8 747.1,1122.8 747.7,1123.8 748.3,1124.8 748.9,1125.8 749.5,1126.8 750.1,1127.7 750.7,1128.7 751.3,1129.6 751.9,1130.5 752.5,1131.4 753.1,1132.3 753.7,1133.2 754.3,1134.0 754.9,1134.9 755.5,1135.7 756.1,1136.6 756.7,1137.4 757.3,1138.2 757.9,1139.0 758.5,1139.8 759.1,1140.5 759.7,1141.3 760.3,1142.1 760.9,1142.8 761.5,1143.5 762.1,1144.3 762.7,1145.0 763.3,1145.7 763.9,1146.4 764.5,1147.1 765.1,1147.8 765.7,1148.5 766.3,1149.1 766.9,1149.8 767.5,1150.5 768.1,1151.1 768.7,1151.8 769.3,1152.4 769.9,1153.1 770.5,1153.7 771.1,1154.3 771.7,1154.9 772.3,1155.6 772.9,1156.2 773.5,1156.8 774.1,1157.4 774.7,1158.0 775.3,1158.6 775.9,1159.2 776.5,1159.8 777.1,1160.4 777.7,1161.0 778.3,1161.6 778.9,1162.2 779.5,1162.8 780.1,1163.3 780.7,1163.9 781.3,1164.5 781.9,1165.1 782.5,1165.7 783.1,1166.3 783.7,1166.8 784.3,1167.4 784.9,1168.0 785.5,1168.6 786.1,1169.2 786.7,1169.7 787.3,1170.3 787.9,1170.9 788.5,1171.5 789.1,1172.1 789.7,1172.6 790.3,1173.2 790.9,1173.8 791.5,1174.4 792.1,1175.0 792.7,1175.6 793.3,1176.2 793.9,1176.8 794.5,1177.4 795.1,1178.0 795.7,1178.6 796.3,1179.2 796.9,1179.8 797.5,1180.4 798.1,1181.1 798.7,1181.7 799.3,1182.3 799.9,1182.9 800.5,1183.6 801.1,1184.2 801.7,1184.9 802.3,1185.5 802.9,1186.2 803.5,1186.9 804.1,1187.5 804.7,1188.2 805.3,1188.9 805.9,1189.6 806.5,1190.3 807.1,1191.1 807.7,1191.8 808.3,1192.6 808.9,1193.3 809.5,1194.1 810.1,1194.9 810.7,1195.7 811.3,1196.5 811.9,1197.4 812.5,1198.2 813.1,1199.1 813.7,1200.0 814.3,1200.9 814.9,1201.8 815.5,1202.7 816.1,1203.6 816.7,1204.6 817.3,1205.5 817.9,1206.4 818.5,1207.4 819.1,1208.4 819.7,1209.3 820.3,1210.3 820.9,1211.2 821.5,1212.2 822.1,1213.1 822.7,1214.0 823.3,1215.0 823.9,1215.9 824.5,1216.8 825.1,1217.7 825.7,1218.6 826.3,1219.5 826.9,1220.4 827.5,1221.3 828.1,1222.2 828.7,1223.1 829.3,1224.1 829.9,1225.0 830.5,1226.0 831.1,1227.0 831.7,1228.1 832.3,1229.1 832.9,1230.2 833.5,1231.4 834.1,1232.6 834.7,1233.8 835.3,1235.1 835.9,1236.5 836.5,1237.9 837.1,1239.3 837.7,1240.9 838.3,1242.4 838.9,1244.0 839.5,1245.7 840.1,1247.4 840.7,1249.1 841.3,1250.8 841.9,1252.6 842.5,1254.4 843.1,1256.2 843.7,1258.0 844.3,1259.9 844.9,1261.7 845.5,1263.5 846.1,1265.4 846.7,1267.2 847.3,1269.0 847.9,1270.8 848.5,1272.6 849.1,1274.3 849.7,1276.0 850.3,1277.7 850.9,1279.4 851.5,1281.1 852.1,1282.7 852.7,1284.3 853.3,1285.9 853.9,1287.4 854.5,1289.0 855.1,1290.5 855.7,1292.0 856.3,1293.4 856.9,1294.9 857.5,1296.3 858.1,1297.7 858.7,1299.0 859.3,1300.4 859.9,1301.7 860.5,1303.0 861.1,1304.2 861.7,1305.5 862.3,1306.7 862.9,1307.9 863.5,1309.0 864.1,1310.2 864.7,1311.3 865.3,1312.4 865.9,1313.4 866.5,1314.5 867.1,1315.5 867.7,1316.5 868.3,1317.4 868.9,1318.4 869.5,1319.3 870.1,1320.2 870.7,1321.1 871.3,1321.9 871.9,1322.7 872.5,1323.5 873.1,1324.3 873.7,1325.0 874.3,1325.7 874.9,1326.4 875.5,1327.1 876.1,1327.8 876.7,1328.4 877.3,1329.0 877.9,1329.6 878.5,1330.2 879.1,1330.8 879.7,1331.4 880.3,1331.9 880.9,1332.5 881.5,1333.0 882.1,1333.5 882.7,1334.0 883.3,1334.5 883.9,1335.0 884.5,1335.5 885.1,1336.0 885.7,1336.5 886.3,1337.0 886.9,1337.5 887.5,1338.0 888.1,1338.5 888.7,1339.0 889.3,1339.5 889.9,1340.0 890.5,1340.5 891.1,1341.0 891.7,1341.6 892.3,1342.1 892.9,1342.6 893.5,1343.2 894.1,1343.8 894.7,1344.3 895.3,1344.9 895.9,1345.5 896.5,1346.2 897.1,1346.8 897.7,1347.5 898.3,1348.1 898.9,1348.8 899.5,1349.5 900.1,1350.1 900.7,1350.8 901.3,1351.5 901.9,1352.2 902.5,1352.8 903.1,1353.5 903.7,1354.1 904.3,1354.8 904.9,1355.4 905.5,1356.0 906.1,1356.6 906.7,1357.2 907.3,1357.8 907.9,1358.3 908.5,1358.9 909.1,1359.3 909.7,1359.8 910.3,1360.2 910.9,1360.6 911.5,1361.0 912.1,1361.3 912.7,1361.6 913.3,1361.9 913.9,1362.1 914.5,1362.3 915.1,1362.4 915.7,1362.5 916.3,1362.5 916.9,1362.5 917.5,1362.4 918.1,1362.3 918.7,1362.1 919.3,1361.8 919.5,1361.8" fill="none" stroke="#ff0000" stroke-width="4.0" stroke-linejoin="round" stroke-linecap="round"/>
<text transform="translate(712.20,1243.76) rotate(-90) scale(1.0074,1)" font-family="'Liberation Sans', sans-serif" font-weight="normal" font-size="33.86" fill="#111">398.1</text>
<text transform="translate(785.10,1273.34) rotate(-90) scale(0.9758,1)" font-family="'Liberation Sans', sans-serif" font-weight="normal" font-size="34.43" fill="#111">399.8</text>
<text transform="translate(829.20,1313.56) rotate(-90) scale(0.9600,1)" font-family="'Liberation Sans', sans-serif" font-weight="normal" font-size="35.65" fill="#111">401.2</text>
</svg>
</body></html>
